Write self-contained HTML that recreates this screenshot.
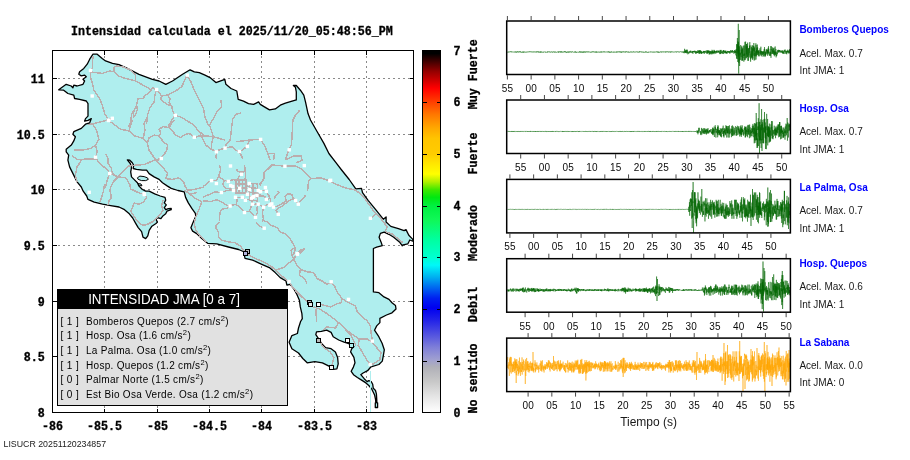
<!DOCTYPE html><html><head><meta charset="utf-8"><title>Intensidad JMA</title>
<style>html,body{margin:0;padding:0;background:#fff}svg{display:block;will-change:transform}.m{font-family:"Liberation Mono","DejaVu Sans Mono",monospace;font-weight:bold;font-size:11.67px;fill:#000;stroke:#000;stroke-width:0.3px}.s{font-family:"Liberation Sans","DejaVu Sans",sans-serif;fill:#1a1a1a}</style></head><body>
<svg width="910" height="460" viewBox="0 0 910 460">
<rect width="910" height="460" fill="#fff"/>
<clipPath id="mc"><rect x="52.5" y="50.5" width="361" height="362"/></clipPath>
<g stroke="#8a8a8a" stroke-width="1" stroke-dasharray="2,3" shape-rendering="crispEdges">
<line x1="104.5" y1="50.5" x2="104.5" y2="412.5"/>
<line x1="157.5" y1="50.5" x2="157.5" y2="412.5"/>
<line x1="209.5" y1="50.5" x2="209.5" y2="412.5"/>
<line x1="261.5" y1="50.5" x2="261.5" y2="412.5"/>
<line x1="314.5" y1="50.5" x2="314.5" y2="412.5"/>
<line x1="366.5" y1="50.5" x2="366.5" y2="412.5"/>
<line x1="52.5" y1="78.5" x2="413.5" y2="78.5"/>
<line x1="52.5" y1="134.5" x2="413.5" y2="134.5"/>
<line x1="52.5" y1="189.5" x2="413.5" y2="189.5"/>
<line x1="52.5" y1="245.5" x2="413.5" y2="245.5"/>
<line x1="52.5" y1="301.5" x2="413.5" y2="301.5"/>
<line x1="52.5" y1="356.5" x2="413.5" y2="356.5"/>
</g>
<g clip-path="url(#mc)">
<polygon points="93.0,54.2 97.2,54.2 102.2,58.4 105.6,60.9 112.5,63.3 119.0,64.7 127.3,68.4 139.0,74.3 152.4,79.3 159.1,81.0 165.8,84.3 172.5,81.0 182.6,74.3 190.1,69.8 194.3,71.8 199.3,72.6 205.0,75.1 210.0,77.6 215.9,82.6 224.8,79.3 225.9,84.3 231.0,88.5 236.8,91.0 238.2,99.4 243.5,101.1 248.5,103.6 253.6,104.4 258.6,101.9 260.3,104.4 264.4,106.9 269.5,109.9 275.3,108.9 280.3,105.2 285.4,103.2 292.1,101.1 296.3,99.9 296.3,91.8 295.4,87.2 293.4,85.5 296.3,85.5 300.4,90.2 303.8,95.2 305.5,101.9 308.0,113.6 310.5,120.0 317.2,131.7 323.9,143.4 328.9,153.5 337.3,164.4 341.6,170.0 349.2,179.5 355.8,188.9 361.5,188.4 362.5,192.7 368.1,200.3 375.7,209.7 383.3,219.2 386.1,216.9 386.1,222.0 390.8,226.4 398.4,228.7 404.1,230.6 406.0,229.6 408.8,235.3 412.6,239.1 413.5,241.5 409.8,240.0 407.9,243.8 403.1,244.8 402.2,245.7 399.4,241.9 393.7,237.2 388.9,234.3 384.2,232.1 380.4,233.4 379.1,237.2 381.0,241.9 382.3,245.7 376.7,247.2 373.4,248.5 373.4,291.9 378.9,292.7 384.0,296.9 389.0,299.4 392.0,302.8 395.5,305.5 396.0,309.0 392.0,312.8 386.5,315.0 379.9,318.3 379.9,322.6 376.7,325.9 374.5,330.2 378.8,336.7 382.1,343.2 384.3,349.8 383.2,356.3 382.3,361.1 378.9,364.5 371.0,366.8 367.6,370.7 363.1,373.0 360.8,374.7 364.2,378.7 367.1,381.6 368.8,380.6 371.2,381.5 372.7,384.3 373.3,388.3 375.5,390.5 376.4,393.9 376.7,398.5 376.9,402.8 377.6,402.8 377.6,407.5 375.3,407.5 375.3,402.8 375.8,402.8 375.5,399.0 374.6,395.1 373.3,392.2 371.6,388.8 368.8,385.5 365.9,382.9 362.0,380.4 357.4,377.5 353.5,374.7 351.2,371.3 353.4,367.1 355.0,362.8 353.9,357.4 350.6,351.9 351.7,348.7 353.9,346.5 350.6,344.3 347.3,343.2 344.1,342.2 338.7,340.0 333.2,336.7 331.1,332.4 326.7,330.2 321.3,331.3 316.5,331.9 315.8,334.6 318.7,338.9 321.3,343.2 325.6,347.6 331.1,348.7 335.4,351.9 337.6,357.4 338.2,363.9 336.9,368.9 333.2,369.3 328.9,366.1 322.4,362.8 314.8,361.7 307.2,362.8 302.8,358.5 298.5,353.0 291.9,348.7 289.1,342.2 291.9,335.6 297.4,333.5 298.5,328.0 300.6,321.5 302.3,318.7 301.9,313.6 300.3,306.9 299.4,300.2 296.9,294.4 293.6,288.5 290.2,284.3 286.9,285.2 286.0,281.0 280.2,277.6 275.2,272.6 269.3,267.6 261.8,264.3 252.6,260.1 245.0,258.4 244.2,254.2 244.4,252.0 238.6,249.5 228.5,247.0 216.8,243.9 207.6,243.3 201.8,238.6 196.7,233.6 192.6,231.1 190.9,227.7 192.6,223.5 195.9,216.0 195.2,213.2 191.8,208.4 188.3,202.9 185.6,197.4 184.2,191.9 178.0,190.5 171.2,188.4 167.5,186.1 162.5,182.8 159.1,179.4 154.1,176.9 149.1,173.6 146.6,170.2 142.4,170.2 136.5,169.4 133.2,168.5 133.7,165.2 132.3,162.7 129.8,160.2 127.3,159.8 130.3,163.5 131.5,167.7 130.7,171.9 131.5,176.9 134.0,179.4 137.4,182.8 139.0,186.1 142.4,189.5 145.7,191.1 149.2,191.2 154.7,193.9 160.2,196.0 165.0,197.4 165.7,200.1 164.3,202.9 166.3,204.9 164.3,207.7 165.7,209.7 168.4,208.6 171.2,208.4 171.2,209.7 167.0,211.1 165.7,213.8 162.9,215.9 160.9,218.7 157.4,217.7 156.0,219.3 157.4,222.1 156.0,223.5 151.9,226.2 149.2,230.3 147.8,235.8 145.7,238.6 143.0,237.2 141.6,231.7 138.2,227.6 135.4,222.8 132.7,218.0 129.3,213.8 124.5,209.7 119.0,207.0 110.7,205.6 102.5,204.2 94.2,202.2 88.0,199.4 86.7,196.0 83.2,191.2 81.3,187.0 77.1,181.9 74.6,176.9 72.1,171.9 69.6,166.9 67.9,160.2 68.7,155.2 66.2,151.8 66.2,149.3 71.3,145.1 73.8,140.9 75.4,136.7 72.9,134.2 73.8,131.7 81.3,128.4 85.5,124.2 89.7,122.8 91.3,118.6 88.0,120.3 84.6,121.1 85.5,118.6 88.0,116.1 88.0,103.6 86.3,101.0 79.6,99.4 74.6,98.5 73.8,95.2 67.9,93.5 63.7,90.2 58.7,89.8 66.2,84.3 71.2,86.0 72.9,87.7 73.8,85.2 77.1,86.0 83.0,84.3 84.6,81.0 83.0,79.3 86.3,76.8 84.6,75.1 81.3,75.9 78.8,74.3 79.6,71.8 83.8,68.4 87.2,64.2 89.7,59.2" fill="#afeeee" stroke="#000" stroke-width="1.3" stroke-linejoin="round"/>
<polygon points="137.4,177.8 139.9,176.1 144.1,176.6 147.4,177.8 148.3,179.4 145.7,180.6 141.6,180.6 138.2,179.4" fill="#afeeee" stroke="#000" stroke-width="1"/>
<polygon points="138.0,183.6 141.0,184.0 142.0,185.8 139.5,185.6" fill="#afeeee" stroke="#000" stroke-width="1"/>
<polyline points="93.0,55.9 92.2,68.4 90.5,70.9 90.5,76.8 93.0,86.0 93.8,90.2 99.7,98.5 102.2,105.2 104.7,113.6 108.1,119.5 112.3,118.3" fill="none" stroke="#bbadad" stroke-width="1.45" stroke-linejoin="round" shape-rendering="crispEdges"/>
<polyline points="108.1,119.8 93.8,123.7 88.0,124.5" fill="none" stroke="#bbadad" stroke-width="1.45" stroke-linejoin="round" shape-rendering="crispEdges"/>
<polyline points="90.5,71.8 95.5,72.6 102.2,73.4 109.8,70.9 113.9,71.8 118.1,75.9 125.7,78.5 135.7,81.0 143.2,85.2 148.3,87.7 150.8,91.0 148.3,93.5 144.9,95.2 143.2,98.5 138.2,98.5 136.5,105.2 134.0,110.3 131.5,114.4 130.7,122.0 129.0,126.2 132.3,120.0" fill="none" stroke="#bbadad" stroke-width="1.45" stroke-linejoin="round" shape-rendering="crispEdges"/>
<polyline points="113.9,71.8 113.9,67.6 116.4,65.9 122.3,66.7 130.7,70.1 135.7,75.1 135.7,81.0" fill="none" stroke="#bbadad" stroke-width="1.45" stroke-linejoin="round" shape-rendering="crispEdges"/>
<polyline points="150.8,91.0 152.4,87.7 156.6,89.8 159.1,92.7 161.6,96.0 160.8,99.4 163.3,101.9 167.5,104.4 171.7,106.1 172.5,110.3 175.0,115.3 180.9,117.0 187.6,121.1 194.3,125.3 197.6,130.0 203.5,135.1" fill="none" stroke="#bbadad" stroke-width="1.45" stroke-linejoin="round" shape-rendering="crispEdges"/>
<polyline points="156.6,89.8 154.9,95.2 154.1,101.9 149.9,107.8 147.4,115.3 146.6,123.7 145.7,120.0 144.1,123.3 144.9,130.0 143.2,138.4" fill="none" stroke="#bbadad" stroke-width="1.45" stroke-linejoin="round" shape-rendering="crispEdges"/>
<polyline points="161.6,96.0 167.5,94.9 170.8,93.5 176.7,90.2 181.7,86.8 185.1,79.3 186.8,75.1" fill="none" stroke="#bbadad" stroke-width="1.45" stroke-linejoin="round" shape-rendering="crispEdges"/>
<polyline points="167.5,94.9 170.0,98.5 169.2,102.7 171.7,106.1" fill="none" stroke="#bbadad" stroke-width="1.45" stroke-linejoin="round" shape-rendering="crispEdges"/>
<polyline points="186.8,75.1 190.9,81.8 194.3,90.2 199.3,100.2 203.5,108.6 205.0,117.0 208.4,125.3 210.0,126.7 213.4,136.7 211.7,143.4 211.7,149.3" fill="none" stroke="#bbadad" stroke-width="1.45" stroke-linejoin="round" shape-rendering="crispEdges"/>
<polyline points="136.5,105.2 134.0,110.3 133.2,117.0 135.7,114.4 137.4,109.4 136.5,105.2" fill="none" stroke="#bbadad" stroke-width="1.45" stroke-linejoin="round" shape-rendering="crispEdges"/>
<polyline points="175.0,115.3 171.7,120.3 168.3,126.2 169.2,127.5" fill="none" stroke="#bbadad" stroke-width="1.45" stroke-linejoin="round" shape-rendering="crispEdges"/>
<polyline points="220.9,100.2 221.8,106.9 216.7,111.9 214.2,117.0 210.0,124.5 208.4,125.3" fill="none" stroke="#bbadad" stroke-width="1.45" stroke-linejoin="round" shape-rendering="crispEdges"/>
<polyline points="241.0,112.8 236.0,114.4 232.6,119.5 231.8,126.2 231.0,133.4 230.1,140.1 225.9,145.1 225.1,148.1 220.9,149.3 216.7,151.0" fill="none" stroke="#bbadad" stroke-width="1.45" stroke-linejoin="round" shape-rendering="crispEdges"/>
<polyline points="299.6,110.3 295.4,115.3 292.9,120.3 292.4,126.0 292.1,136.7 291.2,145.1 288.7,150.1 287.0,155.2 285.4,160.2" fill="none" stroke="#bbadad" stroke-width="1.45" stroke-linejoin="round" shape-rendering="crispEdges"/>
<polyline points="92.2,123.3 96.4,130.0 98.9,139.2 95.5,145.1 97.2,151.8 95.5,157.7" fill="none" stroke="#bbadad" stroke-width="1.45" stroke-linejoin="round" shape-rendering="crispEdges"/>
<polyline points="73.8,150.1 82.1,150.1 90.5,148.5 95.5,145.1" fill="none" stroke="#bbadad" stroke-width="1.45" stroke-linejoin="round" shape-rendering="crispEdges"/>
<polyline points="72.1,156.0 77.1,159.3 82.1,159.3 95.5,158.8" fill="none" stroke="#bbadad" stroke-width="1.45" stroke-linejoin="round" shape-rendering="crispEdges"/>
<polyline points="82.1,159.3 77.1,166.9 75.4,175.2 77.1,181.9" fill="none" stroke="#bbadad" stroke-width="1.45" stroke-linejoin="round" shape-rendering="crispEdges"/>
<polyline points="95.5,157.7 100.5,164.4 107.2,169.4 109.7,173.6 113.9,175.2 118.1,176.9 124.0,170.2 129.0,166.0 135.7,165.2 144.9,164.4 154.1,160.2 160.8,158.5" fill="none" stroke="#bbadad" stroke-width="1.45" stroke-linejoin="round" shape-rendering="crispEdges"/>
<polyline points="105.6,153.5 108.1,158.5 108.1,163.5 111.4,168.5 112.3,173.6 118.1,176.9" fill="none" stroke="#bbadad" stroke-width="1.45" stroke-linejoin="round" shape-rendering="crispEdges"/>
<polyline points="109.7,173.6 107.2,180.3 105.6,187.0 104.5,185.0 103.2,191.9 101.1,198.7 99.7,202.2" fill="none" stroke="#bbadad" stroke-width="1.45" stroke-linejoin="round" shape-rendering="crispEdges"/>
<polyline points="118.1,176.9 113.9,181.1 110.6,187.0 110.0,190.5 111.4,197.4 108.7,201.5 108.0,204.9" fill="none" stroke="#bbadad" stroke-width="1.45" stroke-linejoin="round" shape-rendering="crispEdges"/>
<polyline points="118.1,176.9 125.7,177.8 129.8,184.4 130.6,189.1 134.1,190.5 138.2,192.6 144.4,194.6 146.4,197.4 143.7,202.2 138.9,204.2 134.1,202.9 132.7,207.0 130.6,211.1 134.1,216.6 137.5,221.4 141.6,224.8 146.4,224.8 151.9,222.1 156.0,218.7 160.2,214.5 162.9,210.4 161.5,205.6 162.9,200.1" fill="none" stroke="#bbadad" stroke-width="1.45" stroke-linejoin="round" shape-rendering="crispEdges"/>
<polyline points="108.9,120.5 114.8,125.0 120.6,129.2 129.0,130.9 134.9,135.9 143.2,138.4 147.4,143.4 149.1,150.1 152.4,155.2 156.6,161.0 160.8,158.5" fill="none" stroke="#bbadad" stroke-width="1.45" stroke-linejoin="round" shape-rendering="crispEdges"/>
<polyline points="156.6,161.0 162.5,166.9 167.5,173.6 165.8,178.6 172.5,179.4 178.7,177.8 183.7,181.9 185.4,187.0 187.6,190.3 194.3,189.5 203.5,187.0" fill="none" stroke="#bbadad" stroke-width="1.45" stroke-linejoin="round" shape-rendering="crispEdges"/>
<polyline points="215.9,158.5 216.7,151.0" fill="none" stroke="#bbadad" stroke-width="1.45" stroke-linejoin="round" shape-rendering="crispEdges"/>
<polyline points="129.0,130.9 130.7,125.0 132.3,120.0" fill="none" stroke="#bbadad" stroke-width="1.45" stroke-linejoin="round" shape-rendering="crispEdges"/>
<polyline points="147.4,143.4 149.1,137.6 154.1,135.1 159.1,135.9 163.3,141.8 167.5,145.1 166.7,151.0 162.5,156.0 160.8,158.5" fill="none" stroke="#bbadad" stroke-width="1.45" stroke-linejoin="round" shape-rendering="crispEdges"/>
<polyline points="159.1,135.9 160.8,132.6 159.1,129.2 163.3,126.7 169.2,127.5 175.9,135.1 180.1,137.6 185.9,134.2 189.3,133.4 194.3,137.6 199.3,135.9 205.0,135.9 213.4,136.7 225.1,140.1" fill="none" stroke="#bbadad" stroke-width="1.45" stroke-linejoin="round" shape-rendering="crispEdges"/>
<polyline points="169.2,127.5 171.7,123.3 174.2,120.0" fill="none" stroke="#bbadad" stroke-width="1.45" stroke-linejoin="round" shape-rendering="crispEdges"/>
<polyline points="200.0,133.4 205.9,145.1 210.9,149.3 216.7,151.0" fill="none" stroke="#bbadad" stroke-width="1.45" stroke-linejoin="round" shape-rendering="crispEdges"/>
<polyline points="225.1,148.1 231.8,146.8 236.0,150.1 239.3,151.5 243.5,149.3 246.9,146.4 249.4,140.1 260.3,139.2 264.4,145.1 267.8,153.5 270.3,160.2" fill="none" stroke="#bbadad" stroke-width="1.45" stroke-linejoin="round" shape-rendering="crispEdges"/>
<polyline points="249.4,140.1 236.0,141.8" fill="none" stroke="#bbadad" stroke-width="1.45" stroke-linejoin="round" shape-rendering="crispEdges"/>
<polyline points="267.8,153.5 274.5,153.5 273.6,160.2" fill="none" stroke="#bbadad" stroke-width="1.45" stroke-linejoin="round" shape-rendering="crispEdges"/>
<polyline points="306.3,173.6 311.4,178.5 320.8,177.9 328.4,180.4 336.0,184.2 345.4,188.0 354.9,189.9 360.6,193.7 365.3,199.3 372.9,210.0 375.7,213.5 381.4,219.2 387.1,226.8 385.2,231.5 392.7,234.3 398.4,239.1 403.1,242.9" fill="none" stroke="#bbadad" stroke-width="1.45" stroke-linejoin="round" shape-rendering="crispEdges"/>
<polyline points="375.7,213.5 372.9,216.4 370.4,218.3" fill="none" stroke="#bbadad" stroke-width="1.45" stroke-linejoin="round" shape-rendering="crispEdges"/>
<polyline points="285.4,160.2 293.7,156.0 301.3,156.0 302.1,160.2 296.3,162.7" fill="none" stroke="#bbadad" stroke-width="1.45" stroke-linejoin="round" shape-rendering="crispEdges"/>
<polyline points="311.4,178.5 308.5,181.4 307.6,190.8" fill="none" stroke="#bbadad" stroke-width="1.45" stroke-linejoin="round" shape-rendering="crispEdges"/>
<polyline points="239.3,151.5 242.7,158.5" fill="none" stroke="#bbadad" stroke-width="1.45" stroke-linejoin="round" shape-rendering="crispEdges"/>
<polyline points="184.2,190.0 190.0,194.2 195.1,198.4 201.8,201.8 199.3,208.5 195.9,216.8 194.2,223.5 195.9,230.2 200.1,236.1 206.8,241.9" fill="none" stroke="#bbadad" stroke-width="1.45" stroke-linejoin="round" shape-rendering="crispEdges"/>
<polyline points="190.0,194.2 196.7,192.6" fill="none" stroke="#bbadad" stroke-width="1.45" stroke-linejoin="round" shape-rendering="crispEdges"/>
<polyline points="256.2,222.7 259.5,226.0 263.7,228.2" fill="none" stroke="#bbadad" stroke-width="1.45" stroke-linejoin="round" shape-rendering="crispEdges"/>
<polyline points="219.3,221.8 216.0,225.2 216.0,228.5 218.5,231.9 218.5,236.9 221.8,240.3 228.5,241.9 235.2,242.8 240.3,246.1 244.4,251.1 247.5,254.2 255.1,258.4 263.4,261.7 271.8,266.8 276.0,270.9 283.0,277.0 288.5,281.8 295.2,290.2 301.1,296.1 307.0,301.9" fill="none" stroke="#bbadad" stroke-width="1.45" stroke-linejoin="round" shape-rendering="crispEdges"/>
<polyline points="263.7,221.0 267.0,221.8 271.2,225.2 277.1,227.7 280.4,231.9 286.3,234.4 290.5,239.4 293.0,243.6 295.5,248.6 293.8,253.7 291.9,255.0 293.6,259.2 288.5,263.4 283.5,267.6 276.0,270.1" fill="none" stroke="#bbadad" stroke-width="1.45" stroke-linejoin="round" shape-rendering="crispEdges"/>
<polyline points="297.2,253.7 300.5,250.3 304.7,248.3" fill="none" stroke="#bbadad" stroke-width="1.45" stroke-linejoin="round" shape-rendering="crispEdges"/>
<polyline points="293.6,245.0 295.2,247.5 291.1,250.0 291.9,255.0" fill="none" stroke="#bbadad" stroke-width="1.45" stroke-linejoin="round" shape-rendering="crispEdges"/>
<polyline points="304.4,248.3 300.3,251.7 296.9,254.2 293.6,259.2 296.9,265.1 300.3,269.3 307.0,271.8 313.7,272.6 317.0,278.5 322.0,281.0 327.0,284.3 331.2,282.7 334.6,286.0 337.1,291.9 342.1,298.6 347.1,301.9 355.5,306.1 357.2,312.0 362.2,317.0 366.9,320.4 370.2,325.9 371.2,333.5 372.3,341.1" fill="none" stroke="#bbadad" stroke-width="1.45" stroke-linejoin="round" shape-rendering="crispEdges"/>
<polyline points="300.3,269.3 299.4,275.1 304.4,278.5 307.0,283.5" fill="none" stroke="#bbadad" stroke-width="1.45" stroke-linejoin="round" shape-rendering="crispEdges"/>
<polyline points="320.7,304.4 330.4,306.9 337.1,303.6 341.3,302.8 342.1,298.6" fill="none" stroke="#bbadad" stroke-width="1.45" stroke-linejoin="round" shape-rendering="crispEdges"/>
<polyline points="313.7,306.9 320.3,309.4 327.0,313.6 333.7,318.7 338.7,322.6 345.2,329.1 353.9,335.6 359.3,338.9 366.9,338.9 372.3,342.2 376.7,347.6 381.0,353.0 379.9,359.5 373.4,363.9 370.2,364.5" fill="none" stroke="#bbadad" stroke-width="1.45" stroke-linejoin="round" shape-rendering="crispEdges"/>
<polyline points="316.2,308.6 316.2,316.1 316.9,321.5" fill="none" stroke="#bbadad" stroke-width="1.45" stroke-linejoin="round" shape-rendering="crispEdges"/>
<polyline points="359.3,338.9 358.2,345.4 361.5,350.8 364.7,356.3 368.0,361.7 370.2,364.5" fill="none" stroke="#bbadad" stroke-width="1.45" stroke-linejoin="round" shape-rendering="crispEdges"/>
<polyline points="338.7,322.6 335.4,328.0 326.7,326.9 323.5,330.2" fill="none" stroke="#bbadad" stroke-width="1.45" stroke-linejoin="round" shape-rendering="crispEdges"/>
<polyline points="320.2,342.2 323.5,347.6 330.0,351.9 333.9,357.4 332.1,365.0" fill="none" stroke="#bbadad" stroke-width="1.45" stroke-linejoin="round" shape-rendering="crispEdges"/>
<polyline points="345.2,329.1 351.7,336.7 356.0,345.4" fill="none" stroke="#bbadad" stroke-width="1.45" stroke-linejoin="round" shape-rendering="crispEdges"/>
<polyline points="300.0,253.3 304.7,248.5" fill="none" stroke="#bbadad" stroke-width="1.45" stroke-linejoin="round" shape-rendering="crispEdges"/>
<polyline points="219.4,165.0 220.6,169.8 218.8,175.8 221.1,178.2 224.1,180.6 222.9,184.7 225.3,188.3 230.1,188.9 233.7,189.5" fill="none" stroke="#bbadad" stroke-width="1.45" stroke-linejoin="round" shape-rendering="crispEdges"/>
<polyline points="203.0,186.5 205.0,185.3 209.2,181.7 211.6,180.6 216.4,180.6 218.8,175.8" fill="none" stroke="#bbadad" stroke-width="1.45" stroke-linejoin="round" shape-rendering="crispEdges"/>
<polyline points="203.0,197.0 205.0,196.1 209.8,194.3 214.6,191.9 221.1,192.5 226.5,190.7 233.7,189.5" fill="none" stroke="#bbadad" stroke-width="1.45" stroke-linejoin="round" shape-rendering="crispEdges"/>
<polyline points="203.0,201.0 205.0,200.9 211.0,201.5 217.0,199.7 221.7,202.1 227.7,205.7 236.1,204.5 237.3,199.7 235.5,197.3" fill="none" stroke="#bbadad" stroke-width="1.45" stroke-linejoin="round" shape-rendering="crispEdges"/>
<polyline points="219.4,221.0 219.4,219.4 220.0,212.8 221.7,209.3 227.7,208.1 229.0,206.0" fill="none" stroke="#bbadad" stroke-width="1.45" stroke-linejoin="round" shape-rendering="crispEdges"/>
<polyline points="236.1,204.5 240.9,208.1 244.5,212.2 249.3,211.1 251.1,206.9 252.2,204.5 257.6,203.9 257.0,209.9 257.6,212.8 255.2,217.0 250.5,212.2 249.3,211.1" fill="none" stroke="#bbadad" stroke-width="1.45" stroke-linejoin="round" shape-rendering="crispEdges"/>
<polyline points="257.6,203.9 263.6,206.9 267.2,204.5 270.8,204.5 273.5,207.0 276.8,206.3 281.6,203.9 286.3,200.9 285.1,196.1 287.5,193.7 291.7,194.3 293.5,198.5 288.7,200.9 282.8,205.7 278.0,208.1 276.2,210.5 278.0,214.0" fill="none" stroke="#bbadad" stroke-width="1.45" stroke-linejoin="round" shape-rendering="crispEdges"/>
<polyline points="263.6,206.9 262.4,212.8 263.6,219.4 262.0,221.0" fill="none" stroke="#bbadad" stroke-width="1.45" stroke-linejoin="round" shape-rendering="crispEdges"/>
<polyline points="293.5,198.5 295.3,200.3 298.3,204.2 300.7,200.9 304.3,197.3 305.5,195.1" fill="none" stroke="#bbadad" stroke-width="1.45" stroke-linejoin="round" shape-rendering="crispEdges"/>
<polyline points="273.8,198.5 276.8,194.9 279.2,192.5 277.4,191.3" fill="none" stroke="#bbadad" stroke-width="1.45" stroke-linejoin="round" shape-rendering="crispEdges"/>
<polyline points="272.0,165.0 267.2,169.8 264.2,172.2 264.2,178.2 261.2,182.9 259.4,183.5 261.2,185.3" fill="none" stroke="#bbadad" stroke-width="1.45" stroke-linejoin="round" shape-rendering="crispEdges"/>
<polyline points="272.0,165.0 279.2,165.6 285.1,166.2 295.9,166.2 300.7,168.6 305.0,172.2 306.3,173.6" fill="none" stroke="#bbadad" stroke-width="1.45" stroke-linejoin="round" shape-rendering="crispEdges"/>
<polyline points="244.5,165.0 245.1,169.8 243.3,172.2 237.3,171.6 236.7,168.6" fill="none" stroke="#bbadad" stroke-width="1.45" stroke-linejoin="round" shape-rendering="crispEdges"/>
<polyline points="245.1,169.8 245.7,174.6 245.1,179.4 246.3,182.9" fill="none" stroke="#bbadad" stroke-width="1.45" stroke-linejoin="round" shape-rendering="crispEdges"/>
<polyline points="224.1,180.6 228.3,181.1 233.7,179.4 236.1,180.6 240.9,174.6" fill="none" stroke="#bbadad" stroke-width="1.45" stroke-linejoin="round" shape-rendering="crispEdges"/>
<polyline points="245.7,188.9 255.2,187.7 260.0,190.7 266.0,190.7 268.4,194.9 270.2,198.5 270.8,204.5" fill="none" stroke="#bbadad" stroke-width="1.45" stroke-linejoin="round" shape-rendering="crispEdges"/>
<polyline points="257.6,193.7 264.8,196.7 266.6,199.7 270.2,198.5" fill="none" stroke="#bbadad" stroke-width="1.45" stroke-linejoin="round" shape-rendering="crispEdges"/>
<polyline points="235.5,197.3 242.1,197.3 245.7,200.3 251.1,198.5 252.8,197.3" fill="none" stroke="#bbadad" stroke-width="1.45" stroke-linejoin="round" shape-rendering="crispEdges"/>
<polyline points="252.2,204.5 251.7,200.9 251.1,198.5" fill="none" stroke="#bbadad" stroke-width="1.45" stroke-linejoin="round" shape-rendering="crispEdges"/>
<polyline points="236.0,180.0 246.0,180.0 246.0,193.0 236.0,193.0 236.0,180.0" fill="none" stroke="#bbadad" stroke-width="1.45" stroke-linejoin="round" shape-rendering="crispEdges"/>
<polyline points="239.0,180.0 239.0,193.0" fill="none" stroke="#bbadad" stroke-width="1.45" stroke-linejoin="round" shape-rendering="crispEdges"/>
<polyline points="242.5,180.0 242.5,193.0" fill="none" stroke="#bbadad" stroke-width="1.45" stroke-linejoin="round" shape-rendering="crispEdges"/>
<polyline points="236.0,184.0 246.0,184.0" fill="none" stroke="#bbadad" stroke-width="1.45" stroke-linejoin="round" shape-rendering="crispEdges"/>
<polyline points="236.0,188.0 246.0,188.0" fill="none" stroke="#bbadad" stroke-width="1.45" stroke-linejoin="round" shape-rendering="crispEdges"/>
<polyline points="249.5,183.0 257.5,184.0 257.5,201.0 249.5,200.0 249.5,183.0" fill="none" stroke="#bbadad" stroke-width="1.45" stroke-linejoin="round" shape-rendering="crispEdges"/>
<polyline points="253.0,183.5 253.0,200.5" fill="none" stroke="#bbadad" stroke-width="1.45" stroke-linejoin="round" shape-rendering="crispEdges"/>
<polyline points="249.5,188.0 257.5,188.5" fill="none" stroke="#bbadad" stroke-width="1.45" stroke-linejoin="round" shape-rendering="crispEdges"/>
<polyline points="249.5,192.5 257.5,193.0" fill="none" stroke="#bbadad" stroke-width="1.45" stroke-linejoin="round" shape-rendering="crispEdges"/>
<polyline points="249.5,196.5 257.5,197.0" fill="none" stroke="#bbadad" stroke-width="1.45" stroke-linejoin="round" shape-rendering="crispEdges"/>
<polyline points="246.0,186.0 249.5,186.5" fill="none" stroke="#bbadad" stroke-width="1.45" stroke-linejoin="round" shape-rendering="crispEdges"/>
<polyline points="246.0,190.5 249.5,191.0" fill="none" stroke="#bbadad" stroke-width="1.45" stroke-linejoin="round" shape-rendering="crispEdges"/>
<polyline points="257.5,190.0 260.0,190.7" fill="none" stroke="#bbadad" stroke-width="1.45" stroke-linejoin="round" shape-rendering="crispEdges"/>
<polyline points="257.5,196.0 264.0,196.5" fill="none" stroke="#bbadad" stroke-width="1.45" stroke-linejoin="round" shape-rendering="crispEdges"/>
<rect x="370" y="371" width="1" height="41" fill="#afeeee"/>
<rect x="88.8" y="68.7" width="3.4" height="3.4" fill="#fff"/>
<rect x="90.5" y="94.3" width="3.4" height="3.4" fill="#fff"/>
<rect x="107.2" y="118.6" width="3.4" height="3.4" fill="#fff"/>
<rect x="110.6" y="116.6" width="3.4" height="3.4" fill="#fff"/>
<rect x="154.9" y="87.8" width="3.4" height="3.4" fill="#fff"/>
<rect x="185.6" y="73.4" width="3.4" height="3.4" fill="#fff"/>
<rect x="173.7" y="113.6" width="3.4" height="3.4" fill="#fff"/>
<rect x="106.7" y="118.8" width="3.4" height="3.4" fill="#fff"/>
<rect x="93.8" y="155.5" width="3.4" height="3.4" fill="#fff"/>
<rect x="108" y="171.9" width="3.4" height="3.4" fill="#fff"/>
<rect x="87.5" y="190.6" width="3.4" height="3.4" fill="#fff"/>
<rect x="142.4" y="192" width="3.4" height="3.4" fill="#fff"/>
<rect x="159.6" y="156.8" width="3.4" height="3.4" fill="#fff"/>
<rect x="192.6" y="135.5" width="3.4" height="3.4" fill="#fff"/>
<rect x="214.7" y="150.1" width="3.4" height="3.4" fill="#fff"/>
<rect x="223.4" y="146.4" width="3.4" height="3.4" fill="#fff"/>
<rect x="237.6" y="149.8" width="3.4" height="3.4" fill="#fff"/>
<rect x="245.7" y="144.7" width="3.4" height="3.4" fill="#fff"/>
<rect x="258.9" y="137.7" width="3.4" height="3.4" fill="#fff"/>
<rect x="287.5" y="148.1" width="3.4" height="3.4" fill="#fff"/>
<rect x="328.9" y="178.6" width="3.4" height="3.4" fill="#fff"/>
<rect x="262.5" y="226.5" width="3.4" height="3.4" fill="#fff"/>
<rect x="295.5" y="252" width="3.4" height="3.4" fill="#fff"/>
<rect x="328.1" y="179.1" width="3.4" height="3.4" fill="#fff"/>
<rect x="368.7" y="216.6" width="3.4" height="3.4" fill="#fff"/>
<rect x="295.7" y="252.5" width="3.4" height="3.4" fill="#fff"/>
<rect x="287.3" y="279.8" width="3.4" height="3.4" fill="#fff"/>
<rect x="329.5" y="280.1" width="3.4" height="3.4" fill="#fff"/>
<rect x="346.8" y="297.7" width="3.4" height="3.4" fill="#fff"/>
<rect x="370.6" y="339.4" width="3.4" height="3.4" fill="#fff"/>
<rect x="368.5" y="362.8" width="3.4" height="3.4" fill="#fff"/>
<rect x="142.7" y="192.9" width="3.4" height="3.4" fill="#fff"/>
<rect x="209.9" y="178.9" width="3.4" height="3.4" fill="#fff"/>
<rect x="214.7" y="181.8" width="3.4" height="3.4" fill="#fff"/>
<rect x="226.6" y="179.7" width="3.4" height="3.4" fill="#fff"/>
<rect x="229" y="183.9" width="3.4" height="3.4" fill="#fff"/>
<rect x="231.1" y="184.8" width="3.4" height="3.4" fill="#fff"/>
<rect x="219.7" y="190.8" width="3.4" height="3.4" fill="#fff"/>
<rect x="231.8" y="188.8" width="3.4" height="3.4" fill="#fff"/>
<rect x="238" y="186.6" width="3.4" height="3.4" fill="#fff"/>
<rect x="239.8" y="172.6" width="3.4" height="3.4" fill="#fff"/>
<rect x="228.8" y="164.3" width="3.4" height="3.4" fill="#fff"/>
<rect x="247.6" y="181.8" width="3.4" height="3.4" fill="#fff"/>
<rect x="247.6" y="187.8" width="3.4" height="3.4" fill="#fff"/>
<rect x="245.8" y="192.6" width="3.4" height="3.4" fill="#fff"/>
<rect x="233.8" y="195.6" width="3.4" height="3.4" fill="#fff"/>
<rect x="240.6" y="195.6" width="3.4" height="3.4" fill="#fff"/>
<rect x="243.7" y="198.6" width="3.4" height="3.4" fill="#fff"/>
<rect x="251.1" y="195.6" width="3.4" height="3.4" fill="#fff"/>
<rect x="252.1" y="194.8" width="3.4" height="3.4" fill="#fff"/>
<rect x="249.9" y="196.5" width="3.4" height="3.4" fill="#fff"/>
<rect x="255.3" y="193.8" width="3.4" height="3.4" fill="#fff"/>
<rect x="256.5" y="188.8" width="3.4" height="3.4" fill="#fff"/>
<rect x="258.9" y="189.9" width="3.4" height="3.4" fill="#fff"/>
<rect x="263.7" y="185.8" width="3.4" height="3.4" fill="#fff"/>
<rect x="264.7" y="189.6" width="3.4" height="3.4" fill="#fff"/>
<rect x="264.7" y="197.7" width="3.4" height="3.4" fill="#fff"/>
<rect x="250.8" y="202.5" width="3.4" height="3.4" fill="#fff"/>
<rect x="256.5" y="202.5" width="3.4" height="3.4" fill="#fff"/>
<rect x="261.9" y="205.5" width="3.4" height="3.4" fill="#fff"/>
<rect x="269.1" y="202.8" width="3.4" height="3.4" fill="#fff"/>
<rect x="270.1" y="202.2" width="3.4" height="3.4" fill="#fff"/>
<rect x="268.1" y="203.5" width="3.4" height="3.4" fill="#fff"/>
<rect x="271.8" y="205.4" width="3.4" height="3.4" fill="#fff"/>
<rect x="228.4" y="204.3" width="3.4" height="3.4" fill="#fff"/>
<rect x="242.8" y="210.8" width="3.4" height="3.4" fill="#fff"/>
<rect x="253.8" y="215.6" width="3.4" height="3.4" fill="#fff"/>
<rect x="276.6" y="212.6" width="3.4" height="3.4" fill="#fff"/>
<rect x="293.9" y="198.8" width="3.4" height="3.4" fill="#fff"/>
<rect x="296.6" y="202.5" width="3.4" height="3.4" fill="#fff"/>
<rect x="283.2" y="164.5" width="3.4" height="3.4" fill="#fff"/>
<rect x="302.6" y="163.9" width="3.4" height="3.4" fill="#fff"/>
</g>
<rect x="245.8" y="249.3" width="4" height="4" fill="#b9b9b9" stroke="#000" stroke-width="1" shape-rendering="crispEdges"/>
<rect x="243.4" y="251.6" width="4" height="4" fill="#b4b4dc" stroke="#000" stroke-width="1" shape-rendering="crispEdges"/>
<rect x="307.1" y="300.1" width="4" height="4" fill="#b9b9b9" stroke="#000" stroke-width="1" shape-rendering="crispEdges"/>
<rect x="308.7" y="302.2" width="4" height="4" fill="#e8e8e8" stroke="#000" stroke-width="1" shape-rendering="crispEdges"/>
<rect x="316.5" y="302.2" width="4" height="4" fill="#fff" stroke="#000" stroke-width="1" shape-rendering="crispEdges"/>
<rect x="316.6" y="338.6" width="4" height="4" fill="#b9b9b9" stroke="#000" stroke-width="1" shape-rendering="crispEdges"/>
<rect x="345.9" y="338.4" width="4" height="4" fill="#fff" stroke="#000" stroke-width="1" shape-rendering="crispEdges"/>
<rect x="349.2" y="343.2" width="4" height="4" fill="#afeeee" stroke="#000" stroke-width="1" shape-rendering="crispEdges"/>
<rect x="329.7" y="365.3" width="4" height="4" fill="#f4f4f4" stroke="#000" stroke-width="1" shape-rendering="crispEdges"/>
<rect x="52.5" y="50.5" width="361" height="362" fill="none" stroke="#000" stroke-width="1" shape-rendering="crispEdges"/>
<g stroke="#000" stroke-width="1" shape-rendering="crispEdges">
<line x1="104.5" y1="50.5" x2="104.5" y2="54.5"/>
<line x1="104.5" y1="412.5" x2="104.5" y2="408.5"/>
<line x1="157.5" y1="50.5" x2="157.5" y2="54.5"/>
<line x1="157.5" y1="412.5" x2="157.5" y2="408.5"/>
<line x1="209.5" y1="50.5" x2="209.5" y2="54.5"/>
<line x1="209.5" y1="412.5" x2="209.5" y2="408.5"/>
<line x1="261.5" y1="50.5" x2="261.5" y2="54.5"/>
<line x1="261.5" y1="412.5" x2="261.5" y2="408.5"/>
<line x1="314.5" y1="50.5" x2="314.5" y2="54.5"/>
<line x1="314.5" y1="412.5" x2="314.5" y2="408.5"/>
<line x1="366.5" y1="50.5" x2="366.5" y2="54.5"/>
<line x1="366.5" y1="412.5" x2="366.5" y2="408.5"/>
<line x1="52.5" y1="78.5" x2="56.5" y2="78.5"/>
<line x1="413.5" y1="78.5" x2="409.5" y2="78.5"/>
<line x1="52.5" y1="134.5" x2="56.5" y2="134.5"/>
<line x1="413.5" y1="134.5" x2="409.5" y2="134.5"/>
<line x1="52.5" y1="189.5" x2="56.5" y2="189.5"/>
<line x1="413.5" y1="189.5" x2="409.5" y2="189.5"/>
<line x1="52.5" y1="245.5" x2="56.5" y2="245.5"/>
<line x1="413.5" y1="245.5" x2="409.5" y2="245.5"/>
<line x1="52.5" y1="301.5" x2="56.5" y2="301.5"/>
<line x1="413.5" y1="301.5" x2="409.5" y2="301.5"/>
<line x1="52.5" y1="356.5" x2="56.5" y2="356.5"/>
<line x1="413.5" y1="356.5" x2="409.5" y2="356.5"/>
</g>
<text class="m" text-anchor="start" transform="translate(71,34.8) scale(1,1.03)">Intensidad calculada el 2025/11/20_05:48:56_PM</text>
<text class="m" text-anchor="end" transform="translate(44.8,83.2) scale(1,1.03)">11</text>
<text class="m" text-anchor="end" transform="translate(44.8,139.2) scale(1,1.03)">10.5</text>
<text class="m" text-anchor="end" transform="translate(44.8,194.2) scale(1,1.03)">10</text>
<text class="m" text-anchor="end" transform="translate(44.8,250.2) scale(1,1.03)">9.5</text>
<text class="m" text-anchor="end" transform="translate(44.8,306.2) scale(1,1.03)">9</text>
<text class="m" text-anchor="end" transform="translate(44.8,361.2) scale(1,1.03)">8.5</text>
<text class="m" text-anchor="end" transform="translate(44.8,417.2) scale(1,1.03)">8</text>
<text class="m" text-anchor="middle" transform="translate(52.5,430.2) scale(1,1.03)">-86</text>
<text class="m" text-anchor="middle" transform="translate(104.5,430.2) scale(1,1.03)">-85.5</text>
<text class="m" text-anchor="middle" transform="translate(157.5,430.2) scale(1,1.03)">-85</text>
<text class="m" text-anchor="middle" transform="translate(209.5,430.2) scale(1,1.03)">-84.5</text>
<text class="m" text-anchor="middle" transform="translate(261.5,430.2) scale(1,1.03)">-84</text>
<text class="m" text-anchor="middle" transform="translate(314.5,430.2) scale(1,1.03)">-83.5</text>
<text class="m" text-anchor="middle" transform="translate(366.5,430.2) scale(1,1.03)">-83</text>
<text class="s" x="3.5" y="446.8" font-size="8.8">LISUCR 20251120234857</text>
<rect x="57.5" y="289.5" width="230" height="116" fill="#e1e1e1" stroke="#000" stroke-width="1" shape-rendering="crispEdges"/>
<rect x="57" y="289" width="231" height="20" fill="#000" shape-rendering="crispEdges"/>
<text class="s" transform="translate(164,303.8) scale(1,1.09)" font-size="13.4" text-anchor="middle" style="fill:#fff">INTENSIDAD JMA [0 a 7]</text>
<text class="s" x="60.5" y="324.6" font-size="10" letter-spacing="0.4" style="fill:#000">[ 1 ]</text>
<text class="s" x="86" y="324.6" font-size="10" letter-spacing="0.3" style="fill:#000">Bomberos Quepos (2.7 cm/s<tspan font-size="7.6" dy="-3.8">2</tspan><tspan dy="3.8">)</tspan></text>
<text class="s" x="60.5" y="339.25" font-size="10" letter-spacing="0.4" style="fill:#000">[ 1 ]</text>
<text class="s" x="86" y="339.25" font-size="10" letter-spacing="0.3" style="fill:#000">Hosp. Osa (1.6 cm/s<tspan font-size="7.6" dy="-3.8">2</tspan><tspan dy="3.8">)</tspan></text>
<text class="s" x="60.5" y="353.9" font-size="10" letter-spacing="0.4" style="fill:#000">[ 1 ]</text>
<text class="s" x="86" y="353.9" font-size="10" letter-spacing="0.3" style="fill:#000">La Palma. Osa (1.0 cm/s<tspan font-size="7.6" dy="-3.8">2</tspan><tspan dy="3.8">)</tspan></text>
<text class="s" x="60.5" y="368.55" font-size="10" letter-spacing="0.4" style="fill:#000">[ 1 ]</text>
<text class="s" x="86" y="368.55" font-size="10" letter-spacing="0.3" style="fill:#000">Hosp. Quepos (1.2 cm/s<tspan font-size="7.6" dy="-3.8">2</tspan><tspan dy="3.8">)</tspan></text>
<text class="s" x="60.5" y="383.2" font-size="10" letter-spacing="0.4" style="fill:#000">[ 0 ]</text>
<text class="s" x="86" y="383.2" font-size="10" letter-spacing="0.3" style="fill:#000">Palmar Norte (1.5 cm/s<tspan font-size="7.6" dy="-3.8">2</tspan><tspan dy="3.8">)</tspan></text>
<text class="s" x="60.5" y="397.85" font-size="10" letter-spacing="0.4" style="fill:#000">[ 0 ]</text>
<text class="s" x="86" y="397.85" font-size="10" letter-spacing="0.3" style="fill:#000">Est Bio Osa Verde. Osa (1.2 cm/s<tspan font-size="7.6" dy="-3.8">2</tspan><tspan dy="3.8">)</tspan></text>
<defs><linearGradient id="cb" x1="0" y1="1" x2="0" y2="0">
<stop offset="0.0000" stop-color="#ffffff"/>
<stop offset="0.0457" stop-color="#e4e4e4"/>
<stop offset="0.0857" stop-color="#c8c8c8"/>
<stop offset="0.1257" stop-color="#b0b0b8"/>
<stop offset="0.1457" stop-color="#a0a0d0"/>
<stop offset="0.1786" stop-color="#8080d8"/>
<stop offset="0.2171" stop-color="#5050e0"/>
<stop offset="0.2571" stop-color="#2020e8"/>
<stop offset="0.2886" stop-color="#0000f0"/>
<stop offset="0.3157" stop-color="#0020f0"/>
<stop offset="0.3486" stop-color="#0070f0"/>
<stop offset="0.3743" stop-color="#00b0f0"/>
<stop offset="0.4071" stop-color="#00f8f8"/>
<stop offset="0.4286" stop-color="#00ffd0"/>
<stop offset="0.4771" stop-color="#00ffa0"/>
<stop offset="0.5314" stop-color="#10f858"/>
<stop offset="0.5714" stop-color="#00f040"/>
<stop offset="0.5943" stop-color="#00e810"/>
<stop offset="0.6157" stop-color="#40e800"/>
<stop offset="0.6371" stop-color="#b0f000"/>
<stop offset="0.6586" stop-color="#ffff00"/>
<stop offset="0.6857" stop-color="#ffe800"/>
<stop offset="0.7143" stop-color="#ffcc00"/>
<stop offset="0.7571" stop-color="#ffc400"/>
<stop offset="0.7857" stop-color="#ffa800"/>
<stop offset="0.8229" stop-color="#ff7800"/>
<stop offset="0.8571" stop-color="#ff4000"/>
<stop offset="0.8957" stop-color="#ff0000"/>
<stop offset="0.9429" stop-color="#930000"/>
<stop offset="0.9786" stop-color="#270000"/>
<stop offset="0.9914" stop-color="#000000"/>
<stop offset="1.0000" stop-color="#000000"/>
</linearGradient></defs>
<rect x="422.5" y="50.5" width="18" height="362" fill="url(#cb)" stroke="#000" stroke-width="1" shape-rendering="crispEdges"/>
<g stroke="#000" stroke-width="1" shape-rendering="crispEdges">
<line x1="422.5" y1="361.5" x2="426.5" y2="361.5"/>
<line x1="440.5" y1="361.5" x2="436.5" y2="361.5"/>
<line x1="422.5" y1="309.5" x2="426.5" y2="309.5"/>
<line x1="440.5" y1="309.5" x2="436.5" y2="309.5"/>
<line x1="422.5" y1="257.5" x2="426.5" y2="257.5"/>
<line x1="440.5" y1="257.5" x2="436.5" y2="257.5"/>
<line x1="422.5" y1="206.5" x2="426.5" y2="206.5"/>
<line x1="440.5" y1="206.5" x2="436.5" y2="206.5"/>
<line x1="422.5" y1="154.5" x2="426.5" y2="154.5"/>
<line x1="440.5" y1="154.5" x2="436.5" y2="154.5"/>
<line x1="422.5" y1="102.5" x2="426.5" y2="102.5"/>
<line x1="440.5" y1="102.5" x2="436.5" y2="102.5"/>
</g>
<text class="m" text-anchor="start" transform="translate(453.4,416.5) scale(1,1.03)">0</text>
<text class="m" text-anchor="start" transform="translate(453.4,364.786) scale(1,1.03)">1</text>
<text class="m" text-anchor="start" transform="translate(453.4,313.071) scale(1,1.03)">2</text>
<text class="m" text-anchor="start" transform="translate(453.4,261.357) scale(1,1.03)">3</text>
<text class="m" text-anchor="start" transform="translate(453.4,209.643) scale(1,1.03)">4</text>
<text class="m" text-anchor="start" transform="translate(453.4,157.929) scale(1,1.03)">5</text>
<text class="m" text-anchor="start" transform="translate(453.4,106.214) scale(1,1.03)">6</text>
<text class="m" text-anchor="start" transform="translate(453.4,54.5) scale(1,1.03)">7</text>
<text class="m" text-anchor="middle" transform="translate(477,378.5) rotate(-90) scale(1,1.03)">No sentido</text>
<text class="m" text-anchor="middle" transform="translate(477,304.4) rotate(-90) scale(1,1.03)">Debil</text>
<text class="m" text-anchor="middle" transform="translate(477,233) rotate(-90) scale(1,1.03)">Moderado</text>
<text class="m" text-anchor="middle" transform="translate(477,153.6) rotate(-90) scale(1,1.03)">Fuerte</text>
<text class="m" text-anchor="middle" transform="translate(477,74.2) rotate(-90) scale(1,1.03)">Muy Fuerte</text>
<polyline points="507.60,51.78 507.73,52.45 507.87,51.96 508.00,52.02 508.14,52.03 508.27,52.18 508.41,51.66 508.54,51.78 508.68,52.02 508.81,52.12 508.95,52.20 509.08,52.04 509.22,52.28 509.35,51.94 509.49,52.08 509.62,51.92 509.76,51.81 509.89,51.55 510.03,51.95 510.16,51.56 510.30,51.79 510.43,51.96 510.57,52.15 510.70,52.12 510.84,51.60 510.97,51.92 511.11,51.95 511.24,51.75 511.38,52.02 511.51,52.22 511.65,51.71 511.78,51.95 511.92,51.88 512.05,51.82 512.19,52.09 512.32,51.81 512.46,52.03 512.59,51.96 512.73,52.19 512.86,52.17 513.00,51.94 513.13,51.83 513.27,51.97 513.40,52.09 513.54,52.29 513.67,51.99 513.81,51.84 513.94,51.97 514.08,51.90 514.21,51.97 514.35,51.73 514.48,51.91 514.62,52.10 514.75,51.90 514.89,52.45 515.02,52.38 515.16,51.85 515.29,51.80 515.43,51.83 515.56,51.55 515.70,51.99 515.83,52.30 515.97,52.27 516.10,51.89 516.24,52.21 516.37,51.95 516.51,52.05 516.64,52.45 516.78,52.33 516.91,51.55 517.05,51.75 517.18,52.15 517.32,51.55 517.45,51.75 517.59,51.95 517.72,51.88 517.86,51.62 517.99,52.27 518.13,52.14 518.26,52.23 518.40,51.65 518.53,52.04 518.67,52.28 518.80,51.91 518.94,52.08 519.07,51.91 519.21,52.00 519.34,51.87 519.48,51.55 519.61,51.95 519.75,52.17 519.88,51.78 520.02,52.06 520.15,51.67 520.29,52.19 520.42,51.76 520.56,51.55 520.69,51.67 520.83,52.15 520.96,51.88 521.10,51.95 521.23,52.40 521.37,52.09 521.50,52.28 521.64,52.02 521.77,52.26 521.91,52.15 522.04,51.82 522.18,51.89 522.31,51.67 522.45,52.08 522.58,52.29 522.72,52.27 522.85,51.81 522.99,52.45 523.12,52.12 523.26,52.45 523.39,52.24 523.53,52.10 523.66,51.55 523.80,52.45 523.93,52.14 524.07,52.25 524.20,51.79 524.34,52.01 524.47,51.92 524.61,52.04 524.74,52.17 524.88,52.30 525.01,51.75 525.15,52.20 525.28,52.24 525.42,51.97 525.55,51.95 525.69,52.13 525.82,51.94 525.96,52.14 526.09,52.04 526.23,52.34 526.36,52.22 526.50,52.13 526.63,52.12 526.77,52.05 526.90,51.97 527.04,51.65 527.17,52.11 527.31,51.97 527.44,52.05 527.58,51.89 527.71,52.19 527.85,52.29 527.98,52.15 528.12,51.99 528.25,51.74 528.39,52.14 528.52,52.14 528.66,52.07 528.79,51.94 528.93,51.78 529.06,52.10 529.20,51.83 529.33,51.97 529.47,51.66 529.60,51.94 529.74,51.91 529.87,51.81 530.01,51.68 530.14,52.10 530.28,51.74 530.41,51.55 530.55,52.04 530.68,51.90 530.82,52.19 530.95,51.93 531.09,51.75 531.22,51.89 531.36,51.87 531.49,51.77 531.63,52.17 531.76,52.07 531.90,51.95 532.03,51.63 532.17,51.78 532.30,51.71 532.44,52.13 532.57,52.17 532.71,52.22 532.84,51.88 532.98,52.22 533.11,52.18 533.25,52.28 533.38,51.85 533.52,51.86 533.65,51.81 533.79,51.95 533.92,52.14 534.06,51.61 534.19,52.04 534.33,51.97 534.46,51.90 534.60,52.12 534.73,52.26 534.87,51.80 535.00,51.90 535.14,52.14 535.27,52.10 535.41,52.12 535.54,52.04 535.68,51.82 535.81,52.02 535.95,51.91 536.08,51.75 536.22,52.38 536.35,51.62 536.49,51.61 536.62,52.13 536.76,52.24 536.89,52.11 537.03,52.13 537.16,52.00 537.30,51.71 537.43,51.82 537.57,51.55 537.70,51.81 537.84,52.27 537.97,52.23 538.11,51.69 538.24,51.86 538.38,51.55 538.51,52.41 538.65,52.21 538.78,52.22 538.92,52.26 539.05,51.69 539.19,51.87 539.32,51.96 539.46,52.20 539.59,52.41 539.73,51.87 539.86,52.14 540.00,52.13 540.13,51.80 540.27,51.66 540.40,52.23 540.54,51.80 540.67,52.45 540.81,51.90 540.94,52.25 541.08,51.65 541.21,51.94 541.35,52.26 541.48,51.80 541.62,52.14 541.75,52.03 541.89,51.93 542.02,51.92 542.16,52.01 542.29,51.84 542.43,52.15 542.56,52.28 542.70,52.12 542.83,52.37 542.97,52.10 543.10,52.40 543.24,52.45 543.37,51.76 543.51,52.14 543.64,52.12 543.78,51.93 543.91,51.89 544.05,51.91 544.18,52.02 544.32,52.05 544.45,51.98 544.59,51.80 544.72,51.82 544.86,51.96 544.99,52.00 545.13,51.89 545.26,52.17 545.40,51.81 545.53,52.29 545.67,52.38 545.80,52.21 545.94,52.01 546.07,51.94 546.21,52.45 546.34,52.35 546.48,52.15 546.61,52.00 546.75,52.14 546.88,52.06 547.02,51.95 547.15,51.85 547.29,51.84 547.42,52.36 547.56,51.64 547.69,52.24 547.83,51.94 547.96,51.78 548.10,51.92 548.23,52.01 548.37,52.09 548.50,51.88 548.64,51.95 548.77,52.00 548.91,51.67 549.04,52.09 549.18,51.77 549.31,52.09 549.45,52.17 549.58,52.04 549.72,52.14 549.85,51.80 549.99,51.85 550.12,52.17 550.26,52.40 550.39,51.92 550.53,51.99 550.66,52.22 550.80,52.17 550.93,51.78 551.07,52.03 551.20,52.04 551.34,51.77 551.47,51.87 551.61,51.92 551.74,51.91 551.88,51.81 552.01,51.85 552.15,52.17 552.28,52.40 552.42,51.84 552.55,52.11 552.69,52.35 552.82,52.07 552.96,52.00 553.09,52.06 553.23,51.55 553.36,52.02 553.50,52.12 553.63,51.89 553.77,51.89 553.90,52.09 554.04,51.94 554.17,52.10 554.31,52.26 554.44,51.84 554.58,52.07 554.71,51.83 554.85,52.45 554.98,51.94 555.12,52.14 555.25,51.55 555.39,51.71 555.52,52.02 555.66,52.20 555.79,52.04 555.93,52.20 556.06,51.99 556.20,52.23 556.33,52.08 556.47,52.26 556.60,52.17 556.74,52.27 556.87,52.21 557.01,52.26 557.14,52.03 557.28,51.86 557.41,52.02 557.55,51.80 557.68,51.99 557.82,52.31 557.95,51.78 558.09,51.86 558.22,52.22 558.36,51.80 558.49,52.26 558.63,51.72 558.76,52.25 558.90,51.85 559.03,51.83 559.17,52.14 559.30,51.95 559.44,51.77 559.57,52.14 559.71,51.73 559.84,51.92 559.98,52.04 560.11,51.78 560.25,52.23 560.38,51.62 560.52,51.60 560.65,52.35 560.79,51.91 560.92,52.11 561.06,52.08 561.19,51.77 561.33,51.67 561.46,52.12 561.60,51.77 561.73,52.34 561.87,51.62 562.00,51.98 562.14,52.30 562.27,51.82 562.41,52.06 562.54,51.98 562.68,52.18 562.81,52.33 562.95,52.04 563.08,51.91 563.22,51.88 563.35,51.69 563.49,51.87 563.62,52.28 563.76,52.02 563.89,51.93 564.03,51.95 564.16,51.95 564.30,51.56 564.43,52.09 564.57,51.55 564.70,51.55 564.84,52.15 564.97,52.00 565.11,52.11 565.24,51.55 565.38,51.90 565.51,52.17 565.65,51.60 565.78,52.13 565.92,52.08 566.05,52.33 566.19,52.45 566.32,51.93 566.46,52.41 566.59,52.45 566.73,52.14 566.86,52.12 567.00,52.11 567.13,52.42 567.27,51.73 567.40,51.97 567.54,52.16 567.67,51.89 567.81,52.29 567.94,51.74 568.08,51.69 568.21,52.06 568.35,52.39 568.48,52.10 568.62,51.64 568.75,51.74 568.89,52.43 569.02,52.32 569.16,52.00 569.29,52.11 569.43,51.66 569.56,52.25 569.70,51.95 569.83,51.90 569.97,51.67 570.10,52.03 570.24,51.93 570.37,51.78 570.51,51.79 570.64,51.67 570.78,51.86 570.91,52.45 571.05,51.79 571.18,52.08 571.32,52.02 571.45,52.02 571.59,51.90 571.72,52.31 571.86,51.92 571.99,52.12 572.13,52.01 572.26,51.55 572.40,51.92 572.53,51.80 572.67,52.02 572.80,51.92 572.94,51.83 573.07,51.98 573.21,52.04 573.34,51.93 573.48,52.02 573.61,52.24 573.75,52.00 573.88,52.20 574.02,52.00 574.15,51.85 574.29,52.09 574.42,52.45 574.56,51.98 574.69,51.75 574.83,51.89 574.96,51.57 575.10,51.90 575.23,52.11 575.37,51.84 575.50,51.84 575.64,52.45 575.77,51.60 575.91,51.71 576.04,52.06 576.18,52.45 576.31,52.12 576.45,52.45 576.58,52.05 576.72,52.13 576.85,52.02 576.99,51.92 577.12,52.00 577.26,51.85 577.39,52.03 577.53,52.07 577.66,52.25 577.80,52.25 577.93,52.06 578.07,52.13 578.20,52.37 578.34,52.15 578.47,52.19 578.61,52.20 578.74,51.87 578.88,52.07 579.01,52.25 579.15,52.07 579.28,51.83 579.42,51.71 579.55,52.29 579.69,51.64 579.82,51.60 579.96,51.55 580.09,52.22 580.23,51.55 580.36,52.13 580.50,52.10 580.63,52.45 580.77,51.99 580.90,52.05 581.04,51.85 581.17,52.15 581.31,52.18 581.44,51.67 581.58,52.25 581.71,51.88 581.85,52.32 581.98,52.03 582.12,52.03 582.25,52.04 582.39,52.01 582.52,52.00 582.66,52.40 582.79,51.96 582.93,51.64 583.06,52.45 583.20,51.81 583.33,52.22 583.47,51.83 583.60,52.01 583.74,51.92 583.87,52.45 584.01,52.16 584.14,51.74 584.28,52.09 584.41,51.77 584.55,51.98 584.68,52.34 584.82,51.64 584.95,52.00 585.09,51.97 585.22,52.05 585.36,52.45 585.49,52.17 585.63,52.19 585.76,52.33 585.90,51.55 586.03,51.78 586.17,51.98 586.30,51.57 586.44,51.68 586.57,52.20 586.71,51.94 586.84,52.10 586.98,52.07 587.11,52.01 587.25,51.92 587.38,52.01 587.52,52.10 587.65,51.77 587.79,51.63 587.92,51.95 588.06,52.40 588.19,51.55 588.33,51.78 588.46,51.98 588.60,51.87 588.73,51.86 588.87,52.11 589.00,52.06 589.14,52.05 589.27,51.91 589.41,52.04 589.54,51.76 589.68,51.97 589.81,52.17 589.95,51.94 590.08,52.27 590.22,51.89 590.35,51.94 590.49,52.25 590.62,52.06 590.76,52.03 590.89,52.25 591.03,51.85 591.16,51.91 591.30,51.88 591.43,52.28 591.57,52.09 591.70,52.08 591.84,52.08 591.97,51.63 592.11,51.97 592.24,52.24 592.38,52.05 592.51,52.03 592.65,51.63 592.78,52.03 592.92,52.11 593.05,51.78 593.19,51.92 593.32,52.19 593.46,51.70 593.59,51.56 593.73,51.94 593.86,52.04 594.00,52.01 594.13,52.06 594.27,51.87 594.40,52.28 594.54,51.94 594.67,51.98 594.81,51.80 594.94,52.12 595.08,52.21 595.21,51.84 595.35,52.35 595.48,51.90 595.62,51.96 595.75,51.89 595.89,51.92 596.02,51.91 596.16,52.25 596.29,51.61 596.43,52.45 596.56,51.78 596.70,51.91 596.83,51.78 596.97,52.25 597.10,51.97 597.24,51.93 597.37,52.28 597.51,52.12 597.64,52.23 597.78,52.06 597.91,52.11 598.05,51.91 598.18,51.67 598.32,51.78 598.45,52.05 598.59,52.22 598.72,52.01 598.86,52.13 598.99,52.29 599.13,51.88 599.26,52.30 599.40,52.09 599.53,52.09 599.67,51.87 599.80,51.98 599.94,52.09 600.07,52.38 600.21,51.87 600.34,52.06 600.48,52.10 600.61,52.02 600.75,52.14 600.88,52.12 601.02,51.61 601.15,52.35 601.29,51.58 601.42,51.68 601.56,52.22 601.69,52.01 601.83,52.16 601.96,52.20 602.10,52.26 602.23,52.11 602.37,52.08 602.50,51.94 602.64,52.15 602.77,51.79 602.91,51.98 603.04,51.72 603.18,52.15 603.31,51.81 603.45,51.77 603.58,52.15 603.72,51.96 603.85,52.12 603.99,51.79 604.12,52.06 604.26,52.01 604.39,51.81 604.53,52.00 604.66,51.63 604.80,51.86 604.93,52.42 605.07,52.19 605.20,51.95 605.34,52.06 605.47,51.90 605.61,51.94 605.74,51.95 605.88,51.89 606.01,51.91 606.15,51.88 606.28,51.94 606.42,52.16 606.55,52.16 606.69,51.80 606.82,51.91 606.96,51.94 607.09,51.83 607.23,51.71 607.36,52.07 607.50,51.86 607.63,52.27 607.77,52.05 607.90,52.24 608.04,51.71 608.17,51.88 608.31,51.71 608.44,51.81 608.58,52.05 608.71,51.64 608.85,51.81 608.98,52.29 609.12,51.67 609.25,52.45 609.39,51.96 609.52,52.14 609.66,51.87 609.79,51.90 609.93,52.36 610.06,51.99 610.20,52.00 610.33,52.24 610.47,51.99 610.60,52.12 610.74,51.80 610.87,52.34 611.01,52.14 611.14,52.28 611.28,51.55 611.41,51.90 611.55,52.22 611.68,52.07 611.82,51.71 611.95,51.90 612.09,51.96 612.22,52.16 612.36,51.89 612.49,52.10 612.63,52.24 612.76,52.12 612.90,52.25 613.03,52.09 613.17,52.27 613.30,52.25 613.44,51.78 613.57,52.18 613.71,52.22 613.84,52.02 613.98,51.83 614.11,52.18 614.25,52.29 614.38,51.81 614.52,52.21 614.65,52.16 614.79,52.00 614.92,52.00 615.06,52.00 615.19,52.00 615.33,52.12 615.46,51.90 615.60,51.86 615.73,52.06 615.87,52.36 616.00,52.06 616.14,51.90 616.27,52.22 616.41,51.76 616.54,52.27 616.68,52.05 616.81,51.85 616.95,51.84 617.08,52.25 617.22,51.55 617.35,51.97 617.49,52.02 617.62,52.12 617.76,51.90 617.89,52.27 618.03,52.10 618.16,52.09 618.30,52.18 618.43,51.84 618.57,52.06 618.70,51.79 618.84,51.55 618.97,52.04 619.11,51.88 619.24,52.02 619.38,52.09 619.51,52.31 619.65,51.55 619.78,51.72 619.92,51.95 620.05,52.18 620.19,51.76 620.32,51.71 620.46,52.06 620.59,51.94 620.73,52.27 620.86,51.74 621.00,51.81 621.13,52.40 621.27,51.78 621.40,52.44 621.54,51.93 621.67,51.93 621.81,51.83 621.94,51.73 622.08,52.12 622.21,51.89 622.35,51.86 622.48,52.29 622.62,52.07 622.75,51.98 622.89,51.55 623.02,51.95 623.16,51.83 623.29,51.99 623.43,52.07 623.56,51.88 623.70,52.18 623.83,51.62 623.97,52.20 624.10,51.89 624.24,51.86 624.37,52.21 624.51,52.16 624.64,51.96 624.78,51.82 624.91,51.91 625.05,51.75 625.18,51.84 625.32,51.82 625.45,52.20 625.59,51.82 625.72,52.41 625.86,51.69 625.99,51.82 626.13,51.76 626.26,51.96 626.40,51.92 626.53,51.56 626.67,51.82 626.80,51.81 626.94,52.09 627.07,51.89 627.21,52.20 627.34,52.15 627.48,52.24 627.61,51.88 627.75,52.11 627.88,51.84 628.02,52.01 628.15,51.80 628.29,52.01 628.42,52.45 628.56,51.85 628.69,51.67 628.83,52.02 628.96,52.21 629.10,52.03 629.23,52.18 629.37,51.96 629.50,52.06 629.64,52.36 629.77,51.92 629.91,52.05 630.04,52.18 630.18,52.06 630.31,52.12 630.45,51.85 630.58,52.02 630.72,52.08 630.85,51.80 630.99,52.04 631.12,52.34 631.26,51.70 631.39,51.94 631.53,51.87 631.66,52.06 631.80,51.93 631.93,52.21 632.07,52.25 632.20,52.13 632.34,51.96 632.47,52.01 632.61,52.12 632.74,52.24 632.88,51.77 633.01,52.13 633.15,51.80 633.28,52.17 633.42,51.77 633.55,52.02 633.69,51.72 633.82,51.74 633.96,52.18 634.09,52.15 634.23,52.08 634.36,51.91 634.50,51.91 634.63,52.19 634.77,52.11 634.90,52.15 635.04,51.91 635.17,51.91 635.31,52.19 635.44,51.90 635.58,52.20 635.71,52.05 635.85,51.79 635.98,51.76 636.12,51.82 636.25,51.55 636.39,51.75 636.52,51.84 636.66,51.92 636.79,51.83 636.93,51.90 637.06,52.21 637.20,52.29 637.33,51.85 637.47,52.21 637.60,51.89 637.74,51.64 637.87,51.86 638.01,51.81 638.14,52.10 638.28,52.08 638.41,52.17 638.55,52.16 638.68,52.40 638.82,51.95 638.95,51.81 639.09,52.26 639.22,52.43 639.36,51.72 639.49,52.02 639.63,51.55 639.76,52.11 639.90,51.80 640.03,51.93 640.17,51.95 640.30,51.70 640.44,51.96 640.57,51.87 640.71,51.94 640.84,51.90 640.98,51.89 641.11,51.96 641.25,51.78 641.38,52.19 641.52,51.93 641.65,52.17 641.79,51.66 641.92,52.04 642.06,52.02 642.19,52.17 642.33,52.03 642.46,52.11 642.60,51.91 642.73,52.09 642.87,51.77 643.00,52.25 643.14,51.96 643.27,52.39 643.41,52.32 643.54,51.89 643.68,52.00 643.81,52.17 643.95,51.88 644.08,52.17 644.22,52.35 644.35,52.28 644.49,52.06 644.62,52.07 644.76,52.20 644.89,51.98 645.03,52.32 645.16,52.28 645.30,52.04 645.43,52.05 645.57,51.55 645.70,52.04 645.84,52.32 645.97,52.36 646.11,51.78 646.24,52.09 646.38,51.73 646.51,51.88 646.65,52.24 646.78,51.97 646.92,51.95 647.05,52.17 647.19,52.11 647.32,51.92 647.46,52.23 647.59,52.05 647.73,52.40 647.86,52.00 648.00,52.25 648.13,52.27 648.27,52.09 648.40,52.34 648.54,51.89 648.67,51.86 648.81,51.80 648.94,51.79 649.08,52.21 649.21,51.95 649.35,52.12 649.48,52.11 649.62,52.08 649.75,51.98 649.89,51.83 650.02,52.08 650.16,52.15 650.29,52.14 650.43,52.14 650.56,51.67 650.70,51.99 650.83,52.10 650.97,52.30 651.10,52.16 651.24,52.29 651.37,52.20 651.51,51.81 651.64,51.80 651.78,51.93 651.91,51.72 652.05,51.87 652.18,51.79 652.32,52.19 652.45,52.38 652.59,52.31 652.72,52.15 652.86,51.98 652.99,52.01 653.13,51.81 653.26,52.31 653.40,52.11 653.53,51.82 653.67,52.15 653.80,52.04 653.94,52.28 654.07,52.02 654.21,52.33 654.34,51.86 654.48,51.83 654.61,51.83 654.75,52.00 654.88,52.02 655.02,52.03 655.15,52.13 655.29,51.82 655.42,52.14 655.56,52.11 655.69,51.99 655.83,51.92 655.96,51.85 656.10,52.19 656.23,52.13 656.37,51.86 656.50,51.92 656.64,51.74 656.77,52.08 656.91,51.58 657.04,51.55 657.18,51.65 657.31,52.33 657.45,52.08 657.58,52.29 657.72,51.74 657.85,51.69 657.99,52.11 658.12,52.22 658.26,51.82 658.39,51.96 658.53,52.45 658.66,51.80 658.80,52.16 658.93,52.22 659.07,51.90 659.20,52.26 659.34,52.04 659.47,52.27 659.61,51.98 659.74,52.08 659.88,52.37 660.01,52.17 660.15,51.98 660.28,51.61 660.42,52.05 660.55,52.01 660.69,51.94 660.82,51.95 660.96,51.74 661.09,51.99 661.23,52.21 661.36,52.02 661.50,51.88 661.63,52.40 661.77,51.61 661.90,52.02 662.04,52.06 662.17,51.82 662.31,51.79 662.44,51.91 662.58,51.93 662.71,51.91 662.85,51.93 662.98,51.85 663.12,52.12 663.25,52.19 663.39,52.00 663.52,51.64 663.66,52.09 663.79,52.10 663.93,52.18 664.06,51.95 664.20,52.16 664.33,51.79 664.47,51.79 664.60,52.01 664.74,51.90 664.87,52.00 665.01,51.90 665.14,51.82 665.28,52.05 665.41,51.77 665.55,51.71 665.68,52.44 665.82,51.89 665.95,52.23 666.09,51.74 666.22,51.70 666.36,52.00 666.49,51.85 666.63,52.14 666.76,52.10 666.90,51.77 667.03,52.03 667.17,52.01 667.30,51.64 667.44,51.73 667.57,51.80 667.71,52.07 667.84,52.00 667.98,51.82 668.11,52.13 668.25,51.86 668.38,52.30 668.52,52.21 668.65,51.87 668.79,51.79 668.92,52.10 669.06,51.81 669.19,51.90 669.33,52.09 669.46,51.81 669.60,52.09 669.73,51.79 669.87,52.18 670.00,51.87 670.14,51.88 670.27,51.98 670.41,52.28 670.54,51.74 670.68,52.23 670.81,52.04 670.95,52.17 671.08,51.75 671.22,51.79 671.35,52.15 671.49,51.71 671.62,51.99 671.76,51.81 671.89,51.83 672.03,52.27 672.16,52.10 672.30,52.03 672.43,52.04 672.57,51.69 672.70,51.86 672.84,52.10 672.97,51.98 673.11,52.09 673.24,51.79 673.38,51.89 673.51,51.99 673.65,52.12 673.78,52.10 673.92,52.25 674.05,51.86 674.19,52.16 674.32,52.17 674.46,52.13 674.59,51.99 674.73,51.88 674.86,51.71 675.00,51.68 675.13,52.00 675.27,51.95 675.40,52.00 675.54,51.71 675.67,51.91 675.81,51.84 675.94,52.24 676.08,52.03 676.21,52.11 676.35,52.05 676.48,52.15 676.62,51.66 676.75,52.28 676.89,52.14 677.02,51.85 677.16,51.99 677.29,51.90 677.43,51.64 677.56,51.86 677.70,52.08 677.83,51.87 677.97,52.00 678.10,51.99 678.24,51.75 678.37,51.67 678.51,52.01 678.64,52.13 678.78,51.95 678.91,52.29 679.05,52.05 679.18,51.80 679.32,51.95 679.45,52.20 679.59,52.03 679.72,52.15 679.86,51.72 679.99,51.72 680.13,51.84 680.26,52.05 680.40,51.78 680.53,51.95 680.67,51.63 680.80,51.80 680.94,51.76 681.07,51.96 681.21,52.06 681.34,52.20 681.48,52.20 681.61,52.12 681.75,52.05 681.88,51.65 682.02,52.11 682.15,51.62 682.29,52.03 682.42,52.37 682.56,51.91 682.69,51.93 682.83,52.09 682.96,52.18 683.10,51.87 683.23,51.91 683.37,52.37 683.50,52.12 683.64,51.88 683.77,51.86 683.91,52.78 684.04,51.22 684.18,53.24 684.31,52.18 684.45,50.55 684.58,48.80 684.72,52.03 684.85,52.06 684.99,52.31 685.12,50.50 685.26,52.79 685.39,50.98 685.53,52.61 685.66,51.13 685.80,50.24 685.93,52.44 686.07,51.15 686.20,49.55 686.34,53.31 686.47,51.42 686.61,50.18 686.74,51.22 686.88,52.63 687.01,52.04 687.15,51.61 687.28,53.10 687.42,49.70 687.55,51.54 687.69,53.21 687.82,54.32 687.96,53.35 688.09,51.68 688.23,51.91 688.36,52.11 688.50,52.23 688.63,53.22 688.77,53.82 688.90,52.16 689.04,52.74 689.17,51.93 689.31,51.15 689.44,51.00 689.58,51.30 689.71,52.94 689.85,53.06 689.98,52.05 690.12,50.80 690.25,52.53 690.39,51.98 690.52,51.57 690.66,52.11 690.79,50.67 690.93,52.13 691.06,52.40 691.20,52.70 691.33,52.40 691.47,52.09 691.60,51.73 691.74,51.57 691.87,52.17 692.01,53.11 692.14,51.07 692.28,51.55 692.41,52.87 692.55,52.76 692.68,51.90 692.82,51.02 692.95,53.80 693.09,52.89 693.22,50.92 693.36,51.90 693.49,51.88 693.63,52.03 693.76,51.04 693.90,51.75 694.03,51.21 694.17,51.08 694.30,51.89 694.44,50.77 694.57,52.22 694.71,52.66 694.84,51.61 694.98,51.75 695.11,51.74 695.25,52.06 695.38,50.87 695.52,51.18 695.65,53.41 695.79,52.11 695.92,53.80 696.06,51.27 696.19,51.83 696.33,51.16 696.46,53.24 696.60,52.41 696.73,52.77 696.87,52.36 697.00,52.81 697.14,51.67 697.27,52.94 697.41,53.05 697.54,51.77 697.68,52.87 697.81,50.20 697.95,51.92 698.08,51.92 698.22,51.90 698.35,51.03 698.49,53.21 698.62,52.43 698.76,50.35 698.89,51.69 699.03,51.98 699.16,53.80 699.30,50.55 699.43,51.68 699.57,52.25 699.70,50.54 699.84,53.80 699.97,50.20 700.11,53.18 700.24,52.72 700.38,52.61 700.51,50.55 700.65,51.57 700.78,52.33 700.92,52.87 701.05,50.87 701.19,53.80 701.32,51.51 701.46,51.79 701.59,53.80 701.73,53.16 701.86,51.51 702.00,52.10 702.13,53.35 702.27,52.63 702.40,52.58 702.54,52.39 702.67,53.01 702.81,52.64 702.94,52.47 703.08,51.61 703.21,53.15 703.35,53.09 703.48,51.33 703.62,52.12 703.75,51.45 703.89,50.88 704.02,52.29 704.16,51.00 704.29,53.92 704.43,51.28 704.56,52.11 704.70,52.08 704.83,52.27 704.97,52.31 705.10,51.70 705.24,52.31 705.37,51.34 705.51,50.95 705.64,52.18 705.78,52.57 705.91,53.07 706.05,52.66 706.18,50.68 706.32,50.40 706.45,51.91 706.59,53.60 706.72,52.11 706.86,51.52 706.99,51.00 707.13,50.54 707.26,51.31 707.40,50.71 707.53,53.77 707.67,51.29 707.80,52.98 707.94,50.24 708.07,52.52 708.21,50.87 708.34,52.77 708.48,51.79 708.61,52.15 708.75,50.74 708.88,50.35 709.02,54.35 709.15,53.30 709.29,51.01 709.42,52.55 709.56,54.36 709.69,52.15 709.83,52.36 709.96,50.86 710.10,53.71 710.23,52.48 710.37,51.22 710.50,52.40 710.64,53.08 710.77,52.57 710.91,54.27 711.04,51.13 711.18,53.00 711.31,54.24 711.45,51.33 711.58,52.94 711.72,52.80 711.85,52.10 711.99,49.80 712.12,50.32 712.26,52.29 712.39,54.19 712.53,50.75 712.66,53.13 712.80,51.85 712.93,52.63 713.07,50.83 713.20,53.35 713.34,52.02 713.47,52.64 713.61,51.95 713.74,52.59 713.88,54.12 714.01,49.83 714.15,52.08 714.28,50.67 714.42,52.52 714.55,50.95 714.69,53.37 714.82,50.82 714.96,51.31 715.09,52.47 715.23,50.96 715.36,52.95 715.50,52.88 715.63,52.57 715.77,53.72 715.90,53.35 716.04,51.47 716.17,51.13 716.31,52.22 716.44,51.20 716.58,52.89 716.71,50.60 716.85,51.07 716.98,50.77 717.12,52.09 717.25,51.39 717.39,51.76 717.52,52.35 717.66,52.93 717.79,51.92 717.93,50.48 718.06,50.87 718.20,51.90 718.33,51.31 718.47,51.63 718.60,51.00 718.74,52.65 718.87,50.61 719.01,52.16 719.14,52.75 719.28,52.57 719.41,51.40 719.55,52.05 719.68,54.10 719.82,53.28 719.95,53.17 720.09,49.90 720.22,51.78 720.36,54.09 720.49,52.26 720.63,50.27 720.76,53.05 720.90,53.88 721.03,51.45 721.17,49.92 721.30,51.29 721.44,51.63 721.57,52.90 721.71,51.98 721.84,51.45 721.98,52.54 722.11,51.67 722.25,53.77 722.38,51.90 722.52,51.62 722.65,51.29 722.79,52.10 722.92,53.54 723.06,50.46 723.19,51.07 723.33,51.33 723.46,52.08 723.60,50.13 723.73,54.05 723.87,51.03 724.00,50.17 724.14,50.98 724.27,51.61 724.41,52.76 724.54,52.68 724.68,51.27 724.81,52.46 724.95,51.11 725.08,50.98 725.22,52.70 725.35,51.11 725.49,52.52 725.62,53.44 725.76,50.48 725.89,52.62 726.03,51.96 726.16,52.38 726.30,52.12 726.43,53.25 726.57,51.75 726.70,53.41 726.84,52.02 726.97,53.51 727.11,53.71 727.24,50.95 727.38,52.38 727.51,52.12 727.65,51.49 727.78,51.75 727.92,50.97 728.05,50.97 728.19,52.73 728.32,52.58 728.46,51.59 728.59,51.91 728.73,51.07 728.86,52.72 729.00,52.46 729.13,52.07 729.27,51.57 729.40,52.87 729.54,53.40 729.67,51.00 729.81,52.33 729.94,52.27 730.08,53.43 730.21,52.65 730.35,51.12 730.48,50.31 730.62,52.26 730.75,52.57 730.89,51.86 731.02,51.65 731.16,50.57 731.29,52.13 731.43,52.44 731.56,52.54 731.70,51.01 731.83,52.09 731.97,51.05 732.10,50.22 732.24,52.10 732.37,52.81 732.51,51.08 732.64,50.23 732.78,51.64 732.91,51.56 733.05,51.23 733.18,51.28 733.32,52.09 733.45,51.30 733.59,52.46 733.72,52.37 733.86,53.60 733.99,53.79 734.13,51.73 734.26,52.60 734.40,52.36 734.53,50.09 734.67,51.72 734.80,52.98 734.94,51.30 735.07,51.99 735.21,50.45 735.34,53.04 735.48,51.09 735.61,50.64 735.75,53.52 735.88,55.07 736.02,54.70 736.15,49.07 736.29,55.74 736.42,54.94 736.56,58.58 736.69,44.21 736.83,53.18 736.96,51.87 737.10,44.23 737.23,59.00 737.37,40.75 737.40,38.00 737.50,48.71 737.64,53.22 737.77,54.04 737.80,62.00 737.91,41.35 738.04,53.78 738.18,54.33 738.30,23.80 738.31,56.61 738.45,42.08 738.58,44.13 738.70,73.60 738.72,45.69 738.85,63.05 738.99,49.80 739.12,52.58 739.20,30.00 739.26,60.45 739.39,46.41 739.53,47.38 739.60,66.00 739.66,57.62 739.80,57.18 739.93,52.67 740.07,55.37 740.20,52.76 740.34,59.97 740.47,59.43 740.61,49.06 740.74,44.99 740.88,51.37 741.01,52.12 741.15,57.17 741.28,49.64 741.42,53.38 741.55,50.95 741.69,46.22 741.82,60.66 741.96,47.33 742.09,58.25 742.23,60.56 742.36,55.86 742.50,49.28 742.63,60.45 742.77,48.15 742.90,55.65 743.04,58.14 743.17,55.50 743.31,45.67 743.44,52.41 743.58,55.83 743.71,54.42 743.85,61.69 743.98,56.67 744.12,51.12 744.25,45.43 744.39,50.43 744.52,55.63 744.66,53.52 744.79,60.25 744.93,41.82 745.06,60.03 745.20,49.13 745.33,48.78 745.47,47.67 745.60,41.62 745.74,56.50 745.87,58.45 746.01,48.49 746.14,46.35 746.28,52.34 746.41,58.10 746.55,43.96 746.68,54.43 746.82,44.03 746.95,56.75 747.09,51.72 747.22,45.89 747.36,50.34 747.49,56.91 747.63,42.61 747.76,60.76 747.90,60.30 748.03,56.45 748.17,48.74 748.30,49.06 748.44,60.81 748.57,58.92 748.71,48.06 748.84,55.48 748.98,50.89 749.11,47.96 749.25,57.47 749.38,51.95 749.52,45.85 749.65,49.12 749.79,42.15 749.92,53.03 750.06,45.29 750.19,48.09 750.33,53.25 750.46,57.06 750.60,61.70 750.73,53.28 750.87,59.23 751.00,51.25 751.14,51.32 751.27,54.51 751.41,57.88 751.54,47.12 751.68,56.72 751.81,53.27 751.95,45.48 752.08,57.48 752.22,55.21 752.35,48.20 752.49,59.80 752.62,52.71 752.76,45.31 752.89,58.53 753.03,48.71 753.16,53.06 753.30,55.57 753.43,46.03 753.57,50.62 753.70,50.24 753.84,43.01 753.97,47.78 754.11,60.56 754.24,46.61 754.38,51.65 754.51,47.87 754.65,56.20 754.78,52.66 754.92,60.15 755.05,54.62 755.19,51.28 755.32,55.87 755.46,56.29 755.59,52.07 755.73,49.98 755.86,43.29 756.00,59.56 756.13,44.92 756.27,55.26 756.40,52.16 756.54,49.88 756.67,56.38 756.81,47.74 756.94,52.58 757.08,51.42 757.21,52.54 757.35,44.55 757.48,54.75 757.62,47.39 757.75,50.39 757.89,52.05 758.02,54.94 758.16,50.97 758.29,52.00 758.43,53.38 758.56,50.47 758.70,56.15 758.83,52.49 758.97,50.15 759.10,56.42 759.24,53.86 759.37,52.56 759.51,53.17 759.64,52.60 759.78,49.63 759.91,48.54 760.05,48.24 760.18,55.46 760.32,52.77 760.45,50.55 760.59,54.39 760.72,51.21 760.86,46.68 760.99,50.00 761.13,53.39 761.26,51.09 761.40,56.34 761.53,54.55 761.67,51.31 761.80,52.94 761.94,54.86 762.07,51.23 762.21,51.02 762.34,54.75 762.48,51.70 762.61,53.15 762.75,53.11 762.88,52.49 763.02,56.72 763.15,54.33 763.29,52.13 763.42,54.25 763.56,51.01 763.69,50.76 763.83,56.12 763.96,51.36 764.10,52.72 764.23,48.97 764.37,50.52 764.50,47.14 764.64,53.19 764.77,55.40 764.91,49.44 765.04,57.06 765.18,52.31 765.31,55.73 765.45,53.85 765.58,55.55 765.72,52.05 765.85,54.03 765.99,51.13 766.12,54.27 766.26,54.45 766.39,51.94 766.53,49.72 766.66,51.45 766.80,48.96 766.93,50.44 767.07,52.99 767.20,51.28 767.34,49.73 767.47,55.71 767.61,51.31 767.74,49.95 767.88,53.85 768.01,51.19 768.15,47.75 768.28,53.49 768.42,49.30 768.55,46.15 768.69,53.25 768.82,48.86 768.96,54.61 769.09,54.35 769.23,53.82 769.36,56.02 769.50,53.01 769.63,52.33 769.77,51.83 769.90,51.85 770.04,52.27 770.17,54.83 770.31,51.74 770.44,55.99 770.58,47.97 770.71,46.12 770.85,48.58 770.98,57.86 771.12,49.09 771.25,50.02 771.39,50.13 771.52,46.35 771.66,47.93 771.79,54.08 771.93,52.53 772.06,49.96 772.20,53.47 772.33,51.81 772.47,47.45 772.60,49.90 772.74,53.95 772.87,49.16 773.01,49.79 773.14,52.17 773.28,51.16 773.41,53.75 773.55,48.24 773.68,54.75 773.82,53.15 773.95,51.17 774.09,47.55 774.22,54.21 774.36,56.25 774.49,50.55 774.63,53.77 774.76,54.81 774.90,52.15 775.03,54.48 775.17,46.44 775.30,55.14 775.44,51.68 775.57,52.25 775.71,53.72 775.84,48.94 775.98,50.61 776.11,57.37 776.25,54.73 776.38,56.02 776.52,55.99 776.65,52.43 776.79,53.88 776.92,55.46 777.06,51.34 777.19,51.49 777.33,54.03 777.46,52.11 777.60,51.17 777.73,50.03 777.87,51.27 778.00,52.12 778.14,52.25 778.27,49.74 778.41,51.64 778.54,51.97 778.68,50.24 778.81,50.96 778.95,52.83 779.08,50.03 779.22,50.16 779.35,50.63 779.49,50.27 779.62,49.96 779.76,51.95 779.89,50.14 780.03,51.61 780.16,51.12 780.30,51.65 780.43,52.58 780.57,52.54 780.70,50.93 780.84,50.66 780.97,51.72 781.11,51.68 781.24,51.79 781.38,51.17 781.51,51.73 781.65,52.66 781.78,51.76 781.92,50.77 782.05,52.44 782.19,50.13 782.32,52.13 782.46,51.58 782.59,53.41 782.73,51.81 782.86,53.10 783.00,53.43 783.13,51.91 783.27,53.27 783.40,50.77 783.54,51.48 783.67,51.80 783.81,53.97 783.94,52.19 784.08,50.97 784.21,51.27 784.35,49.85 784.48,50.78 784.62,51.52 784.75,50.58 784.89,50.36 785.02,53.79 785.16,49.52 785.29,50.44 785.43,51.37 785.56,52.32 785.70,51.24 785.83,51.55 785.97,51.78 786.10,52.51 786.24,53.81 786.37,51.98 786.51,52.11 786.64,50.82 786.78,54.27 786.91,51.28 787.05,52.29 787.18,52.01 787.32,50.73 787.45,52.40 787.59,50.31 787.72,49.69 787.86,51.33 787.99,52.30 788.13,51.32 788.26,51.62 788.40,52.42 788.53,51.16 788.67,53.44 788.80,53.51 788.94,51.71 789.07,50.02 789.21,52.35 789.34,52.91 789.48,49.22 789.61,52.72 789.75,53.68" fill="none" stroke="#006400" stroke-width="0.5" stroke-linejoin="round"/>
<rect x="506.7" y="21" width="283.7" height="53.5" fill="none" stroke="#000" stroke-width="1.5"/>
<g stroke="#333" stroke-width="0.9">
<line x1="507.40" y1="20.3" x2="507.40" y2="16"/>
<line x1="507.40" y1="75.2" x2="507.40" y2="79.5"/>
<line x1="531.13" y1="20.3" x2="531.13" y2="16"/>
<line x1="531.13" y1="75.2" x2="531.13" y2="79.5"/>
<line x1="554.86" y1="20.3" x2="554.86" y2="16"/>
<line x1="554.86" y1="75.2" x2="554.86" y2="79.5"/>
<line x1="578.59" y1="20.3" x2="578.59" y2="16"/>
<line x1="578.59" y1="75.2" x2="578.59" y2="79.5"/>
<line x1="602.32" y1="20.3" x2="602.32" y2="16"/>
<line x1="602.32" y1="75.2" x2="602.32" y2="79.5"/>
<line x1="626.05" y1="20.3" x2="626.05" y2="16"/>
<line x1="626.05" y1="75.2" x2="626.05" y2="79.5"/>
<line x1="649.78" y1="20.3" x2="649.78" y2="16"/>
<line x1="649.78" y1="75.2" x2="649.78" y2="79.5"/>
<line x1="673.51" y1="20.3" x2="673.51" y2="16"/>
<line x1="673.51" y1="75.2" x2="673.51" y2="79.5"/>
<line x1="697.24" y1="20.3" x2="697.24" y2="16"/>
<line x1="697.24" y1="75.2" x2="697.24" y2="79.5"/>
<line x1="720.97" y1="20.3" x2="720.97" y2="16"/>
<line x1="720.97" y1="75.2" x2="720.97" y2="79.5"/>
<line x1="744.70" y1="20.3" x2="744.70" y2="16"/>
<line x1="744.70" y1="75.2" x2="744.70" y2="79.5"/>
<line x1="768.43" y1="20.3" x2="768.43" y2="16"/>
<line x1="768.43" y1="75.2" x2="768.43" y2="79.5"/>
</g>
<text class="s" x="507.50" y="92" font-size="10" letter-spacing="0.2" text-anchor="middle" style="fill:#0a0a0a">55</text>
<text class="s" x="531.23" y="92" font-size="10" letter-spacing="0.2" text-anchor="middle" style="fill:#0a0a0a">00</text>
<text class="s" x="554.96" y="92" font-size="10" letter-spacing="0.2" text-anchor="middle" style="fill:#0a0a0a">05</text>
<text class="s" x="578.69" y="92" font-size="10" letter-spacing="0.2" text-anchor="middle" style="fill:#0a0a0a">10</text>
<text class="s" x="602.42" y="92" font-size="10" letter-spacing="0.2" text-anchor="middle" style="fill:#0a0a0a">15</text>
<text class="s" x="626.15" y="92" font-size="10" letter-spacing="0.2" text-anchor="middle" style="fill:#0a0a0a">20</text>
<text class="s" x="649.88" y="92" font-size="10" letter-spacing="0.2" text-anchor="middle" style="fill:#0a0a0a">25</text>
<text class="s" x="673.61" y="92" font-size="10" letter-spacing="0.2" text-anchor="middle" style="fill:#0a0a0a">30</text>
<text class="s" x="697.34" y="92" font-size="10" letter-spacing="0.2" text-anchor="middle" style="fill:#0a0a0a">35</text>
<text class="s" x="721.07" y="92" font-size="10" letter-spacing="0.2" text-anchor="middle" style="fill:#0a0a0a">40</text>
<text class="s" x="744.80" y="92" font-size="10" letter-spacing="0.2" text-anchor="middle" style="fill:#0a0a0a">45</text>
<text class="s" x="768.53" y="92" font-size="10" letter-spacing="0.2" text-anchor="middle" style="fill:#0a0a0a">50</text>
<text class="s" x="799.4" y="32.95" font-size="10" font-weight="bold" style="fill:#0000ff">Bomberos Quepos</text>
<text class="s" x="799.4" y="56.8" font-size="10">Acel. Max. 0.7</text>
<text class="s" x="799.4" y="73.9" font-size="10">Int JMA: 1</text>
<polyline points="507.60,131.35 507.73,131.62 507.87,131.25 508.00,131.34 508.14,131.54 508.27,131.20 508.41,131.17 508.54,131.26 508.68,131.58 508.81,131.22 508.95,131.17 509.08,131.28 509.22,131.52 509.35,131.31 509.49,131.75 509.62,131.64 509.76,131.25 509.89,131.26 510.03,131.48 510.16,131.54 510.30,131.27 510.43,131.43 510.57,131.41 510.70,131.31 510.84,131.23 510.97,131.53 511.11,131.23 511.24,131.15 511.38,131.71 511.51,131.22 511.65,131.62 511.78,131.61 511.92,131.72 512.05,131.45 512.19,131.42 512.32,131.36 512.46,131.59 512.59,131.05 512.73,131.49 512.86,131.40 513.00,131.38 513.13,131.58 513.27,131.10 513.40,131.47 513.54,131.62 513.67,131.05 513.81,131.51 513.94,131.28 514.08,131.35 514.21,131.46 514.35,131.23 514.48,131.20 514.62,131.65 514.75,131.27 514.89,131.24 515.02,131.25 515.16,131.09 515.29,131.09 515.43,131.39 515.56,131.55 515.70,131.75 515.83,131.65 515.97,131.51 516.10,131.38 516.24,131.21 516.37,131.35 516.51,131.32 516.64,131.57 516.78,131.07 516.91,131.25 517.05,131.48 517.18,131.27 517.32,131.43 517.45,131.05 517.59,131.43 517.72,131.52 517.86,131.46 517.99,131.37 518.13,131.43 518.26,131.09 518.40,131.51 518.53,131.65 518.67,131.31 518.80,131.39 518.94,131.35 519.07,131.56 519.21,131.53 519.34,131.16 519.48,131.44 519.61,131.28 519.75,131.61 519.88,131.57 520.02,131.56 520.15,131.29 520.29,131.28 520.42,131.64 520.56,131.29 520.69,131.07 520.83,131.27 520.96,131.31 521.10,131.06 521.23,131.54 521.37,131.26 521.50,131.24 521.64,131.34 521.77,131.22 521.91,131.36 522.04,131.75 522.18,131.64 522.31,131.34 522.45,131.54 522.58,131.50 522.72,131.29 522.85,131.32 522.99,131.35 523.12,131.24 523.26,131.58 523.39,131.52 523.53,131.22 523.66,131.56 523.80,131.54 523.93,131.45 524.07,131.28 524.20,131.43 524.34,131.33 524.47,131.25 524.61,131.33 524.74,131.48 524.88,131.68 525.01,131.42 525.15,131.29 525.28,131.64 525.42,131.75 525.55,131.42 525.69,131.19 525.82,131.38 525.96,131.18 526.09,131.21 526.23,131.55 526.36,131.46 526.50,131.38 526.63,131.32 526.77,131.19 526.90,131.22 527.04,131.41 527.17,131.27 527.31,131.30 527.44,131.36 527.58,131.06 527.71,131.58 527.85,131.26 527.98,131.75 528.12,131.60 528.25,131.30 528.39,131.46 528.52,131.44 528.66,131.59 528.79,131.41 528.93,131.23 529.06,131.17 529.20,131.64 529.33,131.43 529.47,131.24 529.60,131.57 529.74,131.53 529.87,131.27 530.01,131.43 530.14,131.33 530.28,131.55 530.41,131.05 530.55,131.62 530.68,131.20 530.82,131.07 530.95,131.05 531.09,131.14 531.22,131.30 531.36,131.50 531.49,131.39 531.63,131.22 531.76,131.28 531.90,131.05 532.03,131.59 532.17,131.42 532.30,131.32 532.44,131.38 532.57,131.65 532.71,131.62 532.84,131.27 532.98,131.41 533.11,131.13 533.25,131.23 533.38,131.33 533.52,131.37 533.65,131.09 533.79,131.44 533.92,131.11 534.06,131.43 534.19,131.60 534.33,131.36 534.46,131.19 534.60,131.22 534.73,131.05 534.87,131.42 535.00,131.75 535.14,131.45 535.27,131.43 535.41,131.75 535.54,131.24 535.68,131.58 535.81,131.18 535.95,131.48 536.08,131.34 536.22,131.53 536.35,131.32 536.49,131.48 536.62,131.40 536.76,131.40 536.89,131.13 537.03,131.57 537.16,131.52 537.30,131.19 537.43,131.16 537.57,131.60 537.70,131.45 537.84,131.71 537.97,131.36 538.11,131.43 538.24,131.38 538.38,131.67 538.51,131.41 538.65,131.67 538.78,131.36 538.92,131.37 539.05,131.29 539.19,131.60 539.32,131.46 539.46,131.36 539.59,131.17 539.73,131.22 539.86,131.50 540.00,131.75 540.13,131.46 540.27,131.34 540.40,131.51 540.54,131.32 540.67,131.41 540.81,131.06 540.94,131.52 541.08,131.43 541.21,131.26 541.35,131.29 541.48,131.65 541.62,131.39 541.75,131.58 541.89,131.44 542.02,131.38 542.16,131.52 542.29,131.12 542.43,131.07 542.56,131.23 542.70,131.11 542.83,131.31 542.97,131.23 543.10,131.36 543.24,131.08 543.37,131.51 543.51,131.27 543.64,131.25 543.78,131.50 543.91,131.22 544.05,131.53 544.18,131.58 544.32,131.53 544.45,131.44 544.59,131.39 544.72,131.45 544.86,131.29 544.99,131.73 545.13,131.60 545.26,131.49 545.40,131.38 545.53,131.05 545.67,131.45 545.80,131.19 545.94,131.27 546.07,131.58 546.21,131.58 546.34,131.56 546.48,131.68 546.61,131.15 546.75,131.18 546.88,131.54 547.02,131.42 547.15,131.56 547.29,131.25 547.42,131.37 547.56,131.42 547.69,131.40 547.83,131.26 547.96,131.75 548.10,131.69 548.23,131.35 548.37,131.55 548.50,131.19 548.64,131.41 548.77,131.39 548.91,131.31 549.04,131.44 549.18,131.68 549.31,131.28 549.45,131.39 549.58,131.59 549.72,131.25 549.85,131.51 549.99,131.34 550.12,131.42 550.26,131.64 550.39,131.55 550.53,131.71 550.66,131.43 550.80,131.46 550.93,131.31 551.07,131.75 551.20,131.05 551.34,131.52 551.47,131.51 551.61,131.39 551.74,131.33 551.88,131.05 552.01,131.23 552.15,131.25 552.28,131.22 552.42,131.69 552.55,131.28 552.69,131.28 552.82,131.66 552.96,131.46 553.09,131.66 553.23,131.44 553.36,131.14 553.50,131.59 553.63,131.49 553.77,131.45 553.90,131.50 554.04,131.53 554.17,131.75 554.31,131.60 554.44,131.46 554.58,131.51 554.71,131.48 554.85,131.39 554.98,131.43 555.12,131.36 555.25,131.55 555.39,131.75 555.52,131.14 555.66,131.50 555.79,131.33 555.93,131.63 556.06,131.53 556.20,131.43 556.33,131.26 556.47,131.16 556.60,131.11 556.74,131.48 556.87,131.55 557.01,131.71 557.14,131.45 557.28,131.50 557.41,131.25 557.55,131.51 557.68,131.36 557.82,131.20 557.95,131.25 558.09,131.37 558.22,131.56 558.36,131.65 558.49,131.48 558.63,131.75 558.76,131.75 558.90,131.22 559.03,131.47 559.17,131.62 559.30,131.47 559.44,131.56 559.57,131.33 559.71,131.53 559.84,131.51 559.98,131.42 560.11,131.29 560.25,131.10 560.38,131.19 560.52,131.38 560.65,131.54 560.79,131.29 560.92,131.25 561.06,131.36 561.19,131.43 561.33,131.59 561.46,131.30 561.60,131.27 561.73,131.37 561.87,131.30 562.00,131.54 562.14,131.45 562.27,131.38 562.41,131.75 562.54,131.05 562.68,131.48 562.81,131.75 562.95,131.73 563.08,131.45 563.22,131.64 563.35,131.22 563.49,131.69 563.62,131.36 563.76,131.15 563.89,131.29 564.03,131.69 564.16,131.41 564.30,131.44 564.43,131.36 564.57,131.43 564.70,131.58 564.84,131.12 564.97,131.34 565.11,131.55 565.24,131.39 565.38,131.05 565.51,131.13 565.65,131.39 565.78,131.42 565.92,131.51 566.05,131.71 566.19,131.71 566.32,131.26 566.46,131.58 566.59,131.31 566.73,131.26 566.86,131.31 567.00,131.24 567.13,131.30 567.27,131.26 567.40,131.15 567.54,131.68 567.67,131.59 567.81,131.45 567.94,131.63 568.08,131.12 568.21,131.20 568.35,131.57 568.48,131.59 568.62,131.74 568.75,131.38 568.89,131.13 569.02,131.05 569.16,131.21 569.29,131.67 569.43,131.53 569.56,131.55 569.70,131.39 569.83,131.59 569.97,131.63 570.10,131.36 570.24,131.51 570.37,131.28 570.51,131.32 570.64,131.18 570.78,131.17 570.91,131.46 571.05,131.39 571.18,131.56 571.32,131.68 571.45,131.57 571.59,131.18 571.72,131.47 571.86,131.27 571.99,131.75 572.13,131.51 572.26,131.49 572.40,131.19 572.53,131.30 572.67,131.74 572.80,131.71 572.94,131.09 573.07,131.39 573.21,131.05 573.34,131.51 573.48,131.57 573.61,131.52 573.75,131.26 573.88,131.40 574.02,131.31 574.15,131.60 574.29,131.59 574.42,131.55 574.56,131.36 574.69,131.29 574.83,131.26 574.96,131.75 575.10,131.33 575.23,131.42 575.37,131.19 575.50,131.63 575.64,131.46 575.77,131.35 575.91,131.60 576.04,131.57 576.18,131.54 576.31,131.49 576.45,131.07 576.58,131.31 576.72,131.38 576.85,131.57 576.99,131.32 577.12,131.72 577.26,131.47 577.39,131.35 577.53,131.26 577.66,131.34 577.80,131.32 577.93,131.38 578.07,131.43 578.20,131.53 578.34,131.55 578.47,131.20 578.61,131.49 578.74,131.75 578.88,131.05 579.01,131.24 579.15,131.61 579.28,131.12 579.42,131.47 579.55,131.37 579.69,131.33 579.82,131.31 579.96,131.30 580.09,131.36 580.23,131.67 580.36,131.42 580.50,131.48 580.63,131.43 580.77,131.46 580.90,131.37 581.04,131.47 581.17,131.64 581.31,131.73 581.44,131.52 581.58,131.28 581.71,131.29 581.85,131.35 581.98,131.30 582.12,131.34 582.25,131.38 582.39,131.34 582.52,131.47 582.66,131.24 582.79,131.35 582.93,131.19 583.06,131.49 583.20,131.44 583.33,131.42 583.47,131.59 583.60,131.42 583.74,131.18 583.87,131.55 584.01,131.40 584.14,131.62 584.28,131.46 584.41,131.65 584.55,131.48 584.68,131.40 584.82,131.44 584.95,131.38 585.09,131.75 585.22,131.33 585.36,131.34 585.49,131.60 585.63,131.36 585.76,131.47 585.90,131.05 586.03,131.12 586.17,131.21 586.30,131.41 586.44,131.66 586.57,131.25 586.71,131.13 586.84,131.31 586.98,131.17 587.11,131.58 587.25,131.51 587.38,131.67 587.52,131.49 587.65,131.37 587.79,131.66 587.92,131.60 588.06,131.39 588.19,131.13 588.33,131.23 588.46,131.31 588.60,131.19 588.73,131.40 588.87,131.18 589.00,131.60 589.14,131.43 589.27,131.22 589.41,131.29 589.54,131.07 589.68,131.10 589.81,131.49 589.95,131.28 590.08,131.32 590.22,131.25 590.35,131.48 590.49,131.48 590.62,131.75 590.76,131.27 590.89,131.43 591.03,131.18 591.16,131.25 591.30,131.46 591.43,131.37 591.57,131.42 591.70,131.47 591.84,131.61 591.97,131.32 592.11,131.34 592.24,131.30 592.38,131.38 592.51,131.34 592.65,131.33 592.78,131.48 592.92,131.07 593.05,131.11 593.19,131.22 593.32,131.56 593.46,131.19 593.59,131.50 593.73,131.31 593.86,131.69 594.00,131.65 594.13,131.55 594.27,131.26 594.40,131.31 594.54,131.34 594.67,131.19 594.81,131.13 594.94,131.61 595.08,131.38 595.21,131.56 595.35,131.05 595.48,131.38 595.62,131.33 595.75,131.33 595.89,131.57 596.02,131.25 596.16,131.39 596.29,131.39 596.43,131.61 596.56,131.05 596.70,131.48 596.83,131.20 596.97,131.55 597.10,131.49 597.24,131.48 597.37,131.36 597.51,131.42 597.64,131.58 597.78,131.49 597.91,131.31 598.05,131.21 598.18,131.55 598.32,131.51 598.45,131.63 598.59,131.54 598.72,131.47 598.86,131.42 598.99,131.42 599.13,131.44 599.26,131.48 599.40,131.56 599.53,131.23 599.67,131.61 599.80,131.56 599.94,131.48 600.07,131.61 600.21,131.51 600.34,131.27 600.48,131.57 600.61,131.30 600.75,131.58 600.88,131.11 601.02,131.54 601.15,131.38 601.29,131.29 601.42,131.50 601.56,131.56 601.69,131.34 601.83,131.32 601.96,131.26 602.10,131.57 602.23,131.60 602.37,131.11 602.50,131.05 602.64,131.50 602.77,131.36 602.91,131.54 603.04,131.05 603.18,131.32 603.31,131.39 603.45,131.26 603.58,131.33 603.72,131.43 603.85,131.58 603.99,131.35 604.12,131.53 604.26,131.49 604.39,131.38 604.53,131.40 604.66,131.38 604.80,131.52 604.93,131.52 605.07,131.30 605.20,131.10 605.34,131.49 605.47,131.26 605.61,131.23 605.74,131.47 605.88,131.75 606.01,131.39 606.15,131.44 606.28,131.59 606.42,131.58 606.55,131.30 606.69,131.50 606.82,131.35 606.96,131.30 607.09,131.75 607.23,131.34 607.36,131.63 607.50,131.44 607.63,131.38 607.77,131.35 607.90,131.32 608.04,131.26 608.17,131.35 608.31,131.34 608.44,131.49 608.58,131.27 608.71,131.33 608.85,131.15 608.98,131.32 609.12,131.41 609.25,131.47 609.39,131.65 609.52,131.29 609.66,131.42 609.79,131.31 609.93,131.65 610.06,131.50 610.20,131.34 610.33,131.20 610.47,131.55 610.60,131.69 610.74,131.57 610.87,131.58 611.01,131.13 611.14,131.54 611.28,131.27 611.41,131.64 611.55,131.67 611.68,131.40 611.82,131.18 611.95,131.05 612.09,131.50 612.22,131.26 612.36,131.31 612.49,131.30 612.63,131.33 612.76,131.44 612.90,131.51 613.03,131.13 613.17,131.44 613.30,131.60 613.44,131.36 613.57,131.60 613.71,131.75 613.84,131.40 613.98,131.45 614.11,131.54 614.25,131.49 614.38,131.46 614.52,131.13 614.65,131.28 614.79,131.31 614.92,131.14 615.06,131.52 615.19,131.46 615.33,131.31 615.46,131.46 615.60,131.17 615.73,131.41 615.87,131.37 616.00,131.29 616.14,131.25 616.27,131.37 616.41,131.37 616.54,131.31 616.68,131.23 616.81,131.38 616.95,131.46 617.08,131.20 617.22,131.31 617.35,131.37 617.49,131.30 617.62,131.21 617.76,131.45 617.89,131.14 618.03,131.42 618.16,131.48 618.30,131.61 618.43,131.62 618.57,131.60 618.70,131.46 618.84,131.12 618.97,131.52 619.11,131.33 619.24,131.63 619.38,131.43 619.51,131.44 619.65,131.52 619.78,131.33 619.92,131.45 620.05,131.42 620.19,131.68 620.32,131.14 620.46,131.59 620.59,131.55 620.73,131.65 620.86,131.28 621.00,131.39 621.13,131.50 621.27,131.36 621.40,131.43 621.54,131.73 621.67,131.05 621.81,131.24 621.94,131.53 622.08,131.40 622.21,131.38 622.35,131.27 622.48,131.47 622.62,131.20 622.75,131.60 622.89,131.48 623.02,131.45 623.16,131.56 623.29,131.41 623.43,131.40 623.56,131.52 623.70,131.45 623.83,131.58 623.97,131.49 624.10,131.20 624.24,131.15 624.37,131.37 624.51,131.58 624.64,131.24 624.78,131.40 624.91,131.33 625.05,131.37 625.18,131.09 625.32,131.35 625.45,131.46 625.59,131.26 625.72,131.73 625.86,131.42 625.99,131.36 626.13,131.32 626.26,131.33 626.40,131.50 626.53,131.46 626.67,131.26 626.80,131.34 626.94,131.25 627.07,131.29 627.21,131.58 627.34,131.47 627.48,131.14 627.61,131.50 627.75,131.37 627.88,131.38 628.02,131.33 628.15,131.55 628.29,131.32 628.42,131.37 628.56,131.36 628.69,131.42 628.83,131.28 628.96,131.42 629.10,131.75 629.23,131.43 629.37,131.13 629.50,131.47 629.64,131.46 629.77,131.48 629.91,131.56 630.04,131.54 630.18,131.53 630.31,131.61 630.45,131.26 630.58,131.75 630.72,131.33 630.85,131.60 630.99,131.38 631.12,131.63 631.26,131.28 631.39,131.54 631.53,131.14 631.66,131.58 631.80,131.65 631.93,131.64 632.07,131.34 632.20,131.61 632.34,131.56 632.47,131.36 632.61,131.32 632.74,131.39 632.88,131.56 633.01,131.75 633.15,131.05 633.28,131.64 633.42,131.18 633.55,131.43 633.69,131.35 633.82,131.44 633.96,131.41 634.09,131.33 634.23,131.27 634.36,131.44 634.50,131.46 634.63,131.12 634.77,131.25 634.90,131.53 635.04,131.23 635.17,131.34 635.31,131.18 635.44,131.25 635.58,131.40 635.71,131.58 635.85,131.45 635.98,131.39 636.12,131.44 636.25,131.54 636.39,131.43 636.52,131.30 636.66,131.45 636.79,131.57 636.93,131.16 637.06,131.32 637.20,131.68 637.33,131.52 637.47,131.58 637.60,131.35 637.74,131.47 637.87,131.30 638.01,131.41 638.14,131.17 638.28,131.05 638.41,131.42 638.55,131.40 638.68,131.05 638.82,131.45 638.95,131.32 639.09,131.24 639.22,131.30 639.36,131.43 639.49,131.52 639.63,131.23 639.76,131.60 639.90,131.60 640.03,131.70 640.17,131.30 640.30,131.45 640.44,131.40 640.57,131.24 640.71,131.51 640.84,131.72 640.98,131.56 641.11,131.37 641.25,131.45 641.38,131.35 641.52,131.56 641.65,131.33 641.79,131.44 641.92,131.67 642.06,131.63 642.19,131.68 642.33,131.37 642.46,131.34 642.60,131.65 642.73,131.37 642.87,131.49 643.00,131.40 643.14,131.51 643.27,131.51 643.41,131.42 643.54,131.48 643.68,131.29 643.81,131.28 643.95,131.50 644.08,131.53 644.22,131.09 644.35,131.48 644.49,131.37 644.62,131.39 644.76,131.44 644.89,131.13 645.03,131.60 645.16,131.25 645.30,131.54 645.43,131.54 645.57,131.46 645.70,131.37 645.84,131.46 645.97,131.47 646.11,131.34 646.24,131.52 646.38,131.16 646.51,131.44 646.65,131.41 646.78,131.53 646.92,131.32 647.05,131.27 647.19,131.35 647.32,131.22 647.46,131.50 647.59,131.32 647.73,131.29 647.86,131.55 648.00,131.14 648.13,131.42 648.27,131.09 648.40,131.16 648.54,131.30 648.67,131.31 648.81,131.38 648.94,131.48 649.08,131.64 649.21,131.25 649.35,131.55 649.48,131.29 649.62,131.32 649.75,131.61 649.89,131.21 650.02,131.66 650.16,131.25 650.29,131.21 650.43,131.59 650.56,131.20 650.70,131.53 650.83,131.50 650.97,131.24 651.10,131.33 651.24,131.44 651.37,131.53 651.51,131.28 651.64,131.22 651.78,131.36 651.91,131.08 652.05,131.36 652.18,131.28 652.32,131.38 652.45,131.07 652.59,131.41 652.72,131.11 652.86,131.41 652.99,131.22 653.13,131.31 653.26,131.33 653.40,131.30 653.53,131.16 653.67,131.05 653.80,131.57 653.94,131.33 654.07,131.48 654.21,131.34 654.34,131.59 654.48,131.63 654.61,131.52 654.75,131.33 654.88,131.49 655.02,131.48 655.15,131.63 655.29,131.10 655.42,131.42 655.56,131.27 655.69,131.45 655.83,131.53 655.96,131.50 656.10,131.39 656.23,131.23 656.37,131.30 656.50,131.68 656.64,131.05 656.77,131.45 656.91,131.23 657.04,131.16 657.18,131.44 657.31,131.47 657.45,131.49 657.58,131.28 657.72,131.36 657.85,131.16 657.99,131.65 658.12,131.32 658.26,131.27 658.39,131.40 658.53,131.29 658.66,131.42 658.80,131.39 658.93,131.51 659.07,131.07 659.20,131.33 659.34,131.54 659.47,131.43 659.61,131.28 659.74,131.41 659.88,131.33 660.01,131.59 660.15,131.24 660.28,131.32 660.42,131.57 660.55,131.46 660.69,131.33 660.82,131.16 660.96,131.67 661.09,131.75 661.23,131.44 661.36,131.34 661.50,131.58 661.63,131.35 661.77,131.56 661.90,131.28 662.04,131.36 662.17,131.37 662.31,131.22 662.44,131.33 662.58,131.29 662.71,131.41 662.85,131.27 662.98,131.24 663.12,131.24 663.25,131.34 663.39,131.16 663.52,131.30 663.66,131.67 663.79,131.45 663.93,131.63 664.06,131.74 664.20,131.43 664.33,131.28 664.47,131.29 664.60,131.40 664.74,131.53 664.87,131.39 665.01,131.46 665.14,131.75 665.28,131.57 665.41,131.45 665.55,131.56 665.68,131.58 665.82,131.53 665.95,131.26 666.09,131.44 666.22,131.07 666.36,131.68 666.49,131.32 666.63,131.15 666.76,131.36 666.90,131.39 667.03,131.19 667.17,131.30 667.30,131.54 667.44,131.48 667.57,131.41 667.71,131.62 667.84,131.52 667.98,131.40 668.11,131.43 668.25,131.08 668.38,131.29 668.52,131.32 668.65,131.46 668.79,131.67 668.92,131.43 669.06,131.36 669.19,131.61 669.33,131.61 669.46,131.36 669.60,131.49 669.73,131.46 669.87,131.24 670.00,131.31 670.14,131.52 670.27,131.37 670.41,131.11 670.54,131.43 670.68,131.51 670.81,131.10 670.95,131.30 671.08,131.37 671.22,131.23 671.35,131.45 671.49,131.36 671.62,131.29 671.76,131.10 671.89,131.50 672.03,131.42 672.16,131.35 672.30,131.46 672.43,131.34 672.57,131.34 672.70,131.38 672.84,131.45 672.97,131.28 673.11,131.30 673.24,131.34 673.38,131.29 673.51,131.38 673.65,131.27 673.78,131.11 673.92,131.25 674.05,131.56 674.19,131.08 674.32,131.25 674.46,131.27 674.59,131.05 674.73,131.37 674.86,131.29 675.00,131.72 675.13,131.53 675.27,131.73 675.40,131.59 675.54,131.53 675.67,131.27 675.81,131.25 675.94,131.35 676.08,131.75 676.21,131.39 676.35,131.25 676.48,131.39 676.62,131.51 676.75,131.37 676.89,131.60 677.02,131.31 677.16,131.60 677.29,131.35 677.43,131.31 677.56,131.32 677.70,131.46 677.83,131.31 677.97,131.50 678.10,131.27 678.24,131.20 678.37,131.69 678.51,131.22 678.64,131.45 678.78,131.40 678.91,131.50 679.05,131.29 679.18,131.10 679.32,131.30 679.45,131.46 679.59,131.57 679.72,131.16 679.86,131.43 679.99,131.28 680.13,131.29 680.26,131.53 680.40,131.40 680.53,131.47 680.67,131.19 680.80,131.52 680.94,131.46 681.07,131.45 681.21,131.68 681.34,131.61 681.48,131.28 681.61,131.53 681.75,131.31 681.88,131.57 682.02,131.63 682.15,131.29 682.29,131.56 682.42,131.54 682.56,131.18 682.69,131.71 682.83,131.07 682.96,131.37 683.10,131.49 683.23,131.74 683.37,131.36 683.50,131.52 683.64,131.51 683.77,131.50 683.91,131.28 684.04,131.24 684.18,131.50 684.31,131.41 684.45,131.75 684.58,131.60 684.72,131.37 684.85,131.41 684.99,131.30 685.12,131.10 685.26,131.06 685.39,131.46 685.53,131.32 685.66,131.59 685.80,131.41 685.93,131.15 686.07,131.57 686.20,131.75 686.34,131.26 686.47,131.18 686.61,131.32 686.74,131.40 686.88,131.71 687.01,131.33 687.15,131.42 687.28,131.46 687.42,131.37 687.55,131.51 687.69,131.41 687.82,131.34 687.96,131.51 688.09,131.30 688.23,131.27 688.36,131.56 688.50,131.35 688.63,131.66 688.77,131.18 688.90,131.16 689.04,131.28 689.17,131.75 689.31,131.26 689.44,131.17 689.58,131.05 689.71,131.37 689.85,131.22 689.98,131.64 690.12,131.52 690.25,131.37 690.39,131.52 690.52,131.27 690.66,131.30 690.79,131.34 690.93,131.40 691.06,131.28 691.20,131.66 691.33,131.70 691.47,131.12 691.60,131.24 691.74,131.35 691.87,131.56 692.01,131.62 692.14,131.28 692.28,131.34 692.41,131.12 692.55,131.34 692.68,131.37 692.82,131.29 692.95,131.47 693.09,131.54 693.22,131.68 693.36,131.40 693.49,131.42 693.63,131.31 693.76,131.35 693.90,131.22 694.03,131.75 694.17,131.36 694.30,131.41 694.44,131.43 694.57,131.49 694.71,131.52 694.84,131.42 694.98,131.25 695.11,131.75 695.25,131.31 695.38,131.39 695.52,131.62 695.65,131.16 695.79,131.37 695.92,131.12 696.06,131.40 696.19,131.48 696.33,131.45 696.46,131.44 696.60,131.15 696.73,130.90 696.87,130.49 697.00,131.73 697.14,133.05 697.27,131.65 697.41,131.11 697.54,131.53 697.68,132.27 697.81,130.50 697.95,134.34 698.08,131.02 698.22,132.78 698.35,132.01 698.49,130.23 698.62,130.72 698.76,127.91 698.89,131.07 699.03,131.26 699.16,127.74 699.30,128.18 699.43,128.23 699.57,130.61 699.70,130.76 699.84,131.98 699.97,132.76 700.11,131.32 700.24,131.96 700.38,131.79 700.51,131.31 700.65,134.50 700.78,132.35 700.92,133.24 701.05,135.13 701.19,131.53 701.32,130.79 701.46,127.91 701.59,130.15 701.73,133.46 701.86,133.91 702.00,134.39 702.13,129.22 702.27,133.22 702.40,132.63 702.54,131.84 702.67,131.81 702.81,130.45 702.94,129.28 703.08,131.64 703.21,128.11 703.35,131.87 703.48,133.20 703.62,130.83 703.75,133.04 703.89,133.77 704.02,133.26 704.16,130.67 704.29,134.09 704.43,128.25 704.56,131.53 704.70,131.87 704.83,132.57 704.97,131.58 705.10,128.69 705.24,132.09 705.37,130.23 705.51,132.43 705.64,130.45 705.78,133.83 705.91,134.14 706.05,128.83 706.18,129.17 706.32,132.83 706.45,134.48 706.59,133.34 706.72,129.62 706.86,131.04 706.99,133.47 707.13,128.74 707.26,132.43 707.40,129.87 707.53,131.87 707.67,133.18 707.80,133.49 707.94,128.11 708.07,128.32 708.21,132.09 708.34,130.88 708.48,132.45 708.61,133.41 708.75,132.04 708.88,133.08 709.02,132.15 709.15,131.28 709.29,131.81 709.42,130.14 709.56,131.44 709.69,129.95 709.83,131.80 709.96,132.16 710.10,130.67 710.23,132.25 710.37,129.90 710.50,129.45 710.64,130.10 710.77,130.08 710.91,130.79 711.04,130.27 711.18,130.10 711.31,129.11 711.45,133.39 711.58,133.67 711.72,131.48 711.85,132.64 711.99,132.67 712.12,133.51 712.26,131.59 712.39,133.26 712.53,127.65 712.66,134.33 712.80,130.02 712.93,135.20 713.07,128.41 713.20,134.55 713.34,133.69 713.47,128.64 713.61,131.21 713.74,131.31 713.88,132.91 714.01,132.24 714.15,126.57 714.28,135.30 714.42,136.94 714.55,134.10 714.69,132.49 714.82,129.54 714.96,129.33 715.09,132.64 715.23,125.21 715.36,129.87 715.50,127.32 715.63,132.84 715.77,135.38 715.90,137.58 716.04,134.12 716.17,133.06 716.31,131.90 716.44,130.88 716.58,132.77 716.71,128.72 716.85,130.26 716.98,130.76 717.12,129.10 717.25,133.08 717.39,134.25 717.52,127.00 717.66,137.31 717.79,135.09 717.93,125.23 718.06,135.12 718.20,126.42 718.33,130.27 718.47,132.84 718.60,129.83 718.74,131.80 718.87,133.40 719.01,130.73 719.14,131.17 719.28,135.24 719.41,134.76 719.55,129.97 719.68,134.41 719.82,133.64 719.95,130.51 720.09,135.18 720.22,128.17 720.36,133.56 720.49,131.94 720.63,136.00 720.76,134.32 720.90,136.86 721.03,128.97 721.17,130.52 721.30,135.39 721.44,137.28 721.57,129.81 721.71,128.40 721.84,132.16 721.98,129.27 722.11,130.31 722.25,131.06 722.38,131.53 722.52,131.95 722.65,133.96 722.79,127.92 722.92,130.50 723.06,126.91 723.19,125.65 723.33,136.45 723.46,132.71 723.60,130.93 723.73,135.88 723.87,131.17 724.00,137.53 724.14,128.82 724.27,129.03 724.41,133.04 724.54,130.16 724.68,132.06 724.81,128.02 724.95,131.11 725.08,134.25 725.22,132.65 725.35,132.34 725.49,135.22 725.62,129.39 725.76,133.71 725.89,125.28 726.03,131.25 726.16,129.73 726.30,129.31 726.43,128.54 726.57,126.15 726.70,137.49 726.84,126.13 726.97,131.73 727.11,133.17 727.24,128.23 727.38,132.85 727.51,130.46 727.65,133.40 727.78,128.56 727.92,126.19 728.05,136.84 728.19,137.51 728.32,126.06 728.46,130.24 728.59,130.11 728.73,133.45 728.86,128.65 729.00,128.86 729.13,134.25 729.27,137.50 729.40,125.30 729.54,133.91 729.67,134.24 729.81,134.40 729.94,130.44 730.08,131.32 730.21,133.21 730.35,129.84 730.48,130.14 730.62,129.40 730.75,128.59 730.89,130.70 731.02,133.35 731.16,132.68 731.29,133.44 731.43,137.18 731.56,129.01 731.70,131.89 731.83,126.03 731.97,135.10 732.10,132.91 732.24,131.66 732.37,125.36 732.51,136.07 732.64,135.91 732.78,128.73 732.91,136.06 733.05,135.27 733.18,132.40 733.32,126.60 733.45,131.75 733.59,134.16 733.72,134.92 733.86,131.81 733.99,130.42 734.13,132.54 734.26,134.20 734.40,134.34 734.53,131.34 734.67,127.88 734.80,128.14 734.94,135.53 735.07,130.55 735.21,127.75 735.34,126.91 735.48,126.21 735.61,129.14 735.75,130.39 735.88,131.06 736.02,132.93 736.15,129.81 736.29,130.81 736.42,135.62 736.56,127.13 736.69,126.99 736.83,135.53 736.96,134.43 737.10,128.18 737.23,127.15 737.37,125.75 737.50,127.50 737.64,130.87 737.77,131.99 737.91,135.00 738.04,130.73 738.18,127.54 738.31,129.94 738.45,126.31 738.58,131.77 738.72,128.90 738.85,131.51 738.99,133.48 739.12,131.74 739.26,133.66 739.39,131.68 739.53,130.30 739.66,136.47 739.80,128.44 739.93,133.13 740.07,126.32 740.20,128.07 740.34,134.08 740.47,129.89 740.61,133.18 740.74,135.42 740.88,125.37 741.01,134.18 741.15,127.42 741.28,136.93 741.42,127.73 741.55,135.07 741.69,129.05 741.82,129.93 741.96,128.95 742.09,134.50 742.23,125.38 742.36,131.71 742.50,129.48 742.63,132.05 742.77,130.06 742.90,132.04 743.04,132.53 743.17,129.62 743.31,131.62 743.44,135.70 743.58,132.42 743.71,133.50 743.85,134.69 743.98,130.31 744.12,128.90 744.25,128.01 744.39,129.29 744.52,129.78 744.66,126.42 744.79,130.07 744.93,133.81 745.06,129.51 745.20,137.44 745.33,126.74 745.47,137.23 745.60,127.14 745.74,131.06 745.87,135.15 746.01,132.28 746.14,127.79 746.28,126.64 746.41,132.46 746.55,129.88 746.68,133.67 746.82,132.81 746.95,136.06 747.09,128.38 747.22,134.35 747.36,137.21 747.49,130.91 747.63,131.39 747.76,125.47 747.90,129.54 748.03,132.42 748.17,124.81 748.30,134.27 748.44,129.19 748.57,134.67 748.71,132.56 748.84,128.72 748.98,125.23 749.11,131.50 749.25,130.78 749.38,138.22 749.52,127.39 749.65,124.53 749.79,128.14 749.92,135.28 750.06,131.12 750.19,127.35 750.33,131.97 750.46,134.23 750.60,129.86 750.73,137.39 750.87,134.40 751.00,136.09 751.14,135.38 751.27,131.31 751.41,133.14 751.54,132.00 751.68,130.33 751.81,127.98 751.95,135.98 752.08,129.17 752.22,133.59 752.35,125.72 752.49,131.92 752.62,132.08 752.76,128.31 752.89,123.92 753.03,129.90 753.16,128.14 753.30,137.19 753.43,125.59 753.57,133.29 753.70,132.56 753.84,133.68 753.97,131.18 754.11,127.63 754.24,143.32 754.38,123.13 754.51,126.51 754.65,140.27 754.78,128.33 754.92,130.16 755.05,142.84 755.19,123.65 755.32,123.50 755.46,136.38 755.59,127.16 755.73,123.82 755.86,140.64 756.00,131.49 756.13,140.06 756.20,113.00 756.27,115.64 756.40,139.82 756.54,122.40 756.67,134.90 756.81,128.95 756.94,137.30 757.00,148.00 757.08,133.06 757.21,142.56 757.35,145.82 757.48,138.55 757.62,147.66 757.75,126.49 757.89,129.99 758.02,122.06 758.16,129.76 758.29,118.20 758.43,121.02 758.56,131.35 758.60,146.00 758.70,126.45 758.83,136.49 758.97,130.19 759.10,103.20 759.10,139.72 759.24,140.64 759.37,136.19 759.50,153.00 759.51,140.47 759.64,121.97 759.78,140.03 759.91,121.74 760.05,140.58 760.18,125.07 760.32,143.55 760.45,136.65 760.59,127.41 760.72,139.87 760.86,119.33 760.99,122.58 761.13,147.97 761.26,139.23 761.40,140.39 761.53,123.58 761.60,109.00 761.67,130.18 761.80,127.11 761.94,123.86 762.00,151.00 762.07,124.65 762.21,143.12 762.34,138.65 762.48,130.64 762.61,122.22 762.75,140.15 762.88,119.79 763.02,128.04 763.15,130.60 763.29,135.71 763.42,143.04 763.56,127.58 763.69,143.40 763.83,140.73 763.96,124.63 764.10,118.94 764.23,132.25 764.37,126.91 764.50,112.00 764.50,127.98 764.64,132.67 764.77,127.60 764.91,118.89 765.04,134.01 765.18,137.86 765.31,122.44 765.45,143.72 765.50,149.00 765.58,126.81 765.72,138.93 765.85,126.25 765.99,143.19 766.12,132.89 766.26,132.85 766.39,149.14 766.53,136.52 766.66,113.84 766.80,126.59 766.93,130.21 767.07,129.21 767.20,125.54 767.34,131.30 767.47,135.93 767.61,118.98 767.74,145.40 767.88,128.49 768.01,136.47 768.15,126.82 768.28,127.96 768.42,137.22 768.55,126.34 768.69,137.01 768.82,135.59 768.96,126.86 769.09,142.70 769.23,136.12 769.36,123.59 769.50,141.69 769.63,128.37 769.77,135.28 769.90,135.67 770.04,127.33 770.17,131.15 770.31,141.86 770.44,130.32 770.58,140.83 770.71,135.78 770.85,135.45 770.98,124.31 771.12,129.55 771.25,128.15 771.39,122.84 771.52,121.08 771.66,135.64 771.79,126.83 771.93,133.45 772.06,138.44 772.20,128.42 772.33,121.17 772.47,135.62 772.60,138.44 772.74,129.77 772.87,132.75 773.01,139.24 773.14,136.92 773.28,136.09 773.41,136.68 773.55,130.27 773.68,133.63 773.82,132.68 773.95,132.70 774.09,133.58 774.22,125.70 774.36,131.02 774.49,132.01 774.63,135.65 774.76,129.03 774.90,131.16 775.03,130.07 775.17,134.81 775.30,128.17 775.44,135.18 775.57,138.23 775.71,126.60 775.84,134.94 775.98,130.64 776.11,129.21 776.25,135.20 776.38,130.14 776.52,132.18 776.65,127.54 776.79,130.24 776.92,135.54 777.06,125.76 777.19,128.06 777.33,132.75 777.46,130.71 777.60,127.19 777.73,133.39 777.87,133.45 778.00,124.38 778.14,130.22 778.27,126.72 778.41,124.79 778.54,130.25 778.68,137.31 778.81,135.52 778.95,130.49 779.08,124.24 779.22,123.99 779.35,135.96 779.49,121.99 779.62,136.88 779.76,132.93 779.89,122.04 780.03,126.91 780.16,133.55 780.30,129.31 780.43,134.35 780.57,139.29 780.70,125.97 780.84,132.47 780.97,135.71 781.11,126.27 781.24,126.37 781.38,133.06 781.51,125.73 781.65,138.72 781.78,128.88 781.92,131.72 782.05,131.71 782.19,130.46 782.32,131.90 782.46,130.93 782.59,133.90 782.73,130.61 782.86,137.71 783.00,127.46 783.13,132.36 783.27,133.21 783.40,137.47 783.54,132.40 783.67,137.44 783.81,134.58 783.94,127.71 784.08,130.28 784.21,136.26 784.35,129.25 784.48,131.33 784.62,132.73 784.75,131.32 784.89,138.00 785.02,139.70 785.16,135.77 785.29,126.50 785.43,132.99 785.56,133.19 785.70,130.33 785.83,136.18 785.97,123.65 786.10,129.38 786.24,128.03 786.37,124.47 786.51,134.82 786.64,134.12 786.78,132.32 786.91,129.56 787.05,130.24 787.18,132.94 787.20,118.00 787.32,133.54 787.45,140.72 787.59,134.22 787.72,122.42 787.86,127.63 787.99,130.34 788.13,131.97 788.26,132.38 788.40,137.49 788.53,133.14 788.67,123.55 788.80,131.21 788.94,128.82 789.07,125.00 789.21,127.07 789.34,126.82 789.48,123.88 789.61,130.40 789.75,126.74" fill="none" stroke="#006400" stroke-width="0.5" stroke-linejoin="round"/>
<rect x="506.7" y="100" width="283.7" height="53.5" fill="none" stroke="#000" stroke-width="1.5"/>
<g stroke="#333" stroke-width="0.9">
<line x1="520.70" y1="99.3" x2="520.70" y2="95"/>
<line x1="520.70" y1="154.2" x2="520.70" y2="158.5"/>
<line x1="544.43" y1="99.3" x2="544.43" y2="95"/>
<line x1="544.43" y1="154.2" x2="544.43" y2="158.5"/>
<line x1="568.16" y1="99.3" x2="568.16" y2="95"/>
<line x1="568.16" y1="154.2" x2="568.16" y2="158.5"/>
<line x1="591.89" y1="99.3" x2="591.89" y2="95"/>
<line x1="591.89" y1="154.2" x2="591.89" y2="158.5"/>
<line x1="615.62" y1="99.3" x2="615.62" y2="95"/>
<line x1="615.62" y1="154.2" x2="615.62" y2="158.5"/>
<line x1="639.35" y1="99.3" x2="639.35" y2="95"/>
<line x1="639.35" y1="154.2" x2="639.35" y2="158.5"/>
<line x1="663.08" y1="99.3" x2="663.08" y2="95"/>
<line x1="663.08" y1="154.2" x2="663.08" y2="158.5"/>
<line x1="686.81" y1="99.3" x2="686.81" y2="95"/>
<line x1="686.81" y1="154.2" x2="686.81" y2="158.5"/>
<line x1="710.54" y1="99.3" x2="710.54" y2="95"/>
<line x1="710.54" y1="154.2" x2="710.54" y2="158.5"/>
<line x1="734.27" y1="99.3" x2="734.27" y2="95"/>
<line x1="734.27" y1="154.2" x2="734.27" y2="158.5"/>
<line x1="758.00" y1="99.3" x2="758.00" y2="95"/>
<line x1="758.00" y1="154.2" x2="758.00" y2="158.5"/>
<line x1="781.73" y1="99.3" x2="781.73" y2="95"/>
<line x1="781.73" y1="154.2" x2="781.73" y2="158.5"/>
</g>
<text class="s" x="520.80" y="171" font-size="10" letter-spacing="0.2" text-anchor="middle" style="fill:#0a0a0a">55</text>
<text class="s" x="544.53" y="171" font-size="10" letter-spacing="0.2" text-anchor="middle" style="fill:#0a0a0a">00</text>
<text class="s" x="568.26" y="171" font-size="10" letter-spacing="0.2" text-anchor="middle" style="fill:#0a0a0a">05</text>
<text class="s" x="591.99" y="171" font-size="10" letter-spacing="0.2" text-anchor="middle" style="fill:#0a0a0a">10</text>
<text class="s" x="615.72" y="171" font-size="10" letter-spacing="0.2" text-anchor="middle" style="fill:#0a0a0a">15</text>
<text class="s" x="639.45" y="171" font-size="10" letter-spacing="0.2" text-anchor="middle" style="fill:#0a0a0a">20</text>
<text class="s" x="663.18" y="171" font-size="10" letter-spacing="0.2" text-anchor="middle" style="fill:#0a0a0a">25</text>
<text class="s" x="686.91" y="171" font-size="10" letter-spacing="0.2" text-anchor="middle" style="fill:#0a0a0a">30</text>
<text class="s" x="710.64" y="171" font-size="10" letter-spacing="0.2" text-anchor="middle" style="fill:#0a0a0a">35</text>
<text class="s" x="734.37" y="171" font-size="10" letter-spacing="0.2" text-anchor="middle" style="fill:#0a0a0a">40</text>
<text class="s" x="758.10" y="171" font-size="10" letter-spacing="0.2" text-anchor="middle" style="fill:#0a0a0a">45</text>
<text class="s" x="781.83" y="171" font-size="10" letter-spacing="0.2" text-anchor="middle" style="fill:#0a0a0a">50</text>
<text class="s" x="799.4" y="111.7" font-size="10" font-weight="bold" style="fill:#0000ff">Hosp. Osa</text>
<text class="s" x="799.4" y="134.9" font-size="10">Acel. Max. 0.7</text>
<text class="s" x="799.4" y="152.8" font-size="10">Int JMA: 1</text>
<polyline points="507.60,209.45 507.73,209.45 507.87,209.25 508.00,209.06 508.14,209.19 508.27,209.30 508.41,209.53 508.54,209.30 508.68,209.29 508.81,209.33 508.95,209.32 509.08,209.32 509.22,209.30 509.35,209.50 509.49,209.36 509.62,209.38 509.76,209.15 509.89,209.31 510.03,209.40 510.16,209.42 510.30,209.23 510.43,209.13 510.57,209.17 510.70,209.22 510.84,209.23 510.97,209.27 511.11,209.29 511.24,209.46 511.38,209.34 511.51,209.15 511.65,209.38 511.78,209.29 511.92,209.39 512.05,209.36 512.19,209.24 512.32,209.17 512.46,209.30 512.59,209.35 512.73,209.44 512.86,209.23 513.00,209.36 513.13,209.20 513.27,209.05 513.40,209.33 513.54,209.46 513.67,209.30 513.81,209.41 513.94,209.24 514.08,209.33 514.21,209.38 514.35,209.07 514.48,209.46 514.62,209.26 514.75,209.54 514.89,209.42 515.02,209.55 515.16,209.23 515.29,209.11 515.43,209.22 515.56,209.40 515.70,209.32 515.83,209.35 515.97,209.32 516.10,209.38 516.24,209.06 516.37,209.28 516.51,209.46 516.64,209.33 516.78,209.22 516.91,209.35 517.05,209.29 517.18,209.23 517.32,209.43 517.45,209.37 517.59,209.21 517.72,209.42 517.86,209.27 517.99,209.50 518.13,209.34 518.26,209.28 518.40,209.23 518.53,209.27 518.67,209.34 518.80,209.16 518.94,209.42 519.07,209.37 519.21,209.25 519.34,209.48 519.48,209.22 519.61,209.28 519.75,209.32 519.88,209.46 520.02,209.14 520.15,209.37 520.29,209.29 520.42,209.34 520.56,209.35 520.69,209.53 520.83,209.22 520.96,209.36 521.10,209.34 521.23,209.05 521.37,209.28 521.50,209.25 521.64,209.31 521.77,209.53 521.91,209.29 522.04,209.36 522.18,209.32 522.31,209.31 522.45,209.39 522.58,209.43 522.72,209.21 522.85,209.30 522.99,209.31 523.12,209.50 523.26,209.27 523.39,209.24 523.53,209.42 523.66,209.13 523.80,209.34 523.93,209.36 524.07,209.30 524.20,209.27 524.34,209.37 524.47,209.42 524.61,209.40 524.74,209.49 524.88,209.40 525.01,209.30 525.15,209.18 525.28,209.34 525.42,209.19 525.55,209.53 525.69,209.24 525.82,209.37 525.96,209.30 526.09,209.48 526.23,209.26 526.36,209.41 526.50,209.25 526.63,209.49 526.77,209.18 526.90,209.25 527.04,209.50 527.17,209.16 527.31,209.13 527.44,209.06 527.58,209.38 527.71,209.38 527.85,209.18 527.98,209.24 528.12,209.43 528.25,209.29 528.39,209.33 528.52,209.38 528.66,209.34 528.79,209.41 528.93,209.24 529.06,209.44 529.20,209.27 529.33,209.36 529.47,209.52 529.60,209.36 529.74,209.19 529.87,209.27 530.01,209.05 530.14,209.49 530.28,209.46 530.41,209.17 530.55,209.32 530.68,209.12 530.82,209.25 530.95,209.27 531.09,209.31 531.22,209.51 531.36,209.32 531.49,209.28 531.63,209.33 531.76,209.29 531.90,209.34 532.03,209.20 532.17,209.16 532.30,209.36 532.44,209.21 532.57,209.25 532.71,209.49 532.84,209.29 532.98,209.29 533.11,209.14 533.25,209.34 533.38,209.39 533.52,209.55 533.65,209.29 533.79,209.29 533.92,209.22 534.06,209.17 534.19,209.05 534.33,209.55 534.46,209.35 534.60,209.10 534.73,209.27 534.87,209.27 535.00,209.21 535.14,209.33 535.27,209.28 535.41,209.18 535.54,209.27 535.68,209.19 535.81,209.14 535.95,209.35 536.08,209.18 536.22,209.23 536.35,209.33 536.49,209.35 536.62,209.55 536.76,209.29 536.89,209.23 537.03,209.37 537.16,209.29 537.30,209.54 537.43,209.26 537.57,209.49 537.70,209.30 537.84,209.29 537.97,209.33 538.11,209.35 538.24,209.41 538.38,209.28 538.51,209.50 538.65,209.35 538.78,209.41 538.92,209.38 539.05,209.55 539.19,209.29 539.32,209.21 539.46,209.07 539.59,209.28 539.73,209.26 539.86,209.28 540.00,209.39 540.13,209.35 540.27,209.33 540.40,209.24 540.54,209.55 540.67,209.31 540.81,209.40 540.94,209.22 541.08,209.44 541.21,209.27 541.35,209.44 541.48,209.48 541.62,209.45 541.75,209.31 541.89,209.17 542.02,209.44 542.16,209.49 542.29,209.27 542.43,209.22 542.56,209.22 542.70,209.45 542.83,209.30 542.97,209.16 543.10,209.35 543.24,209.31 543.37,209.24 543.51,209.55 543.64,209.25 543.78,209.05 543.91,209.11 544.05,209.28 544.18,209.44 544.32,209.25 544.45,209.36 544.59,209.33 544.72,209.40 544.86,209.25 544.99,209.55 545.13,209.35 545.26,209.34 545.40,209.34 545.53,209.31 545.67,209.39 545.80,209.55 545.94,209.31 546.07,209.32 546.21,209.38 546.34,209.29 546.48,209.55 546.61,209.40 546.75,209.42 546.88,209.44 547.02,209.06 547.15,209.44 547.29,209.19 547.42,209.11 547.56,209.38 547.69,209.19 547.83,209.26 547.96,209.28 548.10,209.54 548.23,209.33 548.37,209.22 548.50,209.22 548.64,209.39 548.77,209.51 548.91,209.29 549.04,209.23 549.18,209.08 549.31,209.26 549.45,209.38 549.58,209.24 549.72,209.24 549.85,209.41 549.99,209.24 550.12,209.28 550.26,209.31 550.39,209.30 550.53,209.17 550.66,209.31 550.80,209.39 550.93,209.05 551.07,209.33 551.20,209.11 551.34,209.39 551.47,209.30 551.61,209.28 551.74,209.22 551.88,209.21 552.01,209.24 552.15,209.18 552.28,209.45 552.42,209.23 552.55,209.30 552.69,209.31 552.82,209.30 552.96,209.28 553.09,209.15 553.23,209.26 553.36,209.30 553.50,209.24 553.63,209.05 553.77,209.39 553.90,209.19 554.04,209.40 554.17,209.32 554.31,209.26 554.44,209.28 554.58,209.16 554.71,209.32 554.85,209.27 554.98,209.44 555.12,209.53 555.25,209.17 555.39,209.17 555.52,209.40 555.66,209.17 555.79,209.37 555.93,209.20 556.06,209.07 556.20,209.30 556.33,209.41 556.47,209.05 556.60,209.09 556.74,209.05 556.87,209.46 557.01,209.15 557.14,209.37 557.28,209.05 557.41,209.18 557.55,209.29 557.68,209.20 557.82,209.21 557.95,209.31 558.09,209.14 558.22,209.31 558.36,209.26 558.49,209.36 558.63,209.30 558.76,209.30 558.90,209.43 559.03,209.54 559.17,209.51 559.30,209.28 559.44,209.32 559.57,209.18 559.71,209.06 559.84,209.30 559.98,209.39 560.11,209.21 560.25,209.21 560.38,209.29 560.52,209.26 560.65,209.23 560.79,209.29 560.92,209.23 561.06,209.33 561.19,209.17 561.33,209.25 561.46,209.25 561.60,209.18 561.73,209.28 561.87,209.32 562.00,209.34 562.14,209.19 562.27,209.26 562.41,209.36 562.54,209.35 562.68,209.05 562.81,209.35 562.95,209.29 563.08,209.15 563.22,209.21 563.35,209.35 563.49,209.31 563.62,209.30 563.76,209.33 563.89,209.23 564.03,209.26 564.16,209.51 564.30,209.32 564.43,209.29 564.57,209.38 564.70,209.17 564.84,209.27 564.97,209.18 565.11,209.18 565.24,209.22 565.38,209.43 565.51,209.26 565.65,209.29 565.78,209.26 565.92,209.33 566.05,209.38 566.19,209.20 566.32,209.31 566.46,209.29 566.59,209.52 566.73,209.37 566.86,209.19 567.00,209.09 567.13,209.27 567.27,209.33 567.40,209.17 567.54,209.47 567.67,209.35 567.81,209.34 567.94,209.30 568.08,209.34 568.21,209.06 568.35,209.46 568.48,209.51 568.62,209.18 568.75,209.38 568.89,209.40 569.02,209.40 569.16,209.30 569.29,209.34 569.43,209.30 569.56,209.15 569.70,209.19 569.83,209.16 569.97,209.55 570.10,209.42 570.24,209.18 570.37,209.39 570.51,209.32 570.64,209.40 570.78,209.18 570.91,209.31 571.05,209.43 571.18,209.48 571.32,209.24 571.45,209.05 571.59,209.29 571.72,209.26 571.86,209.40 571.99,209.31 572.13,209.36 572.26,209.16 572.40,209.29 572.53,209.29 572.67,209.19 572.80,209.28 572.94,209.39 573.07,209.28 573.21,209.29 573.34,209.49 573.48,209.27 573.61,209.16 573.75,209.27 573.88,209.27 574.02,209.32 574.15,209.28 574.29,209.25 574.42,209.24 574.56,209.26 574.69,209.25 574.83,209.05 574.96,209.20 575.10,209.15 575.23,209.21 575.37,209.18 575.50,209.10 575.64,209.31 575.77,209.27 575.91,209.45 576.04,209.20 576.18,209.48 576.31,209.25 576.45,209.27 576.58,209.34 576.72,209.38 576.85,209.44 576.99,209.32 577.12,209.48 577.26,209.40 577.39,209.42 577.53,209.52 577.66,209.25 577.80,209.19 577.93,209.14 578.07,209.41 578.20,209.28 578.34,209.25 578.47,209.23 578.61,209.32 578.74,209.35 578.88,209.25 579.01,209.28 579.15,209.15 579.28,209.25 579.42,209.43 579.55,209.44 579.69,209.29 579.82,209.34 579.96,209.28 580.09,209.20 580.23,209.53 580.36,209.26 580.50,209.14 580.63,209.05 580.77,209.20 580.90,209.32 581.04,209.28 581.17,209.40 581.31,209.36 581.44,209.47 581.58,209.29 581.71,209.25 581.85,209.27 581.98,209.41 582.12,209.55 582.25,209.38 582.39,209.31 582.52,209.31 582.66,209.23 582.79,209.23 582.93,209.29 583.06,209.35 583.20,209.19 583.33,209.38 583.47,209.38 583.60,209.19 583.74,209.21 583.87,209.13 584.01,209.43 584.14,209.29 584.28,209.24 584.41,209.30 584.55,209.07 584.68,209.23 584.82,209.33 584.95,209.35 585.09,209.39 585.22,209.41 585.36,209.18 585.49,209.07 585.63,209.14 585.76,209.22 585.90,209.38 586.03,209.13 586.17,209.33 586.30,209.30 586.44,209.10 586.57,209.55 586.71,209.41 586.84,209.24 586.98,209.24 587.11,209.28 587.25,209.18 587.38,209.33 587.52,209.30 587.65,209.36 587.79,209.41 587.92,209.33 588.06,209.26 588.19,209.30 588.33,209.51 588.46,209.28 588.60,209.42 588.73,209.20 588.87,209.41 589.00,209.45 589.14,209.31 589.27,209.34 589.41,209.48 589.54,209.34 589.68,209.34 589.81,209.36 589.95,209.34 590.08,209.31 590.22,209.36 590.35,209.28 590.49,209.22 590.62,209.20 590.76,209.40 590.89,209.33 591.03,209.09 591.16,209.45 591.30,209.37 591.43,209.49 591.57,209.45 591.70,209.39 591.84,209.34 591.97,209.25 592.11,209.22 592.24,209.35 592.38,209.55 592.51,209.19 592.65,209.40 592.78,209.29 592.92,209.05 593.05,209.33 593.19,209.31 593.32,209.26 593.46,209.09 593.59,209.30 593.73,209.17 593.86,209.33 594.00,209.47 594.13,209.20 594.27,209.55 594.40,209.47 594.54,209.19 594.67,209.29 594.81,209.16 594.94,209.23 595.08,209.31 595.21,209.17 595.35,209.25 595.48,209.21 595.62,209.22 595.75,209.28 595.89,209.34 596.02,209.37 596.16,209.38 596.29,209.29 596.43,209.51 596.56,209.52 596.70,209.40 596.83,209.20 596.97,209.34 597.10,209.16 597.24,209.18 597.37,209.27 597.51,209.54 597.64,209.40 597.78,209.12 597.91,209.44 598.05,209.25 598.18,209.23 598.32,209.15 598.45,209.30 598.59,209.39 598.72,209.30 598.86,209.18 598.99,209.32 599.13,209.43 599.26,209.49 599.40,209.45 599.53,209.45 599.67,209.36 599.80,209.17 599.94,209.35 600.07,209.19 600.21,209.34 600.34,209.33 600.48,209.36 600.61,209.26 600.75,209.28 600.88,209.36 601.02,209.26 601.15,209.10 601.29,209.40 601.42,209.34 601.56,209.20 601.69,209.28 601.83,209.32 601.96,209.48 602.10,209.22 602.23,209.27 602.37,209.31 602.50,209.22 602.64,209.39 602.77,209.12 602.91,209.40 603.04,209.06 603.18,209.12 603.31,209.42 603.45,209.21 603.58,209.09 603.72,209.17 603.85,209.38 603.99,209.34 604.12,209.06 604.26,209.05 604.39,209.29 604.53,209.37 604.66,209.12 604.80,209.13 604.93,209.15 605.07,209.05 605.20,209.36 605.34,209.22 605.47,209.34 605.61,209.16 605.74,209.22 605.88,209.31 606.01,209.17 606.15,209.07 606.28,209.55 606.42,209.45 606.55,209.14 606.69,209.21 606.82,209.16 606.96,209.20 607.09,209.24 607.23,209.22 607.36,209.46 607.50,209.13 607.63,209.26 607.77,209.14 607.90,209.30 608.04,209.28 608.17,209.39 608.31,209.24 608.44,209.37 608.58,209.36 608.71,209.20 608.85,209.46 608.98,209.46 609.12,209.35 609.25,209.38 609.39,209.27 609.52,209.13 609.66,209.34 609.79,209.25 609.93,209.51 610.06,209.27 610.20,209.18 610.33,209.47 610.47,209.39 610.60,209.33 610.74,209.30 610.87,209.28 611.01,209.38 611.14,209.55 611.28,209.14 611.41,209.40 611.55,209.36 611.68,209.34 611.82,209.36 611.95,209.24 612.09,209.19 612.22,209.08 612.36,209.16 612.49,209.55 612.63,209.23 612.76,209.44 612.90,209.05 613.03,209.24 613.17,209.55 613.30,209.40 613.44,209.05 613.57,209.28 613.71,209.31 613.84,209.29 613.98,209.24 614.11,209.36 614.25,209.18 614.38,209.32 614.52,209.38 614.65,209.40 614.79,209.31 614.92,209.33 615.06,209.55 615.19,209.33 615.33,209.34 615.46,209.28 615.60,209.44 615.73,209.41 615.87,209.34 616.00,209.22 616.14,209.46 616.27,209.19 616.41,209.49 616.54,209.17 616.68,209.30 616.81,209.27 616.95,209.10 617.08,209.28 617.22,209.27 617.35,209.11 617.49,209.37 617.62,209.32 617.76,209.19 617.89,209.34 618.03,209.47 618.16,209.06 618.30,209.31 618.43,209.10 618.57,209.20 618.70,209.31 618.84,209.14 618.97,209.33 619.11,209.22 619.24,209.48 619.38,209.19 619.51,209.39 619.65,209.11 619.78,209.40 619.92,209.44 620.05,209.38 620.19,209.30 620.32,209.20 620.46,209.09 620.59,209.26 620.73,209.37 620.86,209.43 621.00,209.36 621.13,209.33 621.27,209.48 621.40,209.42 621.54,209.42 621.67,209.28 621.81,209.34 621.94,209.10 622.08,209.23 622.21,209.33 622.35,209.15 622.48,209.05 622.62,209.32 622.75,209.31 622.89,209.53 623.02,209.42 623.16,209.38 623.29,209.23 623.43,209.31 623.56,209.29 623.70,209.33 623.83,209.35 623.97,209.28 624.10,209.32 624.24,209.22 624.37,209.21 624.51,209.21 624.64,209.44 624.78,209.55 624.91,209.24 625.05,209.38 625.18,209.35 625.32,209.34 625.45,209.19 625.59,209.14 625.72,209.42 625.86,209.42 625.99,209.25 626.13,209.29 626.26,209.18 626.40,209.14 626.53,209.32 626.67,209.30 626.80,209.19 626.94,209.47 627.07,209.30 627.21,209.17 627.34,209.45 627.48,209.37 627.61,209.07 627.75,209.27 627.88,209.17 628.02,209.43 628.15,209.41 628.29,209.26 628.42,209.22 628.56,209.16 628.69,209.25 628.83,209.45 628.96,209.30 629.10,209.24 629.23,209.05 629.37,209.18 629.50,209.33 629.64,209.23 629.77,209.55 629.91,209.14 630.04,209.50 630.18,209.21 630.31,209.43 630.45,209.43 630.58,209.33 630.72,209.39 630.85,209.34 630.99,209.28 631.12,209.44 631.26,209.33 631.39,209.35 631.53,209.46 631.66,209.52 631.80,209.36 631.93,209.29 632.07,209.43 632.20,209.26 632.34,209.55 632.47,209.24 632.61,209.36 632.74,209.49 632.88,209.09 633.01,209.25 633.15,209.43 633.28,209.22 633.42,209.30 633.55,209.20 633.69,209.36 633.82,209.43 633.96,209.47 634.09,209.31 634.23,209.31 634.36,209.16 634.50,209.38 634.63,209.54 634.77,209.29 634.90,209.48 635.04,209.38 635.17,209.29 635.31,209.23 635.44,209.38 635.58,209.38 635.71,209.16 635.85,209.21 635.98,209.22 636.12,209.41 636.25,209.29 636.39,209.34 636.52,209.41 636.66,209.47 636.79,209.25 636.93,209.24 637.06,209.37 637.20,209.39 637.33,209.34 637.47,209.06 637.60,209.24 637.74,209.42 637.87,209.26 638.01,209.24 638.14,209.20 638.28,209.27 638.41,209.38 638.55,209.24 638.68,209.36 638.82,209.16 638.95,209.35 639.09,209.55 639.22,209.16 639.36,209.19 639.49,209.05 639.63,209.27 639.76,209.31 639.90,209.28 640.03,209.29 640.17,209.05 640.30,209.34 640.44,209.09 640.57,209.50 640.71,209.34 640.84,209.33 640.98,209.44 641.11,209.40 641.25,209.11 641.38,209.43 641.52,209.23 641.65,209.47 641.79,209.39 641.92,209.22 642.06,209.35 642.19,209.48 642.33,209.28 642.46,209.25 642.60,209.12 642.73,209.21 642.87,209.26 643.00,209.26 643.14,209.27 643.27,209.34 643.41,209.24 643.54,209.08 643.68,209.19 643.81,209.55 643.95,209.34 644.08,209.49 644.22,209.41 644.35,209.35 644.49,209.35 644.62,209.39 644.76,209.17 644.89,209.36 645.03,209.23 645.16,209.13 645.30,209.31 645.43,209.30 645.57,209.30 645.70,209.11 645.84,209.50 645.97,209.39 646.11,209.32 646.24,209.16 646.38,209.21 646.51,209.49 646.65,209.42 646.78,209.23 646.92,209.51 647.05,209.48 647.19,209.06 647.32,209.50 647.46,209.47 647.59,209.32 647.73,209.27 647.86,209.38 648.00,209.20 648.13,209.10 648.27,209.15 648.40,209.33 648.54,209.31 648.67,209.05 648.81,209.31 648.94,209.54 649.08,209.12 649.21,209.20 649.35,209.32 649.48,209.29 649.62,209.28 649.75,209.27 649.89,209.18 650.02,209.30 650.16,209.13 650.29,209.23 650.43,209.19 650.56,209.25 650.70,209.25 650.83,209.32 650.97,209.28 651.10,209.24 651.24,209.34 651.37,209.38 651.51,209.19 651.64,209.29 651.78,209.35 651.91,209.30 652.05,209.08 652.18,209.46 652.32,209.37 652.45,209.24 652.59,209.34 652.72,209.26 652.86,209.32 652.99,209.30 653.13,209.13 653.26,209.44 653.40,209.33 653.53,209.23 653.67,209.35 653.80,209.35 653.94,209.26 654.07,209.41 654.21,209.18 654.34,209.29 654.48,209.33 654.61,209.18 654.75,209.05 654.88,209.31 655.02,209.28 655.15,209.29 655.29,209.25 655.42,209.24 655.56,209.38 655.69,209.39 655.83,209.34 655.96,209.19 656.10,209.21 656.23,209.26 656.37,209.27 656.50,209.19 656.64,209.32 656.77,209.14 656.91,209.14 657.04,209.25 657.18,209.46 657.31,209.31 657.45,209.38 657.58,209.24 657.72,209.38 657.85,209.23 657.99,209.09 658.12,209.35 658.26,209.30 658.39,209.21 658.53,209.05 658.66,209.42 658.80,209.28 658.93,209.08 659.07,209.39 659.20,209.21 659.34,209.43 659.47,209.55 659.61,209.35 659.74,209.51 659.88,209.23 660.01,209.14 660.15,209.28 660.28,209.19 660.42,209.30 660.55,209.23 660.69,209.25 660.82,209.23 660.96,209.39 661.09,209.09 661.23,209.12 661.36,209.11 661.50,209.20 661.63,209.31 661.77,209.30 661.90,209.27 662.04,209.41 662.17,209.05 662.31,209.37 662.44,209.37 662.58,209.42 662.71,209.28 662.85,209.27 662.98,209.25 663.12,209.30 663.25,209.26 663.39,209.33 663.52,209.29 663.66,209.21 663.79,209.35 663.93,209.45 664.06,209.42 664.20,209.37 664.33,209.22 664.47,209.31 664.60,209.31 664.74,209.34 664.87,209.34 665.01,209.31 665.14,209.21 665.28,209.26 665.41,209.34 665.55,209.15 665.68,209.18 665.82,209.21 665.95,209.23 666.09,209.24 666.22,209.23 666.36,209.43 666.49,209.08 666.63,209.27 666.76,209.38 666.90,209.39 667.03,209.39 667.17,209.33 667.30,209.17 667.44,209.44 667.57,209.40 667.71,209.24 667.84,209.09 667.98,209.31 668.11,209.44 668.25,209.31 668.38,209.16 668.52,209.31 668.65,209.34 668.79,209.40 668.92,209.31 669.06,209.08 669.19,209.34 669.33,209.51 669.46,209.55 669.60,209.14 669.73,209.55 669.87,209.27 670.00,209.30 670.14,209.12 670.27,209.29 670.41,209.05 670.54,209.45 670.68,209.20 670.81,209.31 670.95,209.48 671.08,209.34 671.22,209.18 671.35,209.27 671.49,209.05 671.62,209.36 671.76,209.43 671.89,209.36 672.03,209.31 672.16,209.54 672.30,209.20 672.43,209.31 672.57,209.33 672.70,209.28 672.84,209.44 672.97,209.32 673.11,209.55 673.24,209.36 673.38,209.22 673.51,209.25 673.65,209.53 673.78,209.22 673.92,209.30 674.05,209.32 674.19,209.34 674.32,209.48 674.46,209.25 674.59,209.42 674.73,209.55 674.86,209.35 675.00,209.49 675.13,209.22 675.27,209.36 675.40,209.27 675.54,209.39 675.67,209.10 675.81,209.32 675.94,209.38 676.08,209.28 676.21,209.14 676.35,209.38 676.48,209.42 676.62,209.39 676.75,209.21 676.89,209.37 677.02,209.55 677.16,209.38 677.29,209.17 677.43,209.25 677.56,209.24 677.70,209.31 677.83,209.05 677.97,209.42 678.10,209.43 678.24,209.53 678.37,209.19 678.51,209.14 678.64,209.55 678.78,209.17 678.91,209.05 679.05,209.17 679.18,209.22 679.32,209.28 679.45,209.33 679.59,209.39 679.72,209.55 679.86,209.21 679.99,209.32 680.13,209.23 680.26,209.27 680.40,209.45 680.53,209.39 680.67,209.39 680.80,209.17 680.94,209.46 681.07,209.38 681.21,209.09 681.34,209.40 681.48,209.39 681.61,209.32 681.75,209.33 681.88,209.29 682.02,209.52 682.15,209.30 682.29,209.35 682.42,209.28 682.56,209.19 682.69,209.29 682.83,209.31 682.96,209.47 683.10,209.29 683.23,209.30 683.37,209.46 683.50,209.05 683.64,209.18 683.77,209.39 683.91,209.31 684.04,209.41 684.18,209.21 684.31,209.41 684.45,209.22 684.58,209.34 684.72,209.36 684.85,209.35 684.99,209.26 685.12,209.25 685.26,209.08 685.39,209.25 685.53,209.55 685.66,209.40 685.80,209.17 685.93,209.27 686.07,209.31 686.20,209.33 686.34,209.21 686.47,209.20 686.61,209.30 686.74,209.19 686.88,209.33 687.01,209.42 687.15,209.26 687.28,209.39 687.42,209.33 687.55,209.33 687.69,209.28 687.82,209.29 687.96,209.42 688.09,209.31 688.23,208.90 688.36,209.46 688.50,210.10 688.63,210.44 688.77,206.79 688.90,211.85 689.04,210.81 689.17,211.80 689.31,211.41 689.44,202.11 689.58,211.47 689.71,215.77 689.85,204.97 689.98,207.65 690.12,199.39 690.25,208.77 690.39,208.88 690.52,211.02 690.66,198.56 690.79,202.26 690.93,198.49 691.06,201.49 691.20,202.07 691.33,205.98 691.47,199.12 691.60,218.62 691.74,213.19 691.87,192.33 692.01,209.67 692.14,211.29 692.20,228.00 692.28,219.61 692.41,218.67 692.55,208.81 692.60,190.00 692.68,217.40 692.82,203.82 692.95,201.30 693.09,203.12 693.10,182.00 693.22,205.92 693.36,210.98 693.49,220.47 693.50,233.00 693.63,226.30 693.76,220.40 693.90,214.60 694.03,213.30 694.17,215.65 694.30,203.03 694.44,192.30 694.57,212.33 694.71,192.30 694.84,204.18 694.98,212.79 695.11,192.30 695.25,207.00 695.38,199.71 695.52,204.63 695.65,216.24 695.79,219.14 695.92,198.30 696.06,223.28 696.19,206.92 696.33,221.32 696.46,208.46 696.60,226.30 696.73,212.91 696.87,205.78 697.00,206.17 697.14,217.43 697.27,206.83 697.41,203.44 697.54,218.38 697.68,214.14 697.81,213.22 697.95,192.30 698.08,200.34 698.22,202.47 698.35,209.31 698.49,208.74 698.62,199.60 698.76,207.72 698.89,201.32 699.03,207.44 699.16,210.84 699.30,200.81 699.43,212.96 699.57,209.27 699.70,203.65 699.84,210.31 699.97,209.08 700.11,205.81 700.24,211.32 700.38,214.61 700.51,214.17 700.65,208.23 700.78,205.74 700.92,196.57 701.05,204.76 701.19,210.05 701.32,211.11 701.46,211.46 701.59,203.89 701.73,210.42 701.80,189.00 701.86,212.37 702.00,204.18 702.13,206.69 702.27,207.53 702.40,216.75 702.54,213.37 702.67,211.89 702.81,207.25 702.94,201.59 703.08,205.90 703.21,214.60 703.35,211.19 703.48,213.17 703.62,215.01 703.75,209.25 703.89,202.06 704.02,206.37 704.16,200.68 704.29,204.42 704.43,204.86 704.56,203.34 704.70,207.54 704.83,217.42 704.97,221.45 705.10,212.03 705.24,208.29 705.37,214.96 705.51,198.24 705.64,210.16 705.78,210.58 705.91,203.71 706.05,206.08 706.18,216.59 706.32,204.37 706.45,213.11 706.59,207.53 706.72,209.08 706.86,198.37 706.99,213.47 707.13,207.98 707.26,213.89 707.40,202.51 707.53,206.38 707.67,207.14 707.80,208.53 707.94,211.71 708.07,209.76 708.21,212.71 708.34,210.66 708.48,218.80 708.61,214.01 708.75,204.69 708.88,213.18 709.02,202.28 709.15,209.68 709.29,211.28 709.42,215.01 709.56,212.73 709.69,206.12 709.83,215.52 709.96,210.91 710.10,204.36 710.23,204.52 710.37,210.38 710.50,203.89 710.64,199.80 710.77,216.60 710.91,205.80 711.04,209.85 711.18,201.87 711.31,207.47 711.45,203.91 711.58,207.05 711.72,218.80 711.85,213.00 711.99,209.57 712.12,208.24 712.26,208.81 712.39,209.57 712.53,200.42 712.66,206.37 712.80,205.97 712.93,207.83 713.07,207.98 713.20,202.29 713.34,214.71 713.47,203.57 713.61,214.45 713.74,203.54 713.88,213.28 714.01,212.57 714.15,205.55 714.28,201.83 714.42,213.59 714.55,204.62 714.69,209.51 714.82,217.70 714.96,212.71 715.09,214.58 715.23,213.49 715.36,206.95 715.50,207.16 715.63,206.90 715.77,207.50 715.90,205.65 716.04,210.07 716.17,199.80 716.31,210.34 716.44,216.65 716.58,214.03 716.71,201.39 716.85,213.20 716.98,208.26 717.12,211.89 717.25,201.18 717.39,207.07 717.52,216.46 717.66,204.02 717.79,207.29 717.93,213.63 718.06,210.08 718.20,205.34 718.33,199.80 718.47,214.14 718.60,208.25 718.74,207.41 718.87,216.31 719.01,209.71 719.14,208.93 719.28,214.17 719.41,207.82 719.55,210.20 719.68,208.48 719.82,204.60 719.95,202.38 720.09,202.03 720.22,199.80 720.36,208.68 720.49,212.24 720.63,213.41 720.76,207.18 720.90,210.52 721.03,204.14 721.17,206.63 721.30,215.76 721.44,205.86 721.57,215.75 721.71,209.13 721.84,209.88 721.98,213.38 722.11,205.94 722.25,202.61 722.38,204.78 722.52,213.35 722.65,213.27 722.79,205.47 722.92,211.16 723.06,206.58 723.19,214.41 723.33,216.76 723.46,213.20 723.60,207.91 723.73,202.90 723.87,207.84 724.00,209.92 724.14,211.22 724.27,218.10 724.41,215.14 724.54,218.48 724.68,218.80 724.81,209.45 724.95,211.10 725.08,208.51 725.22,213.52 725.35,206.67 725.49,209.14 725.62,218.80 725.76,212.96 725.89,212.17 726.03,203.64 726.16,218.65 726.30,205.28 726.43,215.04 726.57,211.63 726.70,211.31 726.84,212.00 726.97,215.61 727.11,212.95 727.24,204.91 727.38,209.85 727.51,215.10 727.65,207.57 727.78,210.30 727.92,213.38 728.05,211.13 728.19,213.03 728.32,216.92 728.46,207.32 728.59,214.94 728.73,211.15 728.86,210.82 729.00,213.77 729.13,216.04 729.27,215.74 729.40,208.60 729.54,214.34 729.67,204.38 729.81,201.53 729.94,201.00 730.08,205.62 730.21,214.09 730.35,212.16 730.48,211.97 730.62,203.70 730.75,207.32 730.89,203.24 731.02,205.48 731.16,205.12 731.29,208.27 731.43,215.79 731.56,214.26 731.70,200.41 731.83,211.46 731.97,218.80 732.10,208.11 732.24,210.02 732.37,213.55 732.51,215.45 732.64,204.46 732.78,208.31 732.91,213.09 733.05,213.83 733.18,207.80 733.32,211.49 733.45,214.29 733.59,212.41 733.72,212.45 733.86,218.80 733.99,209.22 734.13,209.46 734.26,209.43 734.40,209.36 734.53,204.97 734.67,199.80 734.80,210.12 734.94,214.06 735.07,199.80 735.21,206.84 735.34,209.34 735.48,210.16 735.61,206.65 735.75,199.86 735.88,206.19 736.02,215.91 736.15,206.53 736.29,199.80 736.42,209.21 736.56,213.29 736.69,211.28 736.83,218.80 736.96,208.04 737.10,205.40 737.23,211.41 737.37,216.40 737.50,202.55 737.64,207.48 737.77,209.68 737.91,209.00 738.04,203.60 738.18,206.73 738.31,212.83 738.45,203.78 738.58,208.58 738.72,209.49 738.85,205.52 738.99,214.23 739.12,213.58 739.26,209.82 739.39,214.98 739.53,211.88 739.66,213.12 739.80,211.09 739.93,217.81 740.07,210.40 740.20,210.46 740.34,202.29 740.47,205.16 740.61,211.50 740.74,206.00 740.88,209.82 741.01,212.35 741.15,199.51 741.28,210.99 741.42,204.36 741.55,197.22 741.69,217.77 741.82,207.85 741.96,204.83 742.09,210.31 742.23,213.34 742.36,211.90 742.50,221.42 742.63,212.27 742.77,204.37 742.90,213.56 743.04,207.49 743.17,209.86 743.31,197.13 743.44,208.21 743.58,205.26 743.71,205.16 743.85,199.18 743.98,207.79 744.12,209.46 744.25,214.35 744.39,217.20 744.52,200.10 744.66,208.71 744.79,198.35 744.93,216.86 745.06,208.36 745.20,212.27 745.33,216.65 745.47,216.26 745.60,204.65 745.74,218.28 745.87,212.01 746.01,208.78 746.14,206.51 746.28,216.54 746.41,208.23 746.55,215.66 746.68,208.47 746.82,204.61 746.95,208.75 747.09,216.15 747.22,214.10 747.36,217.41 747.49,221.67 747.63,199.72 747.76,216.85 747.90,209.52 748.03,210.44 748.17,216.70 748.30,212.47 748.44,213.52 748.57,201.45 748.71,215.62 748.84,217.96 748.98,202.68 749.11,208.31 749.25,203.55 749.38,201.97 749.52,206.15 749.65,213.84 749.79,201.61 749.92,212.52 750.06,206.10 750.19,211.82 750.33,217.60 750.46,194.71 750.60,211.06 750.73,208.55 750.87,215.69 751.00,225.99 751.14,213.28 751.27,209.53 751.41,209.91 751.54,213.86 751.68,216.76 751.81,205.12 751.95,202.60 752.08,215.55 752.22,206.68 752.35,216.76 752.49,205.76 752.50,189.00 752.62,217.58 752.76,199.13 752.89,194.58 753.03,200.59 753.16,219.97 753.30,202.19 753.43,195.22 753.57,210.63 753.70,214.48 753.84,216.79 753.97,212.72 754.11,205.47 754.24,192.30 754.38,198.53 754.51,198.31 754.65,215.52 754.78,205.72 754.92,193.31 755.05,196.68 755.19,207.07 755.32,213.16 755.46,205.15 755.59,203.57 755.73,192.30 755.86,200.16 756.00,207.08 756.13,207.26 756.27,198.94 756.40,219.72 756.54,200.39 756.67,213.27 756.81,215.40 756.94,208.90 757.08,201.42 757.21,194.80 757.35,210.01 757.48,197.27 757.62,221.92 757.75,208.03 757.89,205.49 758.02,214.95 758.16,197.12 758.29,206.35 758.43,223.34 758.56,205.89 758.70,211.87 758.83,202.32 758.97,215.07 759.10,202.65 759.24,213.84 759.37,211.10 759.51,192.30 759.64,217.75 759.78,192.98 759.91,200.07 760.05,214.16 760.18,202.44 760.32,215.10 760.45,206.50 760.59,214.02 760.72,201.41 760.86,214.90 760.99,212.12 761.13,211.98 761.26,208.08 761.40,210.02 761.53,215.80 761.67,212.38 761.80,218.01 761.94,216.42 762.07,206.76 762.21,210.00 762.34,211.00 762.48,207.37 762.61,203.25 762.75,208.98 762.88,206.46 763.02,203.79 763.15,204.74 763.29,204.84 763.42,209.58 763.56,201.62 763.69,211.79 763.83,210.45 763.96,208.85 764.10,206.64 764.23,206.11 764.37,220.30 764.50,205.72 764.64,216.73 764.77,215.14 764.91,204.06 765.04,206.26 765.18,203.70 765.31,208.81 765.45,212.46 765.58,205.04 765.72,206.85 765.85,208.02 765.99,203.88 766.12,220.82 766.26,225.27 766.39,198.84 766.53,211.73 766.66,208.32 766.80,201.32 766.93,214.89 767.07,220.16 767.20,219.61 767.34,212.05 767.47,221.99 767.61,201.74 767.74,206.85 767.80,187.50 767.88,226.82 768.01,207.78 768.15,226.22 768.28,201.50 768.42,215.93 768.55,223.61 768.69,215.72 768.82,203.48 768.96,216.58 769.09,200.01 769.23,212.55 769.36,205.80 769.50,192.44 769.63,213.66 769.77,207.69 769.90,207.14 770.04,217.07 770.17,200.36 770.31,222.07 770.44,190.30 770.50,190.00 770.58,221.99 770.71,220.82 770.85,210.11 770.98,212.48 771.12,214.16 771.25,201.18 771.39,204.68 771.52,193.52 771.66,213.31 771.79,221.76 771.93,216.06 772.06,203.86 772.20,209.62 772.33,218.66 772.47,213.45 772.60,208.49 772.74,208.82 772.87,207.01 773.01,214.23 773.14,204.54 773.28,216.10 773.41,212.91 773.55,215.26 773.68,209.33 773.82,206.12 773.95,207.47 774.09,210.37 774.22,205.68 774.36,208.82 774.49,212.48 774.63,209.43 774.76,213.74 774.90,200.71 775.03,205.34 775.17,213.70 775.30,211.19 775.44,214.15 775.57,205.62 775.71,208.20 775.84,204.44 775.98,214.43 776.11,217.83 776.25,219.71 776.38,207.92 776.52,210.19 776.65,219.37 776.79,202.28 776.92,201.35 777.06,198.88 777.19,207.58 777.33,201.01 777.46,209.97 777.60,203.53 777.73,216.94 777.87,204.98 778.00,200.97 778.14,208.61 778.27,208.98 778.41,211.81 778.54,216.33 778.68,214.60 778.81,209.03 778.95,210.14 779.08,205.45 779.22,210.37 779.35,216.33 779.49,210.41 779.62,209.58 779.76,214.15 779.89,213.62 780.03,205.59 780.16,209.39 780.30,210.42 780.43,202.71 780.57,202.09 780.70,205.64 780.84,216.21 780.97,206.96 781.11,211.42 781.24,202.47 781.38,218.56 781.51,204.15 781.65,219.47 781.78,223.00 781.92,204.20 782.05,208.68 782.19,211.57 782.32,199.79 782.46,209.67 782.59,201.69 782.73,227.20 782.86,209.24 783.00,207.48 783.13,218.03 783.27,214.54 783.40,224.48 783.54,211.11 783.67,201.11 783.81,202.52 783.94,202.34 784.08,205.02 784.21,198.57 784.35,190.80 784.48,211.94 784.50,191.00 784.62,221.10 784.75,212.46 784.89,208.99 785.02,204.80 785.16,217.38 785.29,224.39 785.43,216.96 785.56,216.14 785.70,208.87 785.83,203.80 785.97,209.54 786.10,206.70 786.24,217.72 786.37,216.92 786.51,204.76 786.64,200.34 786.78,214.76 786.91,217.42 787.05,195.88 787.18,223.79 787.32,225.30 787.45,218.09 787.59,215.72 787.72,202.80 787.86,221.87 787.99,207.19 788.13,222.78 788.26,221.30 788.40,201.52 788.50,229.00 788.53,208.21 788.67,197.32 788.80,205.58 788.94,217.97 789.07,210.90 789.21,215.26 789.34,204.87 789.48,203.77 789.61,210.26 789.75,223.44" fill="none" stroke="#006400" stroke-width="0.5" stroke-linejoin="round"/>
<rect x="506.7" y="179.4" width="283.7" height="53.5" fill="none" stroke="#000" stroke-width="1.5"/>
<g stroke="#333" stroke-width="0.9">
<line x1="509.90" y1="178.7" x2="509.90" y2="174.4"/>
<line x1="509.90" y1="233.6" x2="509.90" y2="237.9"/>
<line x1="533.63" y1="178.7" x2="533.63" y2="174.4"/>
<line x1="533.63" y1="233.6" x2="533.63" y2="237.9"/>
<line x1="557.36" y1="178.7" x2="557.36" y2="174.4"/>
<line x1="557.36" y1="233.6" x2="557.36" y2="237.9"/>
<line x1="581.09" y1="178.7" x2="581.09" y2="174.4"/>
<line x1="581.09" y1="233.6" x2="581.09" y2="237.9"/>
<line x1="604.82" y1="178.7" x2="604.82" y2="174.4"/>
<line x1="604.82" y1="233.6" x2="604.82" y2="237.9"/>
<line x1="628.55" y1="178.7" x2="628.55" y2="174.4"/>
<line x1="628.55" y1="233.6" x2="628.55" y2="237.9"/>
<line x1="652.28" y1="178.7" x2="652.28" y2="174.4"/>
<line x1="652.28" y1="233.6" x2="652.28" y2="237.9"/>
<line x1="676.01" y1="178.7" x2="676.01" y2="174.4"/>
<line x1="676.01" y1="233.6" x2="676.01" y2="237.9"/>
<line x1="699.74" y1="178.7" x2="699.74" y2="174.4"/>
<line x1="699.74" y1="233.6" x2="699.74" y2="237.9"/>
<line x1="723.47" y1="178.7" x2="723.47" y2="174.4"/>
<line x1="723.47" y1="233.6" x2="723.47" y2="237.9"/>
<line x1="747.20" y1="178.7" x2="747.20" y2="174.4"/>
<line x1="747.20" y1="233.6" x2="747.20" y2="237.9"/>
<line x1="770.93" y1="178.7" x2="770.93" y2="174.4"/>
<line x1="770.93" y1="233.6" x2="770.93" y2="237.9"/>
</g>
<text class="s" x="510.00" y="250.4" font-size="10" letter-spacing="0.2" text-anchor="middle" style="fill:#0a0a0a">55</text>
<text class="s" x="533.73" y="250.4" font-size="10" letter-spacing="0.2" text-anchor="middle" style="fill:#0a0a0a">00</text>
<text class="s" x="557.46" y="250.4" font-size="10" letter-spacing="0.2" text-anchor="middle" style="fill:#0a0a0a">05</text>
<text class="s" x="581.19" y="250.4" font-size="10" letter-spacing="0.2" text-anchor="middle" style="fill:#0a0a0a">10</text>
<text class="s" x="604.92" y="250.4" font-size="10" letter-spacing="0.2" text-anchor="middle" style="fill:#0a0a0a">15</text>
<text class="s" x="628.65" y="250.4" font-size="10" letter-spacing="0.2" text-anchor="middle" style="fill:#0a0a0a">20</text>
<text class="s" x="652.38" y="250.4" font-size="10" letter-spacing="0.2" text-anchor="middle" style="fill:#0a0a0a">25</text>
<text class="s" x="676.11" y="250.4" font-size="10" letter-spacing="0.2" text-anchor="middle" style="fill:#0a0a0a">30</text>
<text class="s" x="699.84" y="250.4" font-size="10" letter-spacing="0.2" text-anchor="middle" style="fill:#0a0a0a">35</text>
<text class="s" x="723.57" y="250.4" font-size="10" letter-spacing="0.2" text-anchor="middle" style="fill:#0a0a0a">40</text>
<text class="s" x="747.30" y="250.4" font-size="10" letter-spacing="0.2" text-anchor="middle" style="fill:#0a0a0a">45</text>
<text class="s" x="771.03" y="250.4" font-size="10" letter-spacing="0.2" text-anchor="middle" style="fill:#0a0a0a">50</text>
<text class="s" x="799.4" y="190.8" font-size="10" font-weight="bold" style="fill:#0000ff">La Palma, Osa</text>
<text class="s" x="799.4" y="214.1" font-size="10">Acel. Max. 0.7</text>
<text class="s" x="799.4" y="231.7" font-size="10">Int JMA: 1</text>
<polyline points="507.60,291.07 507.73,290.29 507.87,289.21 508.00,289.68 508.14,291.70 508.27,289.89 508.41,290.87 508.54,289.96 508.68,290.76 508.81,289.75 508.95,290.44 509.08,291.47 509.22,290.28 509.35,290.22 509.49,290.29 509.62,289.66 509.76,289.57 509.89,289.59 510.03,290.37 510.16,290.07 510.30,289.50 510.43,288.50 510.57,290.32 510.70,290.31 510.84,289.40 510.97,289.00 511.11,289.92 511.24,291.65 511.38,290.37 511.51,290.95 511.65,291.03 511.78,289.94 511.92,289.62 512.05,290.20 512.19,288.80 512.32,289.23 512.46,291.46 512.59,290.17 512.73,290.59 512.86,289.81 513.00,288.51 513.13,289.88 513.27,288.76 513.40,288.64 513.54,291.52 513.67,291.11 513.81,291.21 513.94,289.97 514.08,290.23 514.21,289.74 514.35,290.58 514.48,290.03 514.62,289.83 514.75,290.12 514.89,289.83 515.02,288.63 515.16,290.10 515.29,289.84 515.43,290.29 515.56,290.17 515.70,290.34 515.83,290.45 515.97,291.70 516.10,290.86 516.24,288.83 516.37,290.28 516.51,290.81 516.64,290.01 516.78,289.39 516.91,289.83 517.05,288.63 517.18,289.57 517.32,290.72 517.45,289.54 517.59,290.29 517.72,289.59 517.86,289.34 517.99,291.22 518.13,290.72 518.26,289.79 518.40,291.15 518.53,289.45 518.67,291.01 518.80,290.42 518.94,290.09 519.07,290.44 519.21,291.70 519.34,288.78 519.48,290.27 519.61,289.92 519.75,289.14 519.88,290.24 520.02,290.18 520.15,289.92 520.29,290.14 520.42,290.82 520.56,289.67 520.69,288.55 520.83,290.52 520.96,289.06 521.10,290.34 521.23,288.54 521.37,289.90 521.50,289.08 521.64,288.96 521.77,289.91 521.91,289.98 522.04,290.40 522.18,291.06 522.31,288.60 522.45,291.72 522.58,288.03 522.72,290.72 522.85,291.35 522.99,289.61 523.12,287.32 523.26,289.17 523.39,288.48 523.53,292.29 523.66,291.57 523.80,291.55 523.93,290.61 524.07,289.95 524.20,288.75 524.34,292.04 524.47,289.66 524.61,290.51 524.74,289.88 524.88,292.17 525.01,290.16 525.15,289.60 525.28,289.39 525.42,287.49 525.55,290.36 525.69,291.30 525.82,289.38 525.96,289.58 526.09,290.62 526.23,290.51 526.36,290.63 526.50,292.25 526.63,292.17 526.77,292.52 526.90,290.09 527.04,289.23 527.17,289.52 527.31,290.78 527.44,289.60 527.58,288.77 527.71,289.50 527.85,288.49 527.98,290.11 528.12,287.71 528.25,290.76 528.39,291.57 528.52,290.88 528.66,288.67 528.79,288.56 528.93,290.00 529.06,289.25 529.20,291.83 529.33,289.87 529.47,288.83 529.60,289.48 529.74,289.87 529.87,290.70 530.01,288.26 530.14,289.65 530.28,290.76 530.41,289.42 530.55,289.62 530.68,290.28 530.82,289.85 530.95,291.08 531.09,290.48 531.22,291.02 531.36,288.21 531.49,289.79 531.63,291.56 531.76,289.63 531.90,287.91 532.03,290.55 532.17,289.40 532.30,290.39 532.44,289.03 532.57,289.19 532.71,291.19 532.84,290.03 532.98,288.28 533.11,291.74 533.25,289.07 533.38,290.22 533.52,288.13 533.65,290.38 533.79,289.89 533.92,289.37 534.06,288.02 534.19,290.48 534.33,289.70 534.46,290.88 534.60,292.15 534.73,288.78 534.87,289.73 535.00,291.58 535.14,289.40 535.27,291.33 535.41,291.57 535.54,290.57 535.68,292.02 535.81,289.54 535.95,288.12 536.08,288.28 536.22,288.62 536.35,290.04 536.49,290.33 536.62,291.28 536.76,289.81 536.89,289.59 537.03,289.73 537.16,289.52 537.30,290.07 537.43,291.21 537.57,288.40 537.70,290.47 537.84,290.96 537.97,289.43 538.11,291.11 538.24,288.89 538.38,290.55 538.51,289.40 538.65,291.89 538.78,289.47 538.92,290.64 539.05,290.33 539.19,291.43 539.32,290.08 539.46,290.66 539.59,290.90 539.73,289.83 539.86,290.21 540.00,288.51 540.13,290.75 540.27,290.12 540.40,290.69 540.54,289.64 540.67,290.54 540.81,291.15 540.94,290.64 541.08,289.42 541.21,289.61 541.35,290.62 541.48,289.97 541.62,289.02 541.75,290.90 541.89,289.69 542.02,289.15 542.16,288.96 542.29,289.78 542.43,289.87 542.56,289.66 542.70,291.12 542.83,290.86 542.97,289.60 543.10,291.66 543.24,290.62 543.37,289.27 543.51,290.21 543.64,291.34 543.78,291.37 543.91,289.60 544.05,291.44 544.18,289.58 544.32,289.82 544.45,289.68 544.59,289.67 544.72,291.61 544.86,289.78 544.99,289.89 545.13,289.39 545.26,289.29 545.40,290.75 545.53,290.75 545.67,289.66 545.80,291.01 545.94,288.88 546.07,291.24 546.21,290.22 546.34,289.71 546.48,288.63 546.61,290.70 546.75,290.16 546.88,290.64 547.02,288.64 547.15,290.53 547.29,291.30 547.42,291.26 547.56,290.89 547.69,289.64 547.83,290.26 547.96,291.17 548.10,291.07 548.23,290.80 548.37,289.52 548.50,289.17 548.64,291.33 548.77,289.96 548.91,290.59 549.04,290.11 549.18,289.18 549.31,290.57 549.45,289.62 549.58,289.82 549.72,290.58 549.85,289.36 549.99,291.50 550.12,290.00 550.26,291.19 550.39,290.03 550.53,290.39 550.66,288.92 550.80,290.26 550.93,289.36 551.07,290.98 551.20,290.35 551.34,289.80 551.47,290.75 551.61,290.43 551.74,289.88 551.88,289.86 552.01,290.02 552.15,290.24 552.28,291.09 552.42,289.46 552.55,289.44 552.69,290.76 552.82,289.94 552.96,290.23 553.09,290.29 553.23,288.83 553.36,290.45 553.50,289.79 553.63,290.17 553.77,290.95 553.90,291.42 554.04,288.78 554.17,289.27 554.31,289.77 554.44,289.83 554.58,289.16 554.71,289.33 554.85,290.05 554.98,289.80 555.12,289.45 555.25,291.39 555.39,291.38 555.52,290.43 555.66,289.46 555.79,290.78 555.93,289.90 556.06,289.69 556.20,290.60 556.33,290.07 556.47,290.66 556.60,289.82 556.74,290.36 556.87,290.86 557.01,290.93 557.14,290.77 557.28,290.33 557.41,290.35 557.55,290.23 557.68,289.20 557.82,290.86 557.95,290.54 558.09,289.23 558.22,289.86 558.36,289.75 558.49,289.64 558.63,290.97 558.76,289.39 558.90,290.40 559.03,289.91 559.17,288.88 559.30,290.62 559.44,290.10 559.57,289.94 559.71,290.37 559.84,289.55 559.98,290.21 560.11,290.00 560.25,289.55 560.38,290.55 560.52,289.14 560.65,290.00 560.79,290.29 560.92,289.50 561.06,289.85 561.19,289.20 561.33,290.90 561.46,289.88 561.60,290.54 561.73,291.04 561.87,289.76 562.00,289.10 562.14,289.89 562.27,290.28 562.41,290.05 562.54,290.33 562.68,289.91 562.81,290.31 562.95,290.73 563.08,289.31 563.22,289.41 563.35,289.75 563.49,289.58 563.62,290.94 563.76,289.95 563.89,290.52 564.03,289.23 564.16,290.50 564.30,289.31 564.43,290.01 564.57,289.88 564.70,289.42 564.84,290.08 564.97,289.96 565.11,290.17 565.24,290.25 565.38,290.59 565.51,289.65 565.65,290.98 565.78,290.19 565.92,289.49 566.05,290.65 566.19,290.60 566.32,289.84 566.46,290.99 566.59,289.84 566.73,289.91 566.86,291.46 567.00,290.55 567.13,289.37 567.27,289.92 567.40,290.66 567.54,290.49 567.67,291.12 567.81,290.52 567.94,289.96 568.08,290.52 568.21,290.29 568.35,288.71 568.48,289.01 568.62,290.05 568.75,290.52 568.89,290.89 569.02,289.81 569.16,290.25 569.29,289.80 569.43,290.22 569.56,290.84 569.70,289.40 569.83,289.64 569.97,291.38 570.10,290.06 570.24,290.30 570.37,290.97 570.51,289.92 570.64,291.55 570.78,290.70 570.91,289.79 571.05,291.28 571.18,291.56 571.32,288.97 571.45,290.43 571.59,288.63 571.72,288.77 571.86,289.56 571.99,288.70 572.13,290.99 572.26,290.48 572.40,290.18 572.53,290.23 572.67,291.26 572.80,289.63 572.94,289.84 573.07,289.58 573.21,289.14 573.34,290.60 573.48,289.38 573.61,289.01 573.75,289.38 573.88,289.28 574.02,288.67 574.15,290.42 574.29,289.91 574.42,290.08 574.56,290.06 574.69,288.92 574.83,290.30 574.96,287.76 575.10,288.32 575.23,289.95 575.37,291.07 575.50,291.80 575.64,291.19 575.77,288.97 575.91,291.14 576.04,291.59 576.18,287.67 576.31,293.30 576.45,292.17 576.58,293.30 576.72,291.15 576.85,292.22 576.99,293.30 577.12,288.04 577.26,288.15 577.39,291.15 577.53,291.26 577.66,288.54 577.80,291.02 577.93,288.84 578.07,290.46 578.20,290.78 578.34,288.24 578.47,291.94 578.61,291.75 578.74,289.51 578.88,289.39 579.01,290.43 579.15,290.39 579.28,289.00 579.42,289.97 579.55,289.13 579.69,290.50 579.82,289.43 579.96,289.47 580.09,290.60 580.23,290.32 580.36,290.50 580.50,291.19 580.63,290.45 580.77,289.26 580.90,289.83 581.04,289.20 581.17,289.70 581.31,290.46 581.44,290.34 581.58,289.56 581.71,289.03 581.85,290.20 581.98,290.47 582.12,290.74 582.25,289.77 582.39,289.30 582.52,289.63 582.66,290.33 582.79,290.18 582.93,290.29 583.06,290.83 583.20,289.04 583.33,290.26 583.47,289.09 583.60,290.20 583.74,290.24 583.87,290.91 584.01,289.78 584.14,289.29 584.28,289.93 584.41,290.21 584.55,289.91 584.68,289.85 584.82,290.13 584.95,290.57 585.09,289.61 585.22,289.66 585.36,289.84 585.49,290.10 585.63,291.14 585.76,290.36 585.90,289.97 586.03,291.13 586.17,290.64 586.30,289.76 586.44,289.73 586.57,289.67 586.71,290.55 586.84,289.88 586.98,290.38 587.11,289.65 587.25,290.05 587.38,290.59 587.52,289.72 587.65,289.34 587.79,289.80 587.92,290.06 588.06,290.08 588.19,290.32 588.33,289.81 588.46,290.04 588.60,289.82 588.73,290.77 588.87,289.41 589.00,290.80 589.14,290.19 589.27,290.19 589.41,289.83 589.54,289.19 589.68,290.69 589.81,290.80 589.95,289.79 590.08,289.30 590.22,290.14 590.35,289.80 590.49,290.24 590.62,290.27 590.76,290.47 590.89,289.50 591.03,289.50 591.16,289.46 591.30,291.02 591.43,290.87 591.57,289.81 591.70,289.92 591.84,290.02 591.97,289.56 592.11,289.49 592.24,290.96 592.38,290.05 592.51,289.57 592.65,290.67 592.78,290.50 592.92,290.33 593.05,290.00 593.19,289.94 593.32,290.82 593.46,289.66 593.59,290.06 593.73,289.84 593.86,291.06 594.00,290.56 594.13,290.08 594.27,289.87 594.40,290.45 594.54,289.18 594.67,290.68 594.81,290.30 594.94,290.19 595.08,289.34 595.21,289.72 595.35,289.20 595.48,289.95 595.62,290.37 595.75,290.02 595.89,290.04 596.02,290.63 596.16,289.90 596.29,289.32 596.43,290.92 596.56,290.61 596.70,290.67 596.83,290.52 596.97,289.76 597.10,290.58 597.24,289.98 597.37,290.72 597.51,290.32 597.64,290.41 597.78,289.55 597.91,290.08 598.05,289.31 598.18,290.46 598.32,289.66 598.45,289.73 598.59,290.88 598.72,289.76 598.86,290.78 598.99,290.29 599.13,289.76 599.26,290.00 599.40,289.95 599.53,290.18 599.67,290.09 599.80,289.45 599.94,289.85 600.07,290.14 600.21,290.65 600.34,289.87 600.48,290.42 600.61,289.48 600.75,290.68 600.88,289.96 601.02,289.97 601.15,291.00 601.29,289.28 601.42,290.20 601.56,291.16 601.69,289.56 601.83,290.20 601.96,291.20 602.10,289.99 602.23,290.10 602.37,289.78 602.50,289.85 602.64,289.85 602.77,290.12 602.91,289.44 603.04,290.41 603.18,290.05 603.31,289.90 603.45,290.00 603.58,290.04 603.72,290.05 603.85,289.87 603.99,290.88 604.12,289.92 604.26,290.38 604.39,290.31 604.53,288.75 604.66,290.34 604.80,289.45 604.93,289.38 605.07,289.91 605.20,289.52 605.34,290.28 605.47,289.60 605.61,289.27 605.74,289.75 605.88,289.15 606.01,291.02 606.15,291.09 606.28,290.32 606.42,289.59 606.55,290.27 606.69,290.74 606.82,290.86 606.96,290.31 607.09,290.54 607.23,290.62 607.36,289.98 607.50,289.77 607.63,290.63 607.77,288.59 607.90,290.72 608.04,288.62 608.17,290.11 608.31,291.31 608.44,289.65 608.58,290.56 608.71,290.59 608.85,289.95 608.98,291.32 609.12,290.40 609.25,290.65 609.39,290.54 609.52,289.33 609.66,288.97 609.79,290.57 609.93,289.95 610.06,289.10 610.20,290.05 610.33,290.20 610.47,289.33 610.60,290.77 610.74,290.78 610.87,290.64 611.01,290.11 611.14,290.12 611.28,290.74 611.41,289.62 611.55,290.17 611.68,290.04 611.82,290.47 611.95,289.09 612.09,290.46 612.22,290.04 612.36,290.08 612.49,290.72 612.63,289.41 612.76,290.62 612.90,290.62 613.03,290.87 613.17,290.64 613.30,290.00 613.44,290.42 613.57,289.61 613.71,289.80 613.84,289.66 613.98,290.71 614.11,290.57 614.25,289.69 614.38,290.85 614.52,289.62 614.65,290.98 614.79,290.69 614.92,291.26 615.06,291.27 615.19,289.85 615.33,288.92 615.46,290.26 615.60,289.77 615.73,291.22 615.87,289.48 616.00,289.69 616.14,289.72 616.27,290.95 616.41,290.27 616.54,290.71 616.68,290.54 616.81,289.95 616.95,289.96 617.08,289.73 617.22,289.44 617.35,289.53 617.49,289.49 617.62,290.47 617.76,290.68 617.89,291.43 618.03,290.48 618.16,290.98 618.30,289.58 618.43,289.95 618.57,288.89 618.70,289.95 618.84,290.33 618.97,290.94 619.11,291.19 619.24,290.79 619.38,290.53 619.51,290.24 619.65,290.12 619.78,289.44 619.92,290.11 620.05,290.37 620.19,290.30 620.32,290.31 620.46,289.30 620.59,289.33 620.73,289.31 620.86,290.69 621.00,289.90 621.13,289.36 621.27,291.42 621.40,289.83 621.54,289.39 621.67,288.83 621.81,290.16 621.94,289.48 622.08,290.35 622.21,287.96 622.35,291.02 622.48,288.39 622.62,288.34 622.75,288.41 622.89,287.90 623.02,291.34 623.16,289.85 623.29,287.87 623.43,288.10 623.56,290.56 623.70,288.65 623.83,290.18 623.97,289.38 624.10,292.31 624.24,288.08 624.37,289.58 624.51,291.79 624.64,291.81 624.78,289.85 624.91,287.14 625.05,291.44 625.18,291.63 625.32,288.89 625.45,289.55 625.59,293.60 625.72,288.09 625.86,291.97 625.99,290.12 626.13,289.60 626.26,290.19 626.40,289.65 626.53,290.77 626.67,290.70 626.80,289.85 626.94,291.70 627.07,289.13 627.21,290.81 627.34,290.06 627.48,291.61 627.61,289.75 627.75,289.59 627.88,291.95 628.02,289.07 628.15,287.70 628.29,291.30 628.42,290.60 628.56,289.59 628.69,288.73 628.83,289.46 628.96,288.91 629.10,289.33 629.23,290.52 629.37,290.16 629.50,289.39 629.64,288.48 629.77,291.41 629.91,291.72 630.04,289.64 630.18,290.27 630.31,289.55 630.45,290.55 630.58,288.70 630.72,289.18 630.85,290.11 630.99,290.64 631.12,290.79 631.26,289.53 631.39,291.10 631.53,289.94 631.66,290.74 631.80,291.77 631.93,291.15 632.07,290.16 632.20,290.23 632.34,289.73 632.47,290.41 632.61,290.65 632.74,290.75 632.88,290.21 633.01,288.60 633.15,290.88 633.28,289.90 633.42,290.48 633.55,290.33 633.69,289.93 633.82,289.74 633.96,289.76 634.09,289.08 634.23,290.13 634.36,289.69 634.50,289.55 634.63,289.95 634.77,290.56 634.90,289.84 635.04,290.13 635.17,290.29 635.31,288.58 635.44,290.09 635.58,288.73 635.71,291.62 635.85,290.67 635.98,289.31 636.12,290.05 636.25,288.72 636.39,290.99 636.52,289.68 636.66,290.52 636.79,289.17 636.93,291.18 637.06,290.50 637.20,289.91 637.33,290.07 637.47,290.05 637.60,289.74 637.74,290.76 637.87,290.23 638.01,289.33 638.14,290.38 638.28,288.91 638.41,290.71 638.55,290.58 638.68,289.34 638.82,291.56 638.95,291.39 639.09,290.54 639.22,289.49 639.36,288.81 639.49,289.98 639.63,291.46 639.76,289.09 639.90,288.23 640.03,291.37 640.17,289.52 640.30,289.95 640.44,291.40 640.57,289.81 640.71,289.65 640.84,289.25 640.98,291.48 641.11,289.80 641.25,288.77 641.38,290.12 641.52,289.42 641.65,290.70 641.79,291.16 641.92,290.16 642.06,289.73 642.19,289.05 642.33,289.77 642.46,290.33 642.60,290.94 642.73,291.73 642.87,290.74 643.00,288.15 643.14,289.30 643.27,291.71 643.41,291.12 643.54,288.71 643.68,289.24 643.81,291.42 643.95,289.04 644.08,291.06 644.22,289.31 644.35,288.12 644.49,292.09 644.62,288.87 644.76,291.31 644.89,290.38 645.03,292.00 645.16,288.04 645.30,290.09 645.43,289.80 645.57,290.96 645.70,289.23 645.84,291.37 645.97,289.11 646.11,289.67 646.24,289.11 646.38,287.58 646.51,291.51 646.65,289.43 646.78,290.85 646.92,288.79 647.05,289.42 647.19,291.82 647.32,290.33 647.46,293.00 647.59,289.33 647.73,290.07 647.86,288.88 648.00,292.60 648.13,289.33 648.27,290.22 648.40,290.92 648.54,288.69 648.67,291.11 648.81,291.51 648.94,290.09 649.08,290.25 649.21,289.13 649.35,291.64 649.48,288.11 649.62,290.28 649.75,289.31 649.89,291.51 650.02,289.52 650.16,288.49 650.29,289.25 650.43,293.41 650.56,291.25 650.70,289.65 650.83,290.70 650.97,291.85 651.10,291.07 651.24,288.88 651.37,290.08 651.51,288.76 651.64,289.56 651.78,292.71 651.91,290.91 652.05,288.04 652.18,290.56 652.32,291.25 652.45,290.89 652.59,287.50 652.72,291.50 652.86,290.21 652.99,292.20 653.13,292.84 653.26,291.32 653.40,288.04 653.53,286.63 653.67,291.90 653.80,290.49 653.94,291.90 654.07,291.10 654.21,292.10 654.34,290.86 654.48,289.34 654.61,289.40 654.75,293.37 654.88,288.78 655.02,294.27 655.15,288.66 655.29,286.69 655.42,292.76 655.56,296.10 655.69,293.35 655.83,285.52 655.96,288.30 656.10,287.35 656.23,290.32 656.37,286.38 656.50,293.81 656.60,276.50 656.64,286.32 656.77,293.38 656.91,292.02 657.00,301.00 657.04,291.91 657.18,290.90 657.31,292.68 657.45,289.74 657.50,279.00 657.58,289.67 657.72,289.17 657.85,290.57 657.99,286.23 658.12,287.98 658.26,288.99 658.39,293.04 658.53,296.04 658.66,294.69 658.80,292.30 658.93,292.85 659.07,284.28 659.20,288.73 659.34,287.44 659.47,289.98 659.61,295.19 659.74,286.51 659.88,294.78 660.01,292.17 660.15,289.69 660.28,290.03 660.42,286.88 660.55,289.60 660.69,288.51 660.82,290.23 660.96,290.43 661.09,292.40 661.23,291.90 661.36,287.12 661.50,288.83 661.63,287.21 661.77,291.17 661.90,290.68 662.04,288.66 662.17,291.21 662.31,289.70 662.44,289.19 662.58,287.19 662.71,287.20 662.85,289.27 662.98,289.09 663.12,289.57 663.25,290.44 663.39,289.50 663.52,288.13 663.66,290.13 663.79,289.53 663.93,291.22 664.06,289.61 664.20,290.74 664.33,291.44 664.47,289.66 664.60,290.66 664.74,289.56 664.87,289.42 665.01,289.85 665.14,289.53 665.28,291.88 665.41,292.85 665.55,290.37 665.68,289.19 665.82,290.27 665.95,287.38 666.09,287.54 666.22,289.97 666.36,289.70 666.49,289.74 666.63,288.67 666.76,290.67 666.90,290.29 667.03,289.66 667.17,288.25 667.30,290.58 667.44,289.70 667.57,290.90 667.71,289.14 667.84,289.19 667.98,290.71 668.11,289.90 668.25,291.01 668.38,290.29 668.52,287.55 668.65,286.91 668.79,288.30 668.92,291.26 669.06,289.38 669.19,289.18 669.33,292.92 669.46,291.17 669.60,288.93 669.73,287.31 669.87,291.33 670.00,292.14 670.14,287.90 670.27,288.42 670.41,289.59 670.54,288.19 670.68,290.02 670.81,290.54 670.95,290.25 671.08,287.97 671.22,290.70 671.35,288.52 671.49,288.01 671.62,290.97 671.76,290.64 671.89,289.90 672.03,290.64 672.16,290.54 672.30,290.73 672.43,288.24 672.57,292.86 672.70,290.01 672.84,288.67 672.97,289.99 673.11,289.82 673.24,290.91 673.38,289.90 673.51,289.73 673.65,290.36 673.78,290.00 673.92,290.84 674.05,289.86 674.19,289.68 674.32,289.83 674.46,290.64 674.59,289.42 674.73,289.90 674.86,290.45 675.00,290.26 675.13,289.75 675.27,290.78 675.40,290.76 675.54,289.44 675.67,290.26 675.81,289.99 675.94,290.70 676.08,289.60 676.21,290.24 676.35,289.22 676.48,289.68 676.62,289.48 676.75,290.08 676.89,289.99 677.02,289.81 677.16,290.00 677.29,289.22 677.43,289.80 677.56,289.38 677.70,290.34 677.83,289.44 677.97,290.38 678.10,289.94 678.24,289.78 678.37,290.38 678.51,290.28 678.64,289.66 678.78,290.58 678.91,289.98 679.05,289.80 679.18,289.24 679.32,290.30 679.45,290.24 679.59,289.96 679.72,289.70 679.86,289.70 679.99,290.04 680.13,289.97 680.26,290.02 680.40,290.15 680.53,290.20 680.67,290.31 680.80,290.12 680.94,290.12 681.07,290.39 681.21,290.40 681.34,290.37 681.48,290.61 681.61,290.32 681.75,290.32 681.88,289.89 682.02,290.12 682.15,290.58 682.29,290.09 682.42,290.46 682.56,290.57 682.69,290.23 682.83,290.59 682.96,290.61 683.10,289.39 683.23,290.84 683.37,289.70 683.50,289.50 683.64,290.76 683.77,289.55 683.91,289.39 684.04,289.91 684.18,290.12 684.31,289.60 684.45,290.93 684.58,290.74 684.72,290.12 684.85,290.53 684.99,290.37 685.12,290.12 685.26,290.28 685.39,289.61 685.53,289.80 685.66,290.17 685.80,290.25 685.93,289.58 686.07,289.29 686.20,290.02 686.34,289.29 686.47,289.94 686.61,290.65 686.74,290.41 686.88,290.28 687.01,290.14 687.15,290.17 687.28,289.68 687.42,289.86 687.55,289.68 687.69,289.86 687.82,290.90 687.96,289.70 688.09,289.87 688.23,290.10 688.36,289.63 688.50,290.20 688.63,289.86 688.77,290.27 688.90,289.32 689.04,290.19 689.17,290.31 689.31,289.60 689.44,290.06 689.58,289.92 689.71,290.15 689.85,290.59 689.98,289.40 690.12,289.73 690.25,290.18 690.39,290.17 690.52,289.74 690.66,290.07 690.79,289.85 690.93,290.05 691.06,289.32 691.20,290.42 691.33,289.32 691.47,290.47 691.60,290.10 691.74,290.62 691.87,290.25 692.01,290.33 692.14,290.19 692.28,289.55 692.41,290.06 692.55,289.96 692.68,290.46 692.82,290.11 692.95,290.06 693.09,290.40 693.22,289.88 693.36,289.95 693.49,290.01 693.63,290.24 693.76,289.81 693.90,289.86 694.03,290.40 694.17,289.70 694.30,290.17 694.44,289.63 694.57,289.92 694.71,289.62 694.84,290.82 694.98,290.25 695.11,290.67 695.25,290.02 695.38,289.81 695.52,289.45 695.65,290.01 695.79,289.58 695.92,290.20 696.06,289.72 696.19,290.14 696.33,290.50 696.46,290.05 696.60,290.11 696.73,290.02 696.87,290.24 697.00,290.84 697.14,290.44 697.27,290.10 697.41,290.54 697.54,290.48 697.68,290.18 697.81,290.60 697.95,290.32 698.08,290.77 698.22,289.98 698.35,290.47 698.49,289.82 698.62,289.82 698.76,290.21 698.89,290.12 699.03,290.16 699.16,289.68 699.30,290.36 699.43,289.99 699.57,290.28 699.70,290.25 699.84,290.81 699.97,290.03 700.11,290.05 700.24,290.30 700.38,290.21 700.51,289.99 700.65,289.85 700.78,289.91 700.92,290.39 701.05,290.06 701.19,289.51 701.32,289.44 701.46,290.36 701.59,290.37 701.73,289.95 701.86,290.05 702.00,290.44 702.13,289.95 702.27,289.41 702.40,287.49 702.54,288.14 702.67,290.54 702.81,289.58 702.94,289.88 703.08,289.15 703.21,291.33 703.35,291.71 703.48,290.75 703.62,291.26 703.75,292.05 703.89,292.31 704.02,287.51 704.16,293.02 704.29,287.83 704.43,295.60 704.56,290.54 704.70,291.34 704.83,294.44 704.97,293.54 705.10,288.13 705.24,288.82 705.37,285.47 705.51,287.59 705.64,289.64 705.78,287.06 705.91,290.45 706.05,287.85 706.18,289.03 706.32,293.20 706.45,289.56 706.59,289.10 706.72,289.78 706.86,295.07 706.99,290.35 707.13,291.97 707.26,289.62 707.40,290.06 707.53,290.27 707.67,289.88 707.80,288.83 707.94,289.79 708.07,290.81 708.21,292.38 708.34,289.98 708.48,287.75 708.61,293.11 708.75,293.39 708.88,287.96 709.02,287.11 709.15,289.58 709.29,295.60 709.42,288.84 709.56,287.48 709.69,292.40 709.83,288.19 709.96,288.53 710.10,287.16 710.23,288.40 710.37,288.56 710.50,285.86 710.64,290.71 710.77,295.60 710.91,288.65 711.04,292.08 711.18,286.45 711.31,289.91 711.45,288.45 711.58,289.69 711.72,292.70 711.85,291.62 711.99,289.19 712.12,291.67 712.26,290.20 712.39,291.30 712.53,289.73 712.66,290.61 712.80,289.15 712.93,290.71 713.07,294.74 713.20,290.22 713.34,291.15 713.47,288.65 713.61,290.24 713.74,288.23 713.88,287.83 714.01,291.46 714.15,291.06 714.28,291.28 714.42,287.88 714.55,288.20 714.69,293.77 714.82,288.89 714.96,289.36 715.09,286.00 715.23,290.15 715.36,290.87 715.50,290.86 715.63,284.60 715.77,290.16 715.90,292.90 716.04,284.60 716.17,290.63 716.31,290.52 716.44,288.22 716.58,291.41 716.71,292.82 716.85,291.02 716.98,287.38 717.12,285.86 717.25,288.25 717.39,292.03 717.52,286.79 717.66,287.41 717.79,290.24 717.93,287.59 718.06,289.39 718.20,289.30 718.33,291.55 718.47,289.67 718.60,290.01 718.74,293.85 718.87,294.62 719.01,289.40 719.14,290.67 719.28,291.40 719.41,288.81 719.55,291.85 719.68,292.03 719.82,292.74 719.95,286.94 720.09,291.79 720.22,287.84 720.36,288.99 720.49,292.75 720.63,295.60 720.76,289.45 720.90,288.78 721.03,292.01 721.17,290.04 721.30,290.74 721.44,288.63 721.57,291.22 721.71,288.66 721.84,286.29 721.98,290.45 722.11,288.30 722.25,291.35 722.38,295.48 722.52,289.18 722.65,290.98 722.79,291.35 722.92,291.95 723.06,287.20 723.19,292.12 723.33,287.82 723.46,287.15 723.60,286.25 723.73,293.14 723.87,293.63 724.00,292.37 724.14,289.27 724.27,294.49 724.41,284.60 724.54,294.98 724.68,289.19 724.81,291.12 724.95,290.94 725.08,284.60 725.22,291.08 725.35,292.01 725.49,290.75 725.62,289.87 725.76,289.09 725.89,286.50 726.03,289.55 726.16,287.33 726.30,294.85 726.43,291.97 726.57,287.63 726.70,287.52 726.84,288.72 726.97,289.30 727.11,290.87 727.24,292.08 727.38,289.90 727.51,290.46 727.65,292.99 727.78,290.18 727.92,294.83 728.05,292.19 728.19,287.15 728.32,288.47 728.46,289.62 728.59,291.04 728.73,291.15 728.86,293.27 729.00,284.60 729.13,287.90 729.27,286.96 729.40,289.77 729.54,290.40 729.67,292.40 729.81,292.28 729.94,292.03 730.08,291.61 730.21,290.95 730.35,292.30 730.48,288.51 730.62,292.74 730.75,291.45 730.89,289.57 731.02,289.18 731.16,292.07 731.29,289.77 731.43,286.66 731.56,293.29 731.70,285.65 731.83,294.79 731.97,291.42 732.10,294.80 732.24,288.56 732.37,287.90 732.51,289.86 732.64,286.84 732.78,285.92 732.91,291.47 733.05,293.57 733.18,290.59 733.32,290.38 733.45,291.03 733.59,294.57 733.72,288.47 733.86,287.60 733.99,289.38 734.13,287.25 734.26,284.60 734.40,292.71 734.53,289.33 734.67,295.13 734.80,289.41 734.94,289.54 735.07,291.81 735.21,292.87 735.34,291.30 735.48,287.04 735.61,284.60 735.75,288.86 735.88,294.54 736.02,284.98 736.15,294.99 736.29,284.69 736.42,289.71 736.56,293.22 736.69,285.06 736.83,289.94 736.96,291.86 737.10,294.34 737.23,295.60 737.37,291.31 737.50,288.09 737.64,288.26 737.77,287.53 737.91,290.59 738.04,288.10 738.18,288.13 738.31,287.13 738.45,288.48 738.58,292.55 738.72,288.42 738.85,288.86 738.99,288.84 739.12,285.71 739.26,291.49 739.39,290.59 739.53,294.32 739.66,289.78 739.80,290.90 739.93,287.28 740.07,289.77 740.20,291.61 740.34,289.55 740.47,292.58 740.61,289.91 740.74,291.63 740.88,290.77 741.01,288.56 741.15,287.87 741.28,290.48 741.42,288.28 741.55,291.31 741.69,287.80 741.82,284.60 741.96,290.24 742.09,288.11 742.23,287.18 742.36,285.33 742.50,289.72 742.63,287.79 742.77,293.40 742.90,290.97 743.04,295.33 743.17,290.31 743.31,287.70 743.44,287.16 743.58,289.64 743.71,292.42 743.85,292.00 743.98,288.11 744.12,292.41 744.25,285.37 744.39,290.52 744.52,290.91 744.66,289.94 744.79,291.40 744.93,292.69 745.06,295.60 745.20,290.88 745.33,285.75 745.47,294.79 745.60,286.36 745.74,285.25 745.87,291.20 746.01,290.58 746.14,292.50 746.28,294.75 746.41,288.66 746.55,290.40 746.68,290.32 746.82,286.36 746.95,293.25 747.09,288.57 747.22,290.23 747.36,295.34 747.49,293.77 747.63,289.95 747.76,289.22 747.90,284.60 748.03,291.53 748.17,293.34 748.30,292.50 748.44,292.59 748.57,290.79 748.71,294.21 748.84,291.60 748.98,288.59 749.11,292.49 749.25,284.60 749.38,290.56 749.52,292.65 749.65,290.64 749.79,292.11 749.92,291.20 750.06,293.58 750.19,291.23 750.33,289.14 750.46,291.51 750.60,289.67 750.73,290.59 750.87,292.53 751.00,292.61 751.14,293.54 751.27,285.81 751.41,289.03 751.54,295.11 751.68,292.64 751.81,295.60 751.95,294.36 752.08,288.79 752.22,287.93 752.35,284.60 752.49,290.70 752.62,287.65 752.76,289.30 752.89,292.12 753.03,289.07 753.16,290.17 753.30,288.25 753.43,285.88 753.57,289.74 753.70,287.34 753.84,290.06 753.97,292.29 754.11,284.27 754.24,289.86 754.38,292.63 754.51,284.78 754.65,290.02 754.78,297.95 754.92,292.88 755.05,292.08 755.19,290.84 755.32,292.70 755.46,285.03 755.59,284.74 755.73,290.04 755.86,285.17 756.00,294.77 756.13,283.49 756.27,293.31 756.40,292.94 756.54,294.87 756.67,295.17 756.81,289.70 756.94,297.13 757.08,289.84 757.21,294.44 757.35,283.60 757.48,295.99 757.62,285.92 757.75,293.79 757.89,286.98 758.02,281.30 758.16,298.92 758.29,284.67 758.43,292.64 758.56,298.96 758.70,289.53 758.83,297.04 758.97,295.78 759.10,289.03 759.24,290.77 759.37,289.68 759.51,286.64 759.64,285.90 759.78,292.26 759.91,289.13 760.05,293.68 760.18,289.98 760.32,293.77 760.45,283.42 760.59,291.73 760.72,278.45 760.86,300.33 760.99,300.94 761.13,303.48 761.26,289.37 761.40,289.37 761.53,298.55 761.67,278.98 761.80,294.78 761.94,299.94 762.07,282.82 762.21,309.10 762.34,279.31 762.48,279.17 762.50,304.00 762.61,281.79 762.75,290.42 762.88,290.03 763.00,261.50 763.02,287.66 763.15,296.01 763.29,285.40 763.42,306.75 763.50,311.60 763.56,279.36 763.69,294.39 763.83,282.38 763.96,279.28 764.00,268.00 764.10,290.57 764.23,290.84 764.37,289.53 764.50,288.65 764.64,289.87 764.77,271.10 764.91,292.35 765.04,284.58 765.18,282.29 765.31,290.23 765.45,296.97 765.58,300.09 765.72,288.28 765.85,287.22 765.99,291.36 766.12,287.83 766.26,293.69 766.39,300.59 766.53,285.95 766.66,294.39 766.80,292.88 766.93,290.02 767.07,292.13 767.20,290.51 767.34,291.01 767.47,294.84 767.61,289.77 767.74,299.39 767.88,287.57 768.01,293.77 768.15,300.60 768.28,290.82 768.42,284.45 768.55,282.24 768.69,284.69 768.82,288.44 768.96,289.52 769.09,289.76 769.23,297.78 769.36,288.40 769.50,289.46 769.63,293.16 769.77,296.20 769.90,291.27 770.04,292.97 770.17,281.83 770.31,288.25 770.44,290.34 770.58,298.24 770.71,295.74 770.85,291.00 770.98,294.55 771.12,292.62 771.25,294.01 771.39,291.66 771.52,300.18 771.66,293.52 771.79,282.34 771.93,286.61 772.06,290.60 772.20,295.88 772.33,289.87 772.47,277.02 772.60,278.73 772.74,290.51 772.87,300.22 773.01,293.94 773.14,294.51 773.28,285.47 773.41,290.46 773.55,289.84 773.68,274.33 773.82,295.19 773.95,282.72 774.09,291.16 774.22,297.64 774.36,299.81 774.49,284.24 774.63,287.53 774.76,292.40 774.90,287.36 775.03,283.79 775.17,296.57 775.30,289.55 775.44,283.63 775.57,296.25 775.71,285.67 775.84,296.49 775.98,300.15 776.11,286.25 776.25,292.94 776.38,279.85 776.52,292.70 776.65,297.40 776.79,284.00 776.92,290.36 777.06,286.95 777.19,289.65 777.33,297.53 777.46,282.21 777.60,297.53 777.73,298.09 777.87,291.01 778.00,290.17 778.14,283.51 778.27,289.66 778.41,284.77 778.54,283.22 778.68,287.51 778.81,295.86 778.95,292.62 779.08,286.69 779.22,288.70 779.35,295.28 779.49,283.25 779.62,294.84 779.76,289.67 779.89,284.93 780.03,295.66 780.16,297.15 780.30,289.81 780.43,288.29 780.57,298.54 780.70,291.92 780.84,282.01 780.97,284.66 781.11,287.05 781.24,287.06 781.38,278.93 781.51,291.22 781.65,288.16 781.78,305.10 781.92,280.69 782.05,275.10 782.19,302.02 782.30,271.00 782.32,294.81 782.46,289.02 782.59,297.50 782.60,309.00 782.73,297.53 782.86,275.10 783.00,286.63 783.13,282.97 783.27,281.49 783.40,290.45 783.54,281.91 783.67,290.29 783.81,293.83 783.94,286.79 784.08,297.73 784.21,286.60 784.35,293.60 784.48,285.22 784.62,286.05 784.75,292.73 784.89,291.86 785.02,280.60 785.16,289.36 785.29,293.90 785.43,288.86 785.56,296.46 785.70,290.71 785.83,288.06 785.97,288.78 786.10,280.60 786.24,290.51 786.37,292.94 786.51,290.31 786.64,291.75 786.78,288.75 786.91,287.34 787.05,289.25 787.18,281.01 787.32,289.78 787.45,287.48 787.59,294.98 787.72,284.92 787.86,294.12 787.99,290.28 788.13,286.72 788.26,283.34 788.40,293.43 788.53,285.35 788.67,289.86 788.80,290.40 788.94,293.50 789.07,287.04 789.21,295.26 789.34,290.10 789.48,291.61 789.61,292.81 789.75,286.91" fill="none" stroke="#006400" stroke-width="0.5" stroke-linejoin="round"/>
<rect x="506.7" y="258.7" width="283.7" height="53.5" fill="none" stroke="#000" stroke-width="1.5"/>
<g stroke="#333" stroke-width="0.9">
<line x1="525.10" y1="258" x2="525.10" y2="253.7"/>
<line x1="525.10" y1="312.9" x2="525.10" y2="317.2"/>
<line x1="548.83" y1="258" x2="548.83" y2="253.7"/>
<line x1="548.83" y1="312.9" x2="548.83" y2="317.2"/>
<line x1="572.56" y1="258" x2="572.56" y2="253.7"/>
<line x1="572.56" y1="312.9" x2="572.56" y2="317.2"/>
<line x1="596.29" y1="258" x2="596.29" y2="253.7"/>
<line x1="596.29" y1="312.9" x2="596.29" y2="317.2"/>
<line x1="620.02" y1="258" x2="620.02" y2="253.7"/>
<line x1="620.02" y1="312.9" x2="620.02" y2="317.2"/>
<line x1="643.75" y1="258" x2="643.75" y2="253.7"/>
<line x1="643.75" y1="312.9" x2="643.75" y2="317.2"/>
<line x1="667.48" y1="258" x2="667.48" y2="253.7"/>
<line x1="667.48" y1="312.9" x2="667.48" y2="317.2"/>
<line x1="691.21" y1="258" x2="691.21" y2="253.7"/>
<line x1="691.21" y1="312.9" x2="691.21" y2="317.2"/>
<line x1="714.94" y1="258" x2="714.94" y2="253.7"/>
<line x1="714.94" y1="312.9" x2="714.94" y2="317.2"/>
<line x1="738.67" y1="258" x2="738.67" y2="253.7"/>
<line x1="738.67" y1="312.9" x2="738.67" y2="317.2"/>
<line x1="762.40" y1="258" x2="762.40" y2="253.7"/>
<line x1="762.40" y1="312.9" x2="762.40" y2="317.2"/>
<line x1="786.13" y1="258" x2="786.13" y2="253.7"/>
<line x1="786.13" y1="312.9" x2="786.13" y2="317.2"/>
</g>
<text class="s" x="525.20" y="329.7" font-size="10" letter-spacing="0.2" text-anchor="middle" style="fill:#0a0a0a">55</text>
<text class="s" x="548.93" y="329.7" font-size="10" letter-spacing="0.2" text-anchor="middle" style="fill:#0a0a0a">00</text>
<text class="s" x="572.66" y="329.7" font-size="10" letter-spacing="0.2" text-anchor="middle" style="fill:#0a0a0a">05</text>
<text class="s" x="596.39" y="329.7" font-size="10" letter-spacing="0.2" text-anchor="middle" style="fill:#0a0a0a">10</text>
<text class="s" x="620.12" y="329.7" font-size="10" letter-spacing="0.2" text-anchor="middle" style="fill:#0a0a0a">15</text>
<text class="s" x="643.85" y="329.7" font-size="10" letter-spacing="0.2" text-anchor="middle" style="fill:#0a0a0a">20</text>
<text class="s" x="667.58" y="329.7" font-size="10" letter-spacing="0.2" text-anchor="middle" style="fill:#0a0a0a">25</text>
<text class="s" x="691.31" y="329.7" font-size="10" letter-spacing="0.2" text-anchor="middle" style="fill:#0a0a0a">30</text>
<text class="s" x="715.04" y="329.7" font-size="10" letter-spacing="0.2" text-anchor="middle" style="fill:#0a0a0a">35</text>
<text class="s" x="738.77" y="329.7" font-size="10" letter-spacing="0.2" text-anchor="middle" style="fill:#0a0a0a">40</text>
<text class="s" x="762.50" y="329.7" font-size="10" letter-spacing="0.2" text-anchor="middle" style="fill:#0a0a0a">45</text>
<text class="s" x="786.23" y="329.7" font-size="10" letter-spacing="0.2" text-anchor="middle" style="fill:#0a0a0a">50</text>
<text class="s" x="799.4" y="267" font-size="10" font-weight="bold" style="fill:#0000ff">Hosp. Quepos</text>
<text class="s" x="799.4" y="289.8" font-size="10">Acel. Max. 0.6</text>
<text class="s" x="799.4" y="307.8" font-size="10">Int JMA: 1</text>
<polyline points="507.60,360.46 507.73,357.11 507.87,368.05 508.00,365.18 508.14,367.39 508.27,368.55 508.41,369.28 508.54,366.39 508.68,365.13 508.81,362.14 508.95,365.93 509.08,363.91 509.22,369.06 509.35,375.90 509.49,364.23 509.62,358.48 509.76,365.70 509.89,363.05 510.03,359.10 510.16,356.90 510.30,363.19 510.43,361.17 510.57,372.30 510.70,371.21 510.84,356.90 510.97,365.67 511.11,357.31 511.24,373.63 511.38,369.95 511.51,369.53 511.65,362.70 511.78,365.55 511.92,365.92 512.05,364.07 512.19,366.77 512.32,363.93 512.46,371.25 512.59,372.20 512.73,367.11 512.86,371.36 513.00,365.28 513.13,372.05 513.27,361.87 513.40,366.47 513.54,364.93 513.67,368.93 513.81,361.50 513.94,365.18 514.08,364.06 514.21,365.18 514.35,370.00 514.48,370.91 514.62,365.55 514.75,358.33 514.89,373.10 515.02,361.35 515.16,362.82 515.29,370.50 515.43,360.23 515.56,368.57 515.70,361.94 515.83,365.79 515.97,359.09 516.10,363.42 516.20,383.00 516.24,370.94 516.37,375.22 516.51,366.16 516.64,362.00 516.78,367.70 516.91,359.31 517.05,368.39 517.18,363.71 517.32,365.54 517.45,364.39 517.59,371.11 517.72,366.73 517.86,370.49 517.99,369.26 518.13,375.68 518.26,367.59 518.40,365.45 518.53,369.86 518.67,374.03 518.80,360.87 518.94,361.87 519.07,370.53 519.21,372.65 519.34,367.37 519.48,357.52 519.61,369.15 519.75,367.31 519.88,367.46 520.02,371.59 520.15,365.97 520.29,370.65 520.42,375.90 520.56,362.31 520.69,363.88 520.83,366.20 520.96,362.38 521.10,367.28 521.23,371.75 521.37,369.55 521.50,371.99 521.64,369.41 521.77,364.16 521.91,369.04 522.04,357.36 522.18,374.63 522.31,363.24 522.45,362.01 522.58,366.47 522.72,369.91 522.85,365.85 522.99,366.47 523.12,366.39 523.26,368.92 523.39,371.79 523.53,359.56 523.66,362.80 523.80,364.56 523.93,361.07 524.07,369.76 524.20,367.74 524.34,364.22 524.47,368.46 524.61,368.42 524.74,370.48 524.88,368.80 525.01,370.57 525.15,372.33 525.28,375.90 525.30,384.00 525.42,359.38 525.55,364.44 525.69,374.08 525.82,375.90 525.96,362.20 526.09,367.45 526.23,368.35 526.36,370.34 526.50,362.80 526.63,357.95 526.77,365.24 526.90,370.33 527.04,364.22 527.17,366.78 527.31,368.49 527.44,368.37 527.58,361.38 527.71,369.74 527.85,361.15 527.98,364.75 528.12,371.88 528.25,368.23 528.39,369.94 528.52,365.54 528.66,364.02 528.79,367.15 528.93,365.95 529.06,372.60 529.20,362.66 529.33,366.74 529.47,365.89 529.60,370.70 529.74,370.19 529.87,371.14 530.01,365.48 530.14,363.61 530.28,364.10 530.41,362.52 530.55,361.47 530.68,368.35 530.82,365.83 530.95,370.22 531.09,363.77 531.22,363.12 531.36,367.13 531.49,371.09 531.63,366.09 531.76,369.94 531.90,365.72 532.03,362.83 532.17,368.51 532.30,362.65 532.44,370.45 532.57,363.50 532.71,365.27 532.84,363.69 532.98,371.44 533.00,352.00 533.11,365.38 533.25,371.07 533.38,368.56 533.52,369.10 533.65,367.72 533.79,372.57 533.92,368.70 534.06,370.25 534.19,368.81 534.33,367.39 534.46,366.85 534.60,366.41 534.73,364.22 534.87,365.65 535.00,360.23 535.14,366.80 535.27,362.62 535.41,372.27 535.54,367.26 535.68,371.08 535.81,368.05 535.95,369.67 536.08,364.77 536.22,365.36 536.35,366.09 536.49,364.76 536.62,369.00 536.76,365.45 536.89,362.38 537.03,365.80 537.16,365.48 537.30,369.74 537.43,367.28 537.57,366.84 537.70,367.78 537.84,366.44 537.97,367.29 538.11,364.88 538.24,369.33 538.38,367.69 538.51,367.13 538.65,372.55 538.78,371.63 538.92,366.07 539.05,368.32 539.19,369.27 539.32,368.28 539.46,368.61 539.59,367.59 539.73,365.13 539.86,365.88 540.00,363.42 540.13,364.40 540.27,364.86 540.40,363.69 540.54,364.56 540.67,370.65 540.81,360.60 540.94,367.26 541.08,370.42 541.21,370.22 541.35,370.73 541.48,361.46 541.62,369.51 541.75,366.07 541.89,371.68 542.02,365.19 542.16,365.37 542.29,366.23 542.43,360.26 542.56,364.99 542.70,367.23 542.83,369.60 542.97,366.71 543.10,366.37 543.24,368.21 543.37,365.60 543.51,368.52 543.64,370.61 543.78,366.89 543.91,369.95 544.05,372.53 544.18,368.56 544.32,367.45 544.45,368.81 544.59,366.46 544.72,365.76 544.86,368.02 544.99,364.01 545.13,367.79 545.26,365.54 545.40,369.84 545.53,367.13 545.67,369.22 545.80,366.63 545.94,368.96 546.07,367.18 546.21,364.74 546.34,366.07 546.48,363.69 546.61,362.57 546.75,362.00 546.88,367.50 547.02,367.09 547.15,362.69 547.29,366.49 547.42,368.91 547.56,365.20 547.69,363.92 547.83,365.67 547.96,365.40 548.10,363.01 548.23,367.16 548.37,360.29 548.50,366.88 548.64,367.48 548.77,367.43 548.91,364.74 549.04,360.34 549.18,363.73 549.31,361.49 549.45,369.68 549.58,369.73 549.72,366.54 549.85,366.73 549.99,365.57 550.12,371.51 550.26,362.27 550.39,365.24 550.53,367.61 550.66,366.50 550.80,363.02 550.93,366.79 551.07,365.43 551.20,364.84 551.34,363.60 551.47,368.68 551.61,366.62 551.74,368.76 551.88,367.38 552.01,368.55 552.15,364.88 552.28,368.08 552.42,369.88 552.55,362.83 552.69,367.64 552.82,365.47 552.96,365.13 553.09,365.57 553.23,366.58 553.36,365.70 553.50,361.75 553.50,356.00 553.63,370.83 553.77,367.81 553.90,360.31 554.04,363.64 554.17,364.31 554.31,364.29 554.44,370.60 554.58,369.58 554.71,366.60 554.85,361.25 554.98,366.21 555.12,361.72 555.25,365.33 555.39,366.16 555.52,364.19 555.66,369.61 555.79,367.28 555.93,365.63 556.06,368.51 556.20,368.92 556.33,363.86 556.47,369.13 556.60,364.37 556.74,364.65 556.87,364.05 557.01,361.44 557.14,371.35 557.28,366.34 557.41,365.83 557.55,362.22 557.68,360.83 557.82,364.48 557.95,365.41 558.09,368.43 558.22,368.94 558.36,368.81 558.49,368.96 558.63,360.33 558.76,366.58 558.90,362.55 559.03,369.65 559.17,365.19 559.30,367.85 559.44,367.40 559.57,365.42 559.71,371.12 559.84,363.84 559.98,371.39 560.11,364.25 560.25,369.90 560.38,366.85 560.52,360.34 560.65,366.24 560.79,363.79 560.92,369.50 561.06,364.12 561.19,369.10 561.33,363.64 561.46,365.97 561.60,364.16 561.73,368.10 561.87,364.38 562.00,366.38 562.14,363.38 562.27,364.19 562.41,367.57 562.54,367.43 562.68,366.22 562.81,365.74 562.95,366.39 563.08,361.68 563.22,364.29 563.35,367.36 563.49,367.84 563.62,369.66 563.76,365.56 563.89,365.16 564.03,368.24 564.16,368.65 564.30,367.91 564.43,365.00 564.57,371.16 564.70,365.33 564.84,371.06 564.97,366.06 565.11,366.76 565.24,363.04 565.38,362.98 565.51,372.35 565.65,370.55 565.78,372.30 565.92,372.42 566.05,367.10 566.19,365.55 566.32,365.12 566.46,363.54 566.59,367.41 566.73,365.20 566.86,366.96 567.00,366.06 567.13,365.64 567.27,364.51 567.40,368.82 567.54,368.18 567.67,360.37 567.81,369.05 567.94,368.12 568.08,372.43 568.21,369.71 568.35,367.46 568.48,368.09 568.62,369.75 568.75,364.73 568.89,363.18 569.02,364.05 569.16,370.64 569.29,362.22 569.43,368.08 569.56,365.05 569.70,366.80 569.83,368.65 569.97,370.47 570.10,363.37 570.24,364.44 570.37,362.96 570.51,370.57 570.64,365.43 570.78,366.76 570.91,369.85 571.05,362.61 571.18,364.20 571.32,366.95 571.45,366.38 571.59,372.41 571.72,364.04 571.86,371.03 571.99,368.84 572.13,362.88 572.26,361.61 572.40,367.78 572.53,367.48 572.67,367.76 572.80,364.47 572.94,368.99 573.07,372.40 573.21,365.63 573.34,365.73 573.48,369.20 573.61,371.56 573.75,362.55 573.88,372.40 574.02,365.00 574.15,364.51 574.29,367.08 574.42,363.56 574.56,370.59 574.69,370.79 574.83,364.78 574.96,364.71 575.10,365.38 575.23,360.56 575.37,366.69 575.50,365.62 575.64,365.81 575.77,369.61 575.91,362.66 576.04,363.13 576.18,367.12 576.31,361.45 576.45,366.78 576.58,363.61 576.72,360.37 576.85,369.58 576.99,369.28 577.12,368.45 577.26,367.23 577.39,362.88 577.53,360.92 577.66,368.70 577.80,359.69 577.93,362.83 578.07,369.74 578.20,366.77 578.34,368.71 578.47,364.94 578.61,368.49 578.74,372.70 578.88,366.69 579.01,364.80 579.15,373.90 579.28,363.89 579.42,367.59 579.55,368.77 579.69,365.24 579.82,372.30 579.96,370.09 580.09,364.69 580.23,372.96 580.36,368.20 580.50,359.83 580.63,369.37 580.77,373.44 580.90,369.86 581.04,365.56 581.17,365.56 581.31,359.88 581.44,363.12 581.58,369.06 581.71,366.39 581.85,358.90 581.98,367.40 582.12,367.38 582.25,363.33 582.39,373.90 582.52,367.68 582.66,365.65 582.79,373.90 582.93,371.73 583.06,365.19 583.20,365.00 583.33,373.07 583.47,363.82 583.60,369.18 583.74,371.27 583.87,372.27 584.01,364.78 584.14,364.67 584.28,365.21 584.41,371.69 584.55,363.48 584.68,367.91 584.82,369.63 584.95,360.12 585.09,364.94 585.22,367.83 585.36,362.04 585.49,366.28 585.63,366.10 585.76,373.79 585.90,362.65 585.90,380.50 586.03,372.09 586.17,364.09 586.30,365.46 586.44,372.22 586.57,364.59 586.71,360.23 586.84,373.24 586.98,362.26 587.11,372.20 587.25,372.52 587.38,362.05 587.52,364.86 587.65,365.87 587.79,363.64 587.92,366.25 588.06,364.02 588.19,363.84 588.33,367.33 588.46,361.62 588.60,365.97 588.73,371.99 588.87,367.83 589.00,363.69 589.14,370.93 589.27,360.82 589.41,370.90 589.54,367.41 589.68,362.46 589.81,363.35 589.95,367.56 590.08,363.18 590.22,362.88 590.35,371.30 590.49,368.44 590.62,368.46 590.76,366.20 590.89,366.94 591.03,362.02 591.16,367.30 591.30,369.66 591.43,370.94 591.57,367.95 591.70,362.80 591.84,367.35 591.97,368.21 592.11,365.71 592.24,363.61 592.38,364.38 592.51,363.90 592.65,365.43 592.78,362.74 592.92,367.89 593.05,365.71 593.19,368.38 593.32,366.16 593.46,366.76 593.59,365.20 593.73,365.22 593.86,366.82 594.00,367.94 594.13,364.44 594.27,363.39 594.40,366.24 594.54,365.56 594.67,366.94 594.81,363.95 594.94,369.40 595.08,364.16 595.21,368.76 595.35,367.27 595.48,365.37 595.62,361.31 595.75,361.98 595.89,368.22 596.02,364.09 596.16,364.22 596.29,366.60 596.43,367.05 596.56,363.43 596.70,365.49 596.83,367.00 596.97,364.27 597.10,366.47 597.24,366.62 597.37,365.29 597.51,368.70 597.64,369.44 597.78,368.86 597.91,367.85 598.05,365.93 598.18,364.00 598.32,367.76 598.45,367.99 598.59,367.44 598.72,362.74 598.86,367.18 598.99,364.81 599.13,366.42 599.26,365.93 599.40,369.87 599.53,367.73 599.67,366.00 599.80,366.85 599.94,369.19 600.07,371.31 600.21,363.62 600.34,361.68 600.48,364.46 600.61,363.12 600.75,371.06 600.88,366.55 601.02,369.02 601.15,362.01 601.29,370.31 601.42,364.67 601.56,364.69 601.69,366.91 601.83,363.39 601.96,365.93 602.10,366.16 602.23,363.20 602.37,362.30 602.50,366.32 602.64,364.62 602.77,368.06 602.91,362.82 603.04,364.79 603.18,367.30 603.31,371.81 603.45,365.22 603.58,366.44 603.72,366.85 603.85,362.54 603.99,368.61 604.12,367.01 604.26,371.41 604.39,361.43 604.53,365.53 604.66,361.01 604.80,367.78 604.93,361.01 605.07,371.36 605.20,366.60 605.34,362.15 605.47,369.25 605.61,362.19 605.74,366.30 605.88,364.41 606.01,366.68 606.15,364.74 606.28,364.92 606.42,364.56 606.55,362.77 606.69,366.92 606.82,369.20 606.96,364.07 607.09,371.64 607.23,367.29 607.36,370.77 607.50,362.72 607.63,366.70 607.77,362.41 607.90,362.50 608.04,362.23 608.17,368.65 608.31,367.14 608.44,363.87 608.58,366.02 608.71,363.26 608.85,368.58 608.98,371.25 609.12,368.38 609.25,368.67 609.39,366.02 609.52,361.57 609.66,361.33 609.79,368.43 609.93,363.19 610.06,365.42 610.20,368.18 610.33,371.72 610.47,365.24 610.60,364.79 610.74,363.18 610.87,362.47 611.01,361.35 611.14,367.01 611.28,364.23 611.41,371.71 611.55,366.47 611.68,366.26 611.82,366.33 611.95,371.44 612.09,365.66 612.22,363.24 612.36,366.33 612.49,367.27 612.63,369.64 612.76,369.54 612.90,367.99 613.03,369.85 613.17,367.27 613.30,366.24 613.44,366.65 613.57,367.08 613.71,366.77 613.84,366.58 613.98,367.78 614.11,365.35 614.25,368.51 614.38,366.78 614.52,366.71 614.65,366.80 614.79,368.77 614.92,367.19 615.06,367.55 615.19,367.08 615.33,361.14 615.46,369.86 615.60,365.03 615.73,367.10 615.87,367.34 616.00,363.78 616.14,369.64 616.27,365.21 616.41,365.63 616.54,368.30 616.68,368.03 616.81,366.50 616.95,365.63 617.08,365.58 617.22,365.06 617.35,370.49 617.49,371.63 617.62,370.90 617.76,369.05 617.89,366.45 618.03,365.83 618.16,361.75 618.30,365.87 618.43,364.91 618.57,367.38 618.70,367.82 618.84,371.61 618.97,367.05 619.11,370.40 619.24,369.04 619.38,367.36 619.51,365.43 619.65,363.14 619.78,365.90 619.92,368.85 620.05,366.93 620.19,363.89 620.32,364.32 620.46,367.87 620.59,365.86 620.73,360.00 620.86,369.25 621.00,369.17 621.13,365.01 621.27,360.65 621.40,366.43 621.54,367.00 621.67,364.67 621.81,368.08 621.94,359.14 622.08,368.20 622.21,369.71 622.35,371.59 622.48,366.67 622.62,366.11 622.75,373.12 622.89,368.69 623.02,357.90 623.16,362.56 623.20,377.00 623.29,369.99 623.43,363.97 623.56,369.25 623.70,357.90 623.83,368.76 623.97,357.90 624.10,366.30 624.24,369.71 624.37,370.50 624.51,368.98 624.64,373.25 624.78,372.67 624.91,365.40 625.05,360.22 625.18,366.47 625.32,372.29 625.45,363.40 625.59,368.03 625.72,369.55 625.86,368.19 625.99,365.19 626.13,368.42 626.26,364.68 626.40,367.39 626.53,371.00 626.67,362.42 626.80,366.29 626.94,366.39 627.07,366.79 627.21,364.78 627.34,368.05 627.48,366.31 627.61,362.64 627.75,364.71 627.88,365.71 628.02,364.73 628.15,364.55 628.29,367.90 628.42,366.76 628.56,367.73 628.69,367.35 628.83,366.18 628.96,364.24 629.10,368.91 629.23,365.96 629.37,366.50 629.50,366.20 629.64,362.14 629.77,366.94 629.91,364.07 630.04,369.50 630.18,363.35 630.31,368.61 630.45,363.89 630.58,370.98 630.72,364.22 630.85,368.80 630.99,366.95 631.12,364.69 631.26,365.14 631.39,361.83 631.53,368.58 631.66,368.73 631.80,363.77 631.93,365.37 632.07,363.37 632.20,368.63 632.34,366.90 632.47,364.77 632.61,365.56 632.74,367.05 632.88,366.39 633.01,369.75 633.15,369.06 633.28,365.59 633.42,365.21 633.55,366.86 633.69,369.43 633.82,365.48 633.96,366.61 634.09,367.89 634.23,368.94 634.36,367.59 634.50,369.99 634.63,366.43 634.77,366.63 634.90,364.16 635.04,367.00 635.17,361.84 635.31,367.57 635.44,364.87 635.58,366.71 635.71,369.04 635.85,370.09 635.98,366.01 636.12,369.14 636.25,365.91 636.39,369.74 636.52,366.95 636.66,364.37 636.79,368.52 636.93,366.11 637.06,366.02 637.20,365.18 637.33,368.13 637.47,366.50 637.60,368.41 637.74,365.48 637.87,369.88 638.01,362.57 638.14,369.80 638.28,367.63 638.41,366.71 638.55,364.77 638.68,365.15 638.82,364.99 638.95,367.47 639.09,364.56 639.22,367.04 639.36,364.96 639.49,367.45 639.63,370.93 639.76,370.82 639.90,367.93 640.03,366.58 640.17,365.97 640.30,362.43 640.44,367.49 640.57,366.11 640.71,368.10 640.84,363.80 640.98,365.78 641.11,365.16 641.25,366.62 641.38,365.84 641.52,363.03 641.65,368.69 641.79,367.38 641.92,363.15 642.06,366.66 642.19,366.96 642.33,366.09 642.46,363.47 642.60,366.00 642.73,367.93 642.87,368.69 643.00,365.77 643.14,367.29 643.27,369.03 643.41,363.91 643.54,363.72 643.68,361.88 643.81,363.57 643.95,365.89 644.08,364.63 644.22,369.01 644.35,368.76 644.49,365.09 644.62,366.62 644.76,368.02 644.89,365.53 645.03,361.89 645.16,363.63 645.30,366.50 645.43,363.40 645.57,363.97 645.70,366.52 645.84,370.91 645.97,366.71 646.11,365.66 646.24,366.99 646.38,366.31 646.51,364.15 646.65,362.00 646.78,367.94 646.92,368.45 647.05,368.29 647.19,370.23 647.32,365.73 647.46,366.54 647.59,366.51 647.73,365.25 647.86,368.90 648.00,364.13 648.13,364.63 648.27,367.76 648.40,365.33 648.54,367.12 648.67,370.89 648.81,368.85 648.94,365.91 649.08,368.80 649.21,361.91 649.35,365.83 649.48,366.84 649.62,362.58 649.75,363.04 649.89,364.17 650.02,365.49 650.16,368.08 650.29,362.47 650.43,366.94 650.56,367.19 650.70,365.56 650.83,367.00 650.97,364.78 651.10,366.61 651.24,364.06 651.37,365.71 651.51,364.51 651.64,368.41 651.78,365.73 651.91,365.18 652.05,364.49 652.18,366.75 652.32,365.94 652.45,370.87 652.59,363.10 652.72,365.93 652.86,361.93 652.99,370.58 653.13,366.09 653.26,367.58 653.40,370.04 653.53,367.27 653.67,364.78 653.80,370.54 653.94,366.90 654.07,366.74 654.21,365.29 654.34,366.23 654.48,366.66 654.61,367.09 654.75,367.23 654.88,364.57 655.02,368.92 655.15,367.78 655.29,364.31 655.42,365.40 655.56,367.92 655.69,362.69 655.83,366.12 655.96,367.51 656.10,367.56 656.23,365.37 656.37,367.15 656.50,365.93 656.64,362.34 656.77,364.88 656.91,367.16 657.04,366.51 657.18,364.78 657.31,366.58 657.45,368.46 657.58,363.05 657.72,365.23 657.85,369.18 657.99,366.54 658.12,363.31 658.26,367.17 658.39,364.21 658.53,365.62 658.66,362.99 658.80,363.69 658.93,365.83 659.07,365.03 659.20,365.49 659.34,363.37 659.47,367.60 659.61,367.76 659.74,361.96 659.88,364.86 660.01,367.27 660.15,368.70 660.28,368.64 660.42,366.04 660.55,368.13 660.69,366.17 660.82,363.73 660.96,363.39 661.09,363.67 661.23,367.08 661.36,367.96 661.50,365.05 661.63,370.10 661.77,368.36 661.90,367.15 662.04,365.33 662.17,368.67 662.31,365.37 662.44,365.94 662.58,367.81 662.71,367.87 662.85,368.30 662.98,368.10 663.12,366.23 663.25,365.77 663.39,366.04 663.52,368.50 663.66,365.10 663.79,366.35 663.93,365.58 664.06,365.48 664.20,367.44 664.33,365.95 664.47,367.11 664.60,366.29 664.74,368.38 664.87,369.02 665.01,369.61 665.14,367.41 665.28,368.51 665.41,364.76 665.55,370.81 665.68,367.69 665.82,366.17 665.95,363.69 666.09,366.64 666.22,365.84 666.36,364.58 666.49,366.95 666.63,365.13 666.76,367.77 666.90,368.01 667.03,367.36 667.17,364.12 667.30,365.93 667.44,366.52 667.57,364.38 667.71,366.61 667.84,367.64 667.98,362.00 668.11,364.26 668.25,367.04 668.38,364.25 668.52,362.43 668.65,368.48 668.79,365.00 668.92,372.46 669.06,369.11 669.19,360.20 669.33,367.36 669.46,363.68 669.60,360.20 669.73,366.85 669.87,367.74 670.00,369.02 670.14,365.80 670.27,362.23 670.41,370.28 670.54,363.85 670.68,372.60 670.81,361.96 670.95,371.19 671.08,361.94 671.22,367.70 671.35,370.69 671.49,367.51 671.62,370.68 671.76,368.80 671.89,364.51 672.03,364.64 672.16,361.07 672.30,363.57 672.43,362.72 672.57,366.64 672.70,364.19 672.84,365.88 672.97,366.02 673.11,367.18 673.24,372.60 673.38,362.62 673.51,367.75 673.65,368.99 673.78,369.77 673.92,367.09 674.05,369.61 674.19,369.23 674.32,366.68 674.46,368.38 674.59,370.02 674.73,364.97 674.86,370.95 675.00,367.31 675.13,371.27 675.27,365.99 675.40,360.20 675.54,364.13 675.67,366.61 675.81,361.04 675.94,363.85 676.08,370.27 676.21,364.96 676.35,365.33 676.48,368.28 676.62,360.20 676.75,369.57 676.89,364.50 677.02,364.20 677.16,364.39 677.29,364.49 677.43,372.34 677.56,364.70 677.70,365.39 677.83,367.48 677.97,364.57 678.10,361.33 678.24,367.20 678.37,367.80 678.51,360.71 678.64,369.99 678.78,365.17 678.91,368.75 679.05,371.30 679.18,366.09 679.32,364.00 679.45,368.53 679.59,360.20 679.72,370.61 679.86,366.57 679.99,366.98 680.13,363.92 680.26,366.28 680.40,369.62 680.53,360.91 680.67,370.00 680.80,371.39 680.94,367.03 681.07,367.84 681.21,365.49 681.34,364.50 681.48,367.23 681.61,366.73 681.75,363.03 681.88,367.12 682.02,367.32 682.15,367.24 682.29,367.45 682.42,365.73 682.56,368.57 682.69,366.87 682.83,368.41 682.96,364.93 683.10,368.60 683.23,368.98 683.37,370.47 683.50,369.44 683.64,364.24 683.77,368.64 683.91,365.76 684.04,367.33 684.18,363.91 684.31,367.09 684.45,361.65 684.58,362.72 684.72,364.76 684.85,370.76 684.99,367.41 685.12,367.07 685.26,364.77 685.39,366.32 685.53,363.84 685.66,366.15 685.80,367.50 685.93,369.24 686.07,360.20 686.20,369.75 686.34,364.21 686.47,370.39 686.61,371.00 686.74,361.97 686.88,370.59 687.01,368.77 687.15,369.39 687.28,368.13 687.42,365.16 687.55,364.51 687.69,365.83 687.82,370.81 687.96,362.09 688.09,369.73 688.23,362.87 688.36,364.82 688.50,363.72 688.63,364.32 688.77,367.56 688.90,368.67 689.04,365.24 689.17,364.80 689.31,360.48 689.44,366.88 689.58,364.19 689.71,368.32 689.85,370.21 689.98,367.15 690.12,363.88 690.25,367.29 690.39,370.13 690.52,365.60 690.66,367.08 690.79,369.59 690.93,366.95 691.06,366.57 691.20,366.13 691.33,366.73 691.47,370.67 691.60,367.82 691.74,366.28 691.87,366.32 692.01,372.60 692.14,367.26 692.28,362.58 692.41,366.85 692.55,366.41 692.68,364.33 692.82,369.91 692.95,372.60 693.09,360.20 693.22,366.13 693.36,366.73 693.49,362.80 693.63,361.01 693.76,366.44 693.90,365.51 694.03,360.12 694.17,363.37 694.30,366.73 694.44,363.44 694.57,372.91 694.71,362.05 694.84,363.70 694.98,374.74 695.11,365.72 695.25,367.33 695.38,369.42 695.52,360.90 695.65,370.14 695.79,372.47 695.92,370.40 696.06,368.44 696.19,371.98 696.33,367.51 696.46,368.86 696.50,380.00 696.60,365.65 696.73,366.92 696.87,368.31 697.00,352.00 697.00,367.76 697.14,366.87 697.27,369.11 697.41,370.67 697.54,367.69 697.68,365.60 697.81,367.88 697.95,368.36 698.08,367.95 698.22,363.81 698.35,366.70 698.49,369.82 698.62,364.66 698.76,365.04 698.89,367.52 699.03,372.90 699.16,364.33 699.30,372.57 699.43,367.62 699.57,357.92 699.70,360.47 699.84,363.74 699.97,360.47 700.11,365.44 700.24,369.11 700.38,365.97 700.51,361.58 700.65,362.07 700.78,372.97 700.92,363.96 701.05,367.25 701.19,364.23 701.32,366.36 701.46,361.43 701.59,366.77 701.73,363.52 701.86,363.13 702.00,365.56 702.13,369.31 702.27,365.71 702.40,369.31 702.54,368.24 702.67,370.39 702.81,364.48 702.94,369.91 703.08,367.21 703.21,369.45 703.35,363.43 703.48,363.53 703.62,369.83 703.75,360.54 703.89,364.95 704.02,368.74 704.16,361.45 704.29,367.76 704.43,370.74 704.56,371.71 704.70,366.42 704.83,374.55 704.97,360.32 705.10,361.00 705.24,373.02 705.37,366.79 705.50,354.00 705.51,369.58 705.64,358.95 705.78,363.10 705.91,372.75 706.05,364.53 706.18,365.50 706.32,367.94 706.45,372.25 706.59,365.08 706.72,369.62 706.86,364.72 706.99,371.35 707.13,360.60 707.26,365.87 707.40,370.88 707.53,373.51 707.67,364.79 707.80,365.56 707.94,360.25 708.07,367.50 708.21,367.69 708.34,369.23 708.48,367.66 708.61,366.12 708.75,370.43 708.88,372.14 709.02,360.11 709.15,364.51 709.29,366.05 709.42,366.60 709.56,361.71 709.69,360.89 709.83,365.65 709.96,363.60 710.10,363.80 710.23,362.82 710.37,361.51 710.50,365.79 710.64,365.92 710.77,361.73 710.91,368.95 711.04,371.38 711.18,367.22 711.31,370.40 711.45,360.07 711.58,370.20 711.72,360.05 711.85,361.61 711.99,370.52 712.12,370.77 712.26,359.62 712.39,371.79 712.53,364.76 712.66,361.00 712.80,368.57 712.93,369.67 713.00,355.00 713.07,357.83 713.20,366.96 713.34,360.30 713.47,372.04 713.61,363.52 713.74,364.43 713.88,366.66 714.01,370.80 714.15,357.84 714.28,359.90 714.42,361.28 714.55,367.44 714.69,368.38 714.82,365.27 714.96,359.35 715.09,370.12 715.23,362.77 715.36,371.08 715.50,366.53 715.63,360.81 715.77,366.83 715.90,369.80 716.04,364.88 716.17,369.64 716.31,365.17 716.44,370.16 716.58,371.13 716.71,363.54 716.85,364.58 716.98,361.13 717.12,362.36 717.25,371.56 717.39,361.53 717.52,369.49 717.66,368.81 717.79,369.19 717.93,358.53 718.06,371.85 718.20,368.86 718.33,362.04 718.47,366.97 718.60,371.52 718.74,368.15 718.87,366.28 719.01,365.44 719.14,367.35 719.28,370.40 719.41,365.78 719.55,370.04 719.68,365.03 719.82,365.35 719.95,367.04 720.09,373.11 720.22,358.17 720.36,371.68 720.49,356.66 720.63,369.41 720.76,363.89 720.90,369.47 721.03,372.30 721.17,358.81 721.30,365.05 721.44,369.22 721.57,370.65 721.71,356.77 721.84,364.57 721.98,366.66 722.11,380.72 722.25,370.12 722.38,365.10 722.52,364.02 722.65,366.52 722.79,362.92 722.92,358.52 723.06,370.83 723.19,362.28 723.33,366.90 723.46,373.87 723.60,365.53 723.73,353.23 723.87,365.08 724.00,343.00 724.00,364.10 724.14,371.96 724.27,362.71 724.41,366.02 724.54,362.11 724.68,361.32 724.81,372.36 724.95,379.77 725.00,385.00 725.08,363.36 725.22,353.10 725.35,363.65 725.49,381.43 725.62,352.47 725.76,370.71 725.89,351.37 726.03,374.03 726.16,367.84 726.30,361.46 726.43,366.14 726.57,365.52 726.70,369.20 726.84,365.94 726.97,363.19 727.11,361.03 727.24,369.50 727.38,360.69 727.50,345.00 727.51,377.98 727.65,361.33 727.78,373.88 727.92,365.83 728.05,373.54 728.19,372.50 728.32,365.80 728.46,355.23 728.59,362.71 728.73,377.37 728.86,355.34 729.00,366.05 729.13,354.05 729.27,360.24 729.40,359.30 729.54,370.40 729.67,369.67 729.81,369.67 729.94,373.23 730.08,371.78 730.21,365.24 730.35,354.35 730.48,374.65 730.62,371.47 730.75,355.36 730.89,378.32 731.02,358.89 731.16,374.15 731.29,377.76 731.43,365.39 731.56,363.18 731.70,363.58 731.83,379.85 731.97,369.50 732.10,362.19 732.24,363.04 732.37,356.48 732.51,368.66 732.64,377.35 732.78,372.86 732.91,360.84 733.05,351.32 733.18,361.40 733.32,370.94 733.45,366.91 733.59,363.60 733.72,381.49 733.86,361.27 733.99,365.86 734.13,366.12 734.26,356.90 734.40,365.54 734.53,361.73 734.67,374.96 734.80,374.28 734.94,357.24 735.07,351.30 735.21,367.16 735.34,360.58 735.48,371.05 735.61,368.45 735.75,376.55 735.88,367.08 736.02,366.59 736.15,372.77 736.29,369.15 736.42,356.87 736.56,375.19 736.69,351.36 736.83,359.46 736.96,366.24 737.10,373.19 737.23,363.34 737.37,368.69 737.50,375.01 737.64,369.52 737.77,362.57 737.91,375.64 738.04,363.19 738.18,371.06 738.31,369.27 738.45,370.06 738.58,368.79 738.72,367.47 738.85,371.05 738.99,381.04 739.12,372.77 739.26,351.27 739.39,367.44 739.53,361.75 739.66,374.03 739.70,341.00 739.80,373.64 739.93,355.63 740.07,363.31 740.20,373.71 740.34,365.87 740.47,357.20 740.61,365.40 740.74,360.75 740.88,371.67 741.01,368.51 741.15,356.28 741.28,372.30 741.42,355.96 741.55,367.13 741.69,367.88 741.82,370.14 741.96,367.67 742.09,371.70 742.23,363.78 742.36,365.67 742.50,378.29 742.63,371.23 742.77,376.15 742.90,366.47 743.00,391.50 743.04,372.47 743.17,366.79 743.31,363.58 743.44,375.71 743.58,364.54 743.71,375.30 743.85,359.39 743.98,366.41 744.12,365.14 744.25,363.27 744.39,365.41 744.52,353.73 744.66,355.45 744.79,354.19 744.93,374.27 745.00,389.00 745.06,380.43 745.20,359.97 745.33,371.12 745.47,374.93 745.60,355.35 745.74,358.40 745.87,355.66 746.01,358.67 746.14,354.41 746.28,365.57 746.41,371.21 746.55,380.42 746.68,355.65 746.82,370.15 746.95,367.26 747.09,373.46 747.22,378.78 747.36,358.94 747.49,375.45 747.63,379.40 747.76,361.87 747.90,363.42 748.03,368.52 748.17,366.93 748.30,374.73 748.44,368.51 748.57,361.77 748.71,381.60 748.84,364.81 748.98,360.32 749.11,376.99 749.25,380.87 749.38,364.98 749.52,379.24 749.65,376.28 749.79,371.94 749.92,370.67 750.06,365.99 750.19,364.51 750.33,368.80 750.46,369.74 750.60,365.87 750.73,359.45 750.87,372.30 751.00,349.00 751.00,372.12 751.14,370.23 751.27,370.33 751.41,359.85 751.54,367.02 751.68,374.24 751.81,363.67 751.95,362.69 752.08,355.16 752.22,378.15 752.35,381.62 752.49,351.18 752.62,380.00 752.76,359.32 752.89,365.65 753.03,357.00 753.16,364.57 753.30,356.22 753.43,362.51 753.57,375.29 753.70,378.36 753.84,366.45 753.97,361.84 754.11,372.48 754.24,373.35 754.38,377.52 754.51,351.36 754.65,363.32 754.78,375.17 754.92,381.49 755.05,379.70 755.19,373.48 755.32,369.50 755.46,378.57 755.59,376.21 755.73,361.03 755.86,361.36 756.00,371.96 756.13,364.80 756.27,372.94 756.40,375.44 756.54,370.62 756.67,375.18 756.81,366.77 756.94,367.63 757.00,348.00 757.08,357.19 757.21,363.77 757.35,366.55 757.48,369.48 757.62,371.15 757.75,374.45 757.89,378.55 758.02,366.32 758.16,372.26 758.29,355.24 758.43,380.81 758.56,371.87 758.70,364.51 758.83,353.03 758.97,369.23 759.10,355.65 759.24,362.43 759.37,370.01 759.51,368.74 759.64,369.78 759.78,358.70 759.91,370.15 760.05,360.44 760.18,369.88 760.32,370.41 760.45,373.15 760.59,360.24 760.72,376.67 760.86,365.81 760.99,371.55 761.13,356.92 761.26,370.01 761.40,355.93 761.53,366.47 761.67,366.92 761.80,355.12 761.94,355.46 762.07,362.57 762.21,364.17 762.34,356.82 762.48,353.40 762.61,369.79 762.75,371.55 762.88,372.25 763.02,359.31 763.15,368.10 763.29,376.09 763.42,354.64 763.56,365.44 763.69,378.92 763.83,366.73 763.96,365.05 764.10,370.83 764.23,357.59 764.30,342.00 764.37,381.71 764.50,374.44 764.64,357.03 764.77,381.71 764.90,391.00 764.91,373.06 765.04,351.08 765.18,370.39 765.31,365.70 765.45,358.25 765.58,353.33 765.72,354.18 765.85,367.39 765.99,377.06 766.12,364.53 766.26,373.24 766.39,372.14 766.53,374.69 766.66,371.36 766.80,364.17 766.93,369.16 767.00,345.00 767.07,369.15 767.20,358.16 767.34,370.04 767.47,360.97 767.61,367.45 767.74,357.11 767.88,369.83 768.01,351.91 768.15,373.25 768.28,358.83 768.42,375.36 768.55,365.74 768.69,363.72 768.82,361.81 768.96,370.38 769.09,364.98 769.23,356.49 769.36,368.45 769.50,357.69 769.63,373.43 769.77,360.10 769.90,381.75 770.04,368.79 770.17,364.37 770.31,372.26 770.44,367.04 770.58,365.48 770.71,375.68 770.85,358.56 770.98,364.58 771.12,369.91 771.25,357.35 771.39,359.92 771.52,363.55 771.66,364.93 771.79,375.85 771.93,363.93 772.00,386.00 772.06,362.56 772.20,360.52 772.33,369.73 772.47,353.54 772.60,376.79 772.74,377.04 772.87,369.95 773.01,354.88 773.14,362.11 773.28,372.98 773.41,369.22 773.55,366.95 773.68,374.79 773.82,371.88 773.95,365.17 774.09,368.21 774.22,361.44 774.36,357.87 774.49,366.64 774.63,365.57 774.76,371.64 774.90,356.55 775.03,355.45 775.17,374.13 775.30,364.39 775.44,357.86 775.57,370.69 775.71,363.06 775.84,364.07 775.98,372.93 776.11,379.35 776.25,364.47 776.38,377.33 776.52,371.00 776.65,361.31 776.79,357.93 776.92,364.92 777.06,352.25 777.19,365.23 777.33,360.95 777.46,356.91 777.60,361.32 777.73,375.53 777.87,366.63 778.00,358.61 778.14,363.23 778.27,367.17 778.41,350.99 778.54,365.58 778.68,371.65 778.81,359.98 778.95,354.03 779.00,347.50 779.08,368.23 779.22,369.20 779.35,358.57 779.49,360.71 779.62,371.02 779.76,355.51 779.89,357.99 780.03,366.06 780.16,358.16 780.30,361.67 780.43,367.08 780.57,361.18 780.70,358.12 780.84,360.32 780.97,376.22 781.11,363.07 781.24,374.12 781.38,365.36 781.51,361.83 781.65,365.94 781.78,355.98 781.92,376.11 782.05,374.63 782.19,372.26 782.32,370.80 782.46,379.15 782.59,366.58 782.73,360.19 782.86,374.48 783.00,379.48 783.13,377.72 783.27,355.65 783.40,366.37 783.54,373.41 783.67,363.78 783.81,373.44 783.94,376.35 784.08,361.50 784.21,361.15 784.35,369.16 784.48,381.86 784.62,369.98 784.75,362.76 784.89,370.17 785.02,358.59 785.16,379.12 785.29,363.92 785.43,356.67 785.56,372.64 785.70,378.28 785.83,369.79 785.97,378.15 786.00,385.50 786.10,369.45 786.24,350.93 786.37,371.58 786.51,370.65 786.64,368.82 786.78,361.72 786.91,354.74 787.05,362.71 787.18,381.88 787.32,359.16 787.45,367.54 787.59,365.46 787.72,353.61 787.86,362.48 787.99,353.53 788.13,380.32 788.26,361.29 788.40,367.33 788.53,372.02 788.67,362.97 788.80,381.89 788.94,360.51 789.00,350.00 789.07,372.20 789.21,358.50 789.34,378.80 789.48,362.49 789.61,367.18 789.75,362.95" fill="none" stroke="#ffa500" stroke-width="0.5" stroke-linejoin="round"/>
<rect x="506.7" y="338.1" width="283.7" height="53.5" fill="none" stroke="#000" stroke-width="1.5"/>
<g stroke="#333" stroke-width="0.9">
<line x1="528.10" y1="337.4" x2="528.10" y2="333.1"/>
<line x1="528.10" y1="392.3" x2="528.10" y2="396.6"/>
<line x1="551.83" y1="337.4" x2="551.83" y2="333.1"/>
<line x1="551.83" y1="392.3" x2="551.83" y2="396.6"/>
<line x1="575.56" y1="337.4" x2="575.56" y2="333.1"/>
<line x1="575.56" y1="392.3" x2="575.56" y2="396.6"/>
<line x1="599.29" y1="337.4" x2="599.29" y2="333.1"/>
<line x1="599.29" y1="392.3" x2="599.29" y2="396.6"/>
<line x1="623.02" y1="337.4" x2="623.02" y2="333.1"/>
<line x1="623.02" y1="392.3" x2="623.02" y2="396.6"/>
<line x1="646.75" y1="337.4" x2="646.75" y2="333.1"/>
<line x1="646.75" y1="392.3" x2="646.75" y2="396.6"/>
<line x1="670.48" y1="337.4" x2="670.48" y2="333.1"/>
<line x1="670.48" y1="392.3" x2="670.48" y2="396.6"/>
<line x1="694.21" y1="337.4" x2="694.21" y2="333.1"/>
<line x1="694.21" y1="392.3" x2="694.21" y2="396.6"/>
<line x1="717.94" y1="337.4" x2="717.94" y2="333.1"/>
<line x1="717.94" y1="392.3" x2="717.94" y2="396.6"/>
<line x1="741.67" y1="337.4" x2="741.67" y2="333.1"/>
<line x1="741.67" y1="392.3" x2="741.67" y2="396.6"/>
<line x1="765.40" y1="337.4" x2="765.40" y2="333.1"/>
<line x1="765.40" y1="392.3" x2="765.40" y2="396.6"/>
<line x1="789.13" y1="337.4" x2="789.13" y2="333.1"/>
<line x1="789.13" y1="392.3" x2="789.13" y2="396.6"/>
</g>
<text class="s" x="528.20" y="409.1" font-size="10" letter-spacing="0.2" text-anchor="middle" style="fill:#0a0a0a">00</text>
<text class="s" x="551.93" y="409.1" font-size="10" letter-spacing="0.2" text-anchor="middle" style="fill:#0a0a0a">05</text>
<text class="s" x="575.66" y="409.1" font-size="10" letter-spacing="0.2" text-anchor="middle" style="fill:#0a0a0a">10</text>
<text class="s" x="599.39" y="409.1" font-size="10" letter-spacing="0.2" text-anchor="middle" style="fill:#0a0a0a">15</text>
<text class="s" x="623.12" y="409.1" font-size="10" letter-spacing="0.2" text-anchor="middle" style="fill:#0a0a0a">20</text>
<text class="s" x="646.85" y="409.1" font-size="10" letter-spacing="0.2" text-anchor="middle" style="fill:#0a0a0a">25</text>
<text class="s" x="670.58" y="409.1" font-size="10" letter-spacing="0.2" text-anchor="middle" style="fill:#0a0a0a">30</text>
<text class="s" x="694.31" y="409.1" font-size="10" letter-spacing="0.2" text-anchor="middle" style="fill:#0a0a0a">35</text>
<text class="s" x="718.04" y="409.1" font-size="10" letter-spacing="0.2" text-anchor="middle" style="fill:#0a0a0a">40</text>
<text class="s" x="741.77" y="409.1" font-size="10" letter-spacing="0.2" text-anchor="middle" style="fill:#0a0a0a">45</text>
<text class="s" x="765.50" y="409.1" font-size="10" letter-spacing="0.2" text-anchor="middle" style="fill:#0a0a0a">50</text>
<text class="s" x="789.23" y="409.1" font-size="10" letter-spacing="0.2" text-anchor="middle" style="fill:#0a0a0a">55</text>
<text class="s" x="799.4" y="346" font-size="10" font-weight="bold" style="fill:#0000ff">La Sabana</text>
<text class="s" x="799.4" y="369.1" font-size="10">Acel. Max. 0.0</text>
<text class="s" x="799.4" y="386" font-size="10">Int JMA: 0</text>
<text class="s" x="648.6" y="426" font-size="12" text-anchor="middle">Tiempo (s)</text>
</svg></body></html>
